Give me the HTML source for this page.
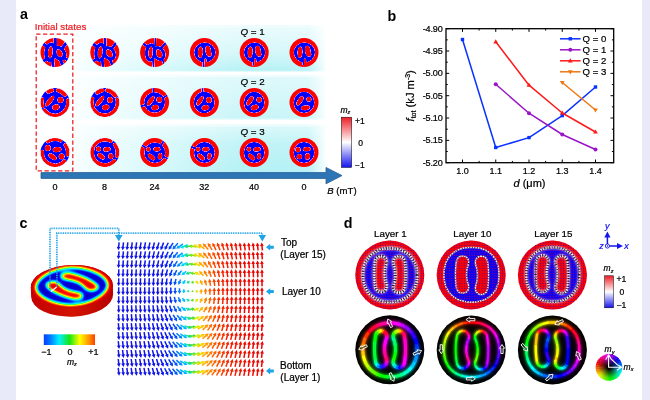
<!DOCTYPE html>
<html lang="en"><head><meta charset="utf-8"><title>Figure</title>
<style>
html,body{margin:0;padding:0;background:#fff;}
body{width:650px;height:400px;overflow:hidden;font-family:"Liberation Sans",Arial,sans-serif;}
svg{display:block}
svg text{font-family:"Liberation Sans",Arial,sans-serif;fill:#000;stroke:#000;stroke-width:0.22px}
.lbl{font-weight:bold;font-size:14.3px;stroke:none}
.i{font-style:italic}
</style></head><body>
<svg width="650" height="400" viewBox="0 0 650 400">

<defs>
<filter id="bwr" x="-5%" y="-5%" width="110%" height="110%" color-interpolation-filters="sRGB">
<feComponentTransfer><feFuncR type="table" tableValues="0 0.3 0.85 1 1"/><feFuncG type="table" tableValues="0 0.2 0.6 0.3 0"/><feFuncB type="table" tableValues="1 1 0.92 0.35 0"/></feComponentTransfer>
</filter>
<linearGradient id="band" x1="0" x2="1" y1="0" y2="0">
<stop offset="0" stop-color="#ffffff"/><stop offset="0.1" stop-color="#f1fdfd"/><stop offset="0.4" stop-color="#d3f8fa"/><stop offset="0.7" stop-color="#b4f1f5"/><stop offset="0.93" stop-color="#b9f2f6"/><stop offset="0.975" stop-color="#e3fafc"/><stop offset="1" stop-color="#ffffff"/>
</linearGradient>
<linearGradient id="bandv" x1="0" x2="0" y1="0" y2="1">
<stop offset="0" stop-color="#fff" stop-opacity="1"/><stop offset="0.04" stop-color="#fff" stop-opacity="0.72"/><stop offset="0.55" stop-color="#fff" stop-opacity="0.45"/><stop offset="0.8" stop-color="#fff" stop-opacity="0.2"/><stop offset="0.96" stop-color="#fff" stop-opacity="0"/><stop offset="1" stop-color="#fff" stop-opacity="0.8"/>
</linearGradient>
<linearGradient id="bandv2" x1="0" x2="0" y1="0" y2="1">
<stop offset="0" stop-color="#fff" stop-opacity="1"/><stop offset="0.05" stop-color="#fff" stop-opacity="0.55"/><stop offset="0.5" stop-color="#fff" stop-opacity="0.42"/><stop offset="0.95" stop-color="#fff" stop-opacity="0.25"/><stop offset="1" stop-color="#fff" stop-opacity="0.8"/>
</linearGradient>
<linearGradient id="bandv3" x1="0" x2="0" y1="0" y2="1">
<stop offset="0" stop-color="#fff" stop-opacity="1"/><stop offset="0.05" stop-color="#fff" stop-opacity="0.5"/><stop offset="0.4" stop-color="#fff" stop-opacity="0.15"/><stop offset="0.9" stop-color="#fff" stop-opacity="0"/><stop offset="1" stop-color="#fff" stop-opacity="0"/>
</linearGradient>
<linearGradient id="cbar" x1="0" x2="0" y1="0" y2="1">
<stop offset="0" stop-color="#ee1c25"/><stop offset="0.5" stop-color="#ffffff"/><stop offset="1" stop-color="#1414f0"/>
</linearGradient>
<filter id="jetf" x="-5%" y="-5%" width="110%" height="110%" color-interpolation-filters="sRGB">
<feGaussianBlur stdDeviation="1.9"/>
<feComponentTransfer><feFuncR type="table" tableValues="0 0 0 0 0.25 1 1 1 0.86"/><feFuncG type="table" tableValues="0 0.05 0.6 1 1 1 0.55 0.05 0"/><feFuncB type="table" tableValues="0.75 0.95 1 1 0.25 0 0 0 0"/></feComponentTransfer>
</filter>
<linearGradient id="cjet" x1="0" x2="1" y1="0" y2="0">
<stop offset="0" stop-color="#0a3cff"/><stop offset="0.12" stop-color="#0078ff"/><stop offset="0.3" stop-color="#00f0ff"/><stop offset="0.5" stop-color="#14e614"/><stop offset="0.7" stop-color="#ffff00"/><stop offset="0.88" stop-color="#ff9600"/><stop offset="1" stop-color="#ff3c00"/>
</linearGradient>
<linearGradient id="cside" x1="0" x2="1" y1="0" y2="0">
<stop offset="0" stop-color="#c40000"/><stop offset="0.5" stop-color="#d21400"/><stop offset="1" stop-color="#b80000"/>
</linearGradient>
<radialGradient id="cshade" cx="0.5" cy="0.5" r="0.5">
<stop offset="0" stop-color="#000" stop-opacity="0"/><stop offset="0.9" stop-color="#000" stop-opacity="0"/><stop offset="1" stop-color="#500" stop-opacity="0.18"/>
</radialGradient>
<clipPath id="cdisc"><ellipse cx="71.8" cy="286.2" rx="41" ry="21.2"/></clipPath>
<filter id="bwr1" x="-5%" y="-5%" width="110%" height="110%" color-interpolation-filters="sRGB"><feGaussianBlur stdDeviation="1.5"/>
<feComponentTransfer><feFuncR type="table" tableValues="0 0.05 1 1 1"/><feFuncG type="table" tableValues="0 0.05 1 0.05 0"/><feFuncB type="table" tableValues="1 1 1 0.05 0"/></feComponentTransfer></filter>
<filter id="bwr10" x="-5%" y="-5%" width="110%" height="110%" color-interpolation-filters="sRGB"><feGaussianBlur stdDeviation="0.8"/>
<feComponentTransfer><feFuncR type="table" tableValues="0 0.05 1 1 1"/><feFuncG type="table" tableValues="0 0.05 1 0.05 0"/><feFuncB type="table" tableValues="1 1 1 0.05 0"/></feComponentTransfer></filter>
<filter id="bwr15" x="-5%" y="-5%" width="110%" height="110%" color-interpolation-filters="sRGB"><feGaussianBlur stdDeviation="1.2"/>
<feComponentTransfer><feFuncR type="table" tableValues="0 0.05 1 1 1"/><feFuncG type="table" tableValues="0 0.05 1 0.05 0"/><feFuncB type="table" tableValues="1 1 1 0.05 0"/></feComponentTransfer></filter>
<filter id="glowm" x="-15%" y="-15%" width="130%" height="130%" color-interpolation-filters="sRGB">
<feGaussianBlur in="SourceGraphic" stdDeviation="1.3" result="b1"/><feGaussianBlur in="SourceGraphic" stdDeviation="2.6" result="b2"/>
<feComponentTransfer in="b2" result="b2a"><feFuncA type="linear" slope="0.75"/></feComponentTransfer>
<feComponentTransfer in="b1" result="b1a"><feFuncA type="linear" slope="1"/></feComponentTransfer>
<feMerge><feMergeNode in="b2a"/><feMergeNode in="b1a"/><feMergeNode in="SourceGraphic"/></feMerge></filter>
<filter id="glow" x="-10%" y="-10%" width="120%" height="120%"><feGaussianBlur stdDeviation="1.3"/></filter>
<filter id="soft" x="-10%" y="-10%" width="120%" height="120%"><feGaussianBlur stdDeviation="0.8"/></filter>
<pattern id="dots" x="-0.4" y="-0.4" width="2.54" height="2.54" patternUnits="userSpaceOnUse"><rect x="0.7" y="0.7" width="1.15" height="1.15" fill="#3200b4" fill-opacity="0.8"/></pattern>
<pattern id="rdots" x="-0.4" y="-0.4" width="2.54" height="2.54" patternUnits="userSpaceOnUse"><rect x="0.7" y="0.7" width="1.15" height="1.15" fill="#d20050" fill-opacity="0.65"/></pattern>
<pattern id="bdots" x="-0.4" y="-0.4" width="2.54" height="2.54" patternUnits="userSpaceOnUse"><rect x="0.7" y="0.7" width="1.15" height="1.15" fill="#000" fill-opacity="0.9"/></pattern>
<radialGradient id="wheel" cx="0.5" cy="0.5" r="0.5"><stop offset="0" stop-color="#000" stop-opacity="1"/><stop offset="0.15" stop-color="#000" stop-opacity="0.95"/><stop offset="0.75" stop-color="#000" stop-opacity="0.15"/><stop offset="1" stop-color="#000" stop-opacity="0"/></radialGradient>
<clipPath id="c34"><circle r="34.5"/></clipPath>
<clipPath id="c14"><circle r="14.5"/></clipPath>
</defs>
<rect width="650" height="400" fill="#fff"/>
<rect x="0" y="0" width="16" height="400" fill="#e8eafa"/>
<rect x="642" y="0" width="8" height="400" fill="#e8eafa"/>
<rect x="62" y="25.5" width="265" height="46.5" fill="url(#band)"/>
<rect x="62" y="25.5" width="265" height="46.5" fill="url(#bandv)"/>
<rect x="62" y="75.5" width="265" height="44.5" fill="url(#band)"/>
<rect x="62" y="75.5" width="265" height="44.5" fill="url(#bandv2)"/>
<rect x="62" y="124.5" width="265" height="48.5" fill="url(#band)"/>
<rect x="62" y="124.5" width="265" height="48.5" fill="url(#bandv3)"/>
<path d="M41 172.6 H326 V167.5 L342 175.6 L326 183.8 V178.4 H41 Z" fill="#2e75b6" stroke="#235d94" stroke-width="0.8"/>
<rect x="36.2" y="34.2" width="36.6" height="136.6" fill="none" stroke="#ee1c25" stroke-width="1.25" stroke-dasharray="4.3 2.5"/>
<g transform="translate(55 52.5)"><g clip-path="url(#c14)"><g filter="url(#bwr)"><rect x="-16" y="-16" width="32" height="32" fill="#fff"/><ellipse cx="-4.6" cy="-0.2" rx="4.3" ry="8" fill="none" stroke="#000" stroke-width="3.8" transform="rotate(6 -4.6 -0.2)"/><ellipse cx="4.5" cy="0.8" rx="4.6" ry="6.2" fill="none" stroke="#000" stroke-width="3.6" transform="rotate(-35 4.5 0.8)"/><path d="M0.3 -7 L0.2 -15 M-7.5 -5.5 L-13 -9.5 M7.5 -4.5 L11.5 -10 M-7.5 5.5 L-12.5 9.5 M-2.5 7 L-1.8 15 M8 4.5 L14 8.5 M5 6.5 L8.2 13.5" fill="none" stroke="#000" stroke-width="3.2" stroke-linecap="round" stroke-linejoin="round"/></g></g></g>
<g transform="translate(104.8 52.5)"><g clip-path="url(#c14)"><g filter="url(#bwr)"><rect x="-16" y="-16" width="32" height="32" fill="#fff"/><ellipse cx="-4.6" cy="-0.2" rx="4.2" ry="7.9" fill="none" stroke="#000" stroke-width="3.5" transform="rotate(6 -4.6 -0.2)"/><ellipse cx="4.5" cy="0.8" rx="4.5" ry="6.1" fill="none" stroke="#000" stroke-width="3.3" transform="rotate(-35 4.5 0.8)"/><path d="M0.3 -7 L0.2 -15 M-7.5 -5.5 L-13 -9.5 M7.5 -4.5 L11.5 -10 M-7.5 5.5 L-12.5 9.5 M-2.5 7 L-1.8 15 M5 6.5 L8 13.5" fill="none" stroke="#000" stroke-width="2.8" stroke-linecap="round" stroke-linejoin="round"/></g></g></g>
<g transform="translate(154.6 52.5)"><g clip-path="url(#c14)"><g filter="url(#bwr)"><rect x="-16" y="-16" width="32" height="32" fill="#fff"/><ellipse cx="-3.9" cy="0" rx="4" ry="7.6" fill="none" stroke="#000" stroke-width="3.4" transform="rotate(5 -3.9 0)"/><ellipse cx="4.4" cy="1" rx="4.6" ry="6.1" fill="none" stroke="#000" stroke-width="3.2" transform="rotate(-30 4.4 1)"/><path d="M0.5 -7 L0.8 -15" fill="none" stroke="#000" stroke-width="1.8" stroke-linecap="round" stroke-linejoin="round"/><path d="M-6.5 -5.5 L-12.5 -9.5 M7 -5 L11.5 -10" fill="none" stroke="#000" stroke-width="2.4" stroke-linecap="round" stroke-linejoin="round"/><path d="M-1.5 7 L-1 15" fill="none" stroke="#000" stroke-width="2" stroke-linecap="round" stroke-linejoin="round"/><path d="M7.5 5.5 L9.5 12" fill="none" stroke="#000" stroke-width="1.8" stroke-linecap="round" stroke-linejoin="round"/></g></g></g>
<g transform="translate(204.4 52.5)"><g clip-path="url(#c14)"><g filter="url(#bwr)"><rect x="-16" y="-16" width="32" height="32" fill="#fff"/><ellipse cx="0.4" cy="0" rx="10.6" ry="10" fill="#000"/><path d="M-0.8 15 L-0.7 9" fill="none" stroke="#000" stroke-width="2.1" stroke-linecap="round" stroke-linejoin="round"/><ellipse cx="-4" cy="-0.3" rx="2.5" ry="5.8" fill="#fff" transform="rotate(3 -4 -0.3)"/><ellipse cx="3.8" cy="-1.6" rx="2.8" ry="5.1" fill="#fff" transform="rotate(-8 3.8 -1.6)"/><ellipse cx="5" cy="1.8" rx="2.3" ry="2.5" fill="#fff"/><path d="M1.7 13 L0.9 7" fill="none" stroke="#fff" stroke-width="2.2" stroke-linecap="round" stroke-linejoin="round"/></g></g></g>
<g transform="translate(254.2 52.5)"><g clip-path="url(#c14)"><g filter="url(#bwr)"><rect x="-16" y="-16" width="32" height="32" fill="#fff"/><ellipse cx="0.4" cy="0" rx="10.6" ry="10" fill="#000"/><path d="M-0.8 12.5 L-0.7 9" fill="none" stroke="#000" stroke-width="1.7" stroke-linecap="round" stroke-linejoin="round"/><ellipse cx="-4" cy="-0.3" rx="2.5" ry="5.8" fill="#fff" transform="rotate(3 -4 -0.3)"/><ellipse cx="3.8" cy="-1.6" rx="2.8" ry="5.1" fill="#fff" transform="rotate(-8 3.8 -1.6)"/><ellipse cx="5" cy="1.8" rx="2.3" ry="2.5" fill="#fff"/><path d="M1.7 13 L0.9 7" fill="none" stroke="#fff" stroke-width="2.2" stroke-linecap="round" stroke-linejoin="round"/></g></g></g>
<g transform="translate(304 52.5)"><g clip-path="url(#c14)"><g filter="url(#bwr)"><rect x="-16" y="-16" width="32" height="32" fill="#fff"/><ellipse cx="0.4" cy="0" rx="10.6" ry="10" fill="#000"/><path d="M-0.8 12 L-0.7 9" fill="none" stroke="#000" stroke-width="1.6" stroke-linecap="round" stroke-linejoin="round"/><ellipse cx="-4" cy="-0.3" rx="2.5" ry="5.8" fill="#fff" transform="rotate(3 -4 -0.3)"/><ellipse cx="3.8" cy="-1.6" rx="2.8" ry="5.1" fill="#fff" transform="rotate(-8 3.8 -1.6)"/><ellipse cx="5" cy="1.8" rx="2.3" ry="2.5" fill="#fff"/><path d="M1.7 13 L0.9 7" fill="none" stroke="#fff" stroke-width="2.2" stroke-linecap="round" stroke-linejoin="round"/></g></g></g>
<g transform="translate(55 102.5)"><g clip-path="url(#c14)"><g filter="url(#bwr)"><rect x="-16" y="-16" width="32" height="32" fill="#fff"/><rect x="-16" y="-16" width="32" height="32" fill="#000"/><path d="M-6.68 -10.69 A12.6 12.6 0 0 1 -3.05 -12.23" fill="none" stroke="#fff" stroke-width="4" stroke-linecap="round" stroke-linejoin="round"/><path d="M3.05 -12.23 A12.6 12.6 0 0 1 9.93 -7.76" fill="none" stroke="#fff" stroke-width="4" stroke-linecap="round" stroke-linejoin="round"/><path d="M-12.36 4.02 A13 13 0 0 1 -12.5 -3.58" fill="none" stroke="#fff" stroke-width="3.2" stroke-linecap="round" stroke-linejoin="round"/><path d="M12.7 -2.24 A12.9 12.9 0 0 1 -10.44 7.58" fill="none" stroke="#fff" stroke-width="3.4" stroke-linecap="round" stroke-linejoin="round"/><ellipse cx="-5.3" cy="-1.4" rx="2.3" ry="6.7" fill="#fff" transform="rotate(39 -5.3 -1.4)"/><ellipse cx="5.5" cy="-2.5" rx="3" ry="3" fill="#fff"/><ellipse cx="0.9" cy="4.8" rx="3.7" ry="2.8" fill="#fff" transform="rotate(-15 0.9 4.8)"/></g></g></g>
<g transform="translate(104.8 102.5)"><g clip-path="url(#c14)"><g filter="url(#bwr)"><rect x="-16" y="-16" width="32" height="32" fill="#fff"/><rect x="-16" y="-16" width="32" height="32" fill="#000"/><path d="M-7.35 -10.11 A12.5 12.5 0 0 1 -2.6 -12.23" fill="none" stroke="#fff" stroke-width="4.2" stroke-linecap="round" stroke-linejoin="round"/><path d="M2.6 -12.23 A12.5 12.5 0 0 1 10.36 -6.99" fill="none" stroke="#fff" stroke-width="4.2" stroke-linecap="round" stroke-linejoin="round"/><path d="M-11.96 4.83 A12.9 12.9 0 0 1 -12.27 -3.99" fill="none" stroke="#fff" stroke-width="3.4" stroke-linecap="round" stroke-linejoin="round"/><path d="M12.42 -3.1 A12.8 12.8 0 0 1 -10.61 7.16" fill="none" stroke="#fff" stroke-width="3.6" stroke-linecap="round" stroke-linejoin="round"/><ellipse cx="-5" cy="-1.4" rx="2.3" ry="6.5" fill="#fff" transform="rotate(39 -5 -1.4)"/><ellipse cx="5.3" cy="-2.5" rx="2.9" ry="2.9" fill="#fff"/><ellipse cx="0.9" cy="4.8" rx="3.7" ry="2.7" fill="#fff" transform="rotate(-15 0.9 4.8)"/></g></g></g>
<g transform="translate(154.6 102.5)"><g clip-path="url(#c14)"><g filter="url(#bwr)"><rect x="-16" y="-16" width="32" height="32" fill="#fff"/><ellipse cx="0" cy="0" rx="10.4" ry="10.2" fill="#000"/><path d="M-1.5 -15 L-1.3 -9" fill="none" stroke="#000" stroke-width="1.6" stroke-linecap="round" stroke-linejoin="round"/><path d="M14 -8 L9 -5 M-15 4 L-9 2.5" fill="none" stroke="#000" stroke-width="1.9" stroke-linecap="round" stroke-linejoin="round"/><ellipse cx="-3.9" cy="-1.6" rx="2.3" ry="5.8" fill="#fff" transform="rotate(36 -3.9 -1.6)"/><ellipse cx="4.7" cy="-2.8" rx="2.9" ry="2.9" fill="#fff"/><ellipse cx="0.6" cy="5" rx="3.7" ry="2.7" fill="#fff" transform="rotate(-15 0.6 5)"/></g></g></g>
<g transform="translate(204.4 102.5)"><g clip-path="url(#c14)"><g filter="url(#bwr)"><rect x="-16" y="-16" width="32" height="32" fill="#fff"/><ellipse cx="-0.2" cy="-0.1" rx="10.4" ry="10.7" fill="#000"/><path d="M-2 -15 L-1.8 -9" fill="none" stroke="#000" stroke-width="1.9" stroke-linecap="round" stroke-linejoin="round"/><ellipse cx="-4.4" cy="-1.7" rx="2.3" ry="5.5" fill="#fff" transform="rotate(34 -4.4 -1.7)"/><ellipse cx="4.5" cy="-2.5" rx="2.9" ry="2.9" fill="#fff"/><ellipse cx="1" cy="5.2" rx="3.9" ry="2.6" fill="#fff" transform="rotate(-15 1 5.2)"/></g></g></g>
<g transform="translate(254.2 102.5)"><g clip-path="url(#c14)"><g filter="url(#bwr)"><rect x="-16" y="-16" width="32" height="32" fill="#fff"/><ellipse cx="0" cy="-0.1" rx="10.3" ry="10.6" fill="#000"/><ellipse cx="-4.2" cy="-1.7" rx="2.3" ry="5.3" fill="#fff" transform="rotate(34 -4.2 -1.7)"/><ellipse cx="5" cy="-2.8" rx="2.7" ry="2.7" fill="#fff"/><ellipse cx="0.5" cy="4.9" rx="4" ry="2.6" fill="#fff" transform="rotate(-15 0.5 4.9)"/></g></g></g>
<g transform="translate(304 102.5)"><g clip-path="url(#c14)"><g filter="url(#bwr)"><rect x="-16" y="-16" width="32" height="32" fill="#fff"/><ellipse cx="0" cy="-0.1" rx="10.3" ry="10.6" fill="#000"/><ellipse cx="-4" cy="-1.7" rx="2.3" ry="5.3" fill="#fff" transform="rotate(34 -4 -1.7)"/><ellipse cx="4.9" cy="-3.2" rx="2.5" ry="2.5" fill="#fff"/><ellipse cx="1.4" cy="5.3" rx="4.5" ry="2.4" fill="#fff" transform="rotate(-6 1.4 5.3)"/></g></g></g>
<g transform="translate(55 152.5)"><g clip-path="url(#c14)"><g filter="url(#bwr)"><rect x="-16" y="-16" width="32" height="32" fill="#fff"/><rect x="-16" y="-16" width="32" height="32" fill="#000"/><path d="M-7.27 -10.78 A13 13 0 0 1 5.7 -11.68" fill="none" stroke="#fff" stroke-width="3.2" stroke-linecap="round" stroke-linejoin="round"/><path d="M10.36 -7.52 A12.8 12.8 0 0 1 12.61 2.22" fill="none" stroke="#fff" stroke-width="3.6" stroke-linecap="round" stroke-linejoin="round"/><path d="M9.51 8.56 A12.8 12.8 0 0 1 -12.77 -0.89" fill="none" stroke="#fff" stroke-width="3.6" stroke-linecap="round" stroke-linejoin="round"/><ellipse cx="-7.2" cy="-4.6" rx="3" ry="3" fill="#fff"/><ellipse cx="2.1" cy="-2.9" rx="4.4" ry="2.5" fill="#fff" transform="rotate(-5 2.1 -2.9)"/><ellipse cx="-2.5" cy="4.3" rx="4.6" ry="2.4" fill="#fff" transform="rotate(34 -2.5 4.3)"/><ellipse cx="6.6" cy="3.9" rx="2.9" ry="2.9" fill="#fff"/></g></g></g>
<g transform="translate(104.8 152.5)"><g clip-path="url(#c14)"><g filter="url(#bwr)"><rect x="-16" y="-16" width="32" height="32" fill="#fff"/><rect x="-16" y="-16" width="32" height="32" fill="#000"/><path d="M-10.86 -6.78 A12.8 12.8 0 0 1 6.01 -11.3" fill="none" stroke="#fff" stroke-width="3.6" stroke-linecap="round" stroke-linejoin="round"/><path d="M10.01 -7.82 A12.7 12.7 0 0 1 12.21 3.5" fill="none" stroke="#fff" stroke-width="3.8" stroke-linecap="round" stroke-linejoin="round"/><path d="M9.44 8.5 A12.7 12.7 0 0 1 -12.08 -3.92" fill="none" stroke="#fff" stroke-width="3.8" stroke-linecap="round" stroke-linejoin="round"/><ellipse cx="-6.3" cy="-3.4" rx="2.5" ry="2.5" fill="#fff"/><ellipse cx="2.2" cy="-3.2" rx="3.8" ry="2.3" fill="#fff" transform="rotate(-5 2.2 -3.2)"/><ellipse cx="-3.6" cy="3.9" rx="4.3" ry="2.3" fill="#fff" transform="rotate(35 -3.6 3.9)"/><ellipse cx="6" cy="3.7" rx="2.5" ry="3" fill="#fff"/></g></g></g>
<g transform="translate(154.6 152.5)"><g clip-path="url(#c14)"><g filter="url(#bwr)"><rect x="-16" y="-16" width="32" height="32" fill="#fff"/><ellipse cx="0.2" cy="0.2" rx="10.4" ry="10.2" fill="#000"/><path d="M-14 -8 L-9 -5 M10 -13 L7 -8 M15 7 L9.5 4.5" fill="none" stroke="#000" stroke-width="1.9" stroke-linecap="round" stroke-linejoin="round"/><ellipse cx="-6.2" cy="-3.2" rx="2.2" ry="2.4" fill="#fff"/><ellipse cx="2.3" cy="-3.2" rx="3.6" ry="2.2" fill="#fff" transform="rotate(-5 2.3 -3.2)"/><ellipse cx="-3.1" cy="4.5" rx="4.2" ry="2.3" fill="#fff" transform="rotate(40 -3.1 4.5)"/><ellipse cx="5.4" cy="3.7" rx="2.2" ry="3.2" fill="#fff" transform="rotate(8 5.4 3.7)"/></g></g></g>
<g transform="translate(204.4 152.5)"><g clip-path="url(#c14)"><g filter="url(#bwr)"><rect x="-16" y="-16" width="32" height="32" fill="#fff"/><ellipse cx="0" cy="0" rx="10.4" ry="10.6" fill="#000"/><path d="M-15 -6.5 L-9 -4" fill="none" stroke="#000" stroke-width="1.9" stroke-linecap="round" stroke-linejoin="round"/><ellipse cx="-6.4" cy="-3.2" rx="2.2" ry="2.4" fill="#fff"/><ellipse cx="1.4" cy="-3.2" rx="3.7" ry="2.3" fill="#fff" transform="rotate(-5 1.4 -3.2)"/><ellipse cx="-3.4" cy="4.5" rx="4.3" ry="2.4" fill="#fff" transform="rotate(40 -3.4 4.5)"/><ellipse cx="4.9" cy="3.7" rx="2.2" ry="3.3" fill="#fff" transform="rotate(8 4.9 3.7)"/></g></g></g>
<g transform="translate(254.2 152.5)"><g clip-path="url(#c14)"><g filter="url(#bwr)"><rect x="-16" y="-16" width="32" height="32" fill="#fff"/><ellipse cx="0" cy="0" rx="10.3" ry="10.6" fill="#000"/><ellipse cx="-5.3" cy="-3.3" rx="2.2" ry="2.3" fill="#fff"/><ellipse cx="2.8" cy="-3.2" rx="3.8" ry="2.2" fill="#fff" transform="rotate(-5 2.8 -3.2)"/><ellipse cx="-2.7" cy="4.5" rx="4.2" ry="2.3" fill="#fff" transform="rotate(42 -2.7 4.5)"/><ellipse cx="4.8" cy="3.7" rx="2.1" ry="3.1" fill="#fff" transform="rotate(8 4.8 3.7)"/></g></g></g>
<g transform="translate(304 152.5)"><g clip-path="url(#c14)"><g filter="url(#bwr)"><rect x="-16" y="-16" width="32" height="32" fill="#fff"/><ellipse cx="0" cy="0" rx="10.3" ry="10.6" fill="#000"/><ellipse cx="-6" cy="-2.8" rx="2.6" ry="2.6" fill="#fff"/><ellipse cx="2.9" cy="-3.3" rx="4.1" ry="2.1" fill="#fff" transform="rotate(-5 2.9 -3.3)"/><ellipse cx="-4.6" cy="4.1" rx="2.7" ry="2.6" fill="#fff"/><ellipse cx="3.5" cy="4" rx="2.6" ry="3.3" fill="#fff" transform="rotate(8 3.5 4)"/></g></g></g>
<text class="lbl" x="20" y="18.8">a</text>
<text x="34.8" y="30" font-size="9.75" style="fill:#ee1c25;stroke:#ee1c25">Initial states</text>
<text x="240.5" y="34.5" font-size="9.8"><tspan class="i">Q</tspan> = 1</text>
<text x="240.5" y="84.5" font-size="9.8"><tspan class="i">Q</tspan> = 2</text>
<text x="240.5" y="134.5" font-size="9.8"><tspan class="i">Q</tspan> = 3</text>
<text x="55" y="190.3" font-size="9" text-anchor="middle">0</text>
<text x="104.5" y="190.3" font-size="9" text-anchor="middle">8</text>
<text x="154.5" y="190.3" font-size="9" text-anchor="middle">24</text>
<text x="204.2" y="190.3" font-size="9" text-anchor="middle">32</text>
<text x="254" y="190.3" font-size="9" text-anchor="middle">40</text>
<text x="304" y="190.3" font-size="9" text-anchor="middle">0</text>
<text x="327.3" y="193.7" font-size="9.6"><tspan class="i">B</tspan> (mT)</text>
<rect x="341.4" y="117.2" width="10.3" height="50.2" fill="url(#cbar)" stroke="#000" stroke-width="0.5"/>
<text x="340.5" y="112.5" font-size="8.5" class="i">m<tspan font-size="5.5" dy="1.5">z</tspan></text>
<text x="359.8" y="123.8" font-size="8.5" text-anchor="middle">+1</text>
<text x="360.6" y="146" font-size="8.5" text-anchor="middle">0</text>
<text x="359.8" y="168.2" font-size="8.5" text-anchor="middle">−1</text>
<polyline points="462.5,39.5 495.75,147.5 529,137.6 562.25,115.6 595.5,87" fill="none" stroke="#0a32ff" stroke-width="1.5" stroke-linejoin="round"/>
<rect x="460.8" y="37.8" width="3.4" height="3.4" fill="#0a32ff"/>
<rect x="494.05" y="145.8" width="3.4" height="3.4" fill="#0a32ff"/>
<rect x="527.3" y="135.9" width="3.4" height="3.4" fill="#0a32ff"/>
<rect x="560.55" y="113.9" width="3.4" height="3.4" fill="#0a32ff"/>
<rect x="593.8" y="85.3" width="3.4" height="3.4" fill="#0a32ff"/>
<polyline points="495.75,84.2 529,113.2 562.25,134.5 595.5,149.5" fill="none" stroke="#9a14c8" stroke-width="1.5" stroke-linejoin="round"/>
<circle cx="495.75" cy="84.2" r="2" fill="#9a14c8"/>
<circle cx="529" cy="113.2" r="2" fill="#9a14c8"/>
<circle cx="562.25" cy="134.5" r="2" fill="#9a14c8"/>
<circle cx="595.5" cy="149.5" r="2" fill="#9a14c8"/>
<polyline points="495.75,41.8 529,85.2 562.25,113 595.5,132" fill="none" stroke="#ff1a1a" stroke-width="1.5" stroke-linejoin="round"/>
<path d="M495.75 39.2 L498.15 43.4 H493.35 Z" fill="#ff1a1a"/>
<path d="M529 82.6 L531.4 86.8 H526.6 Z" fill="#ff1a1a"/>
<path d="M562.25 110.4 L564.65 114.6 H559.85 Z" fill="#ff1a1a"/>
<path d="M595.5 129.4 L597.9 133.6 H593.1 Z" fill="#ff1a1a"/>
<polyline points="562.25,82.5 595.5,110" fill="none" stroke="#f07814" stroke-width="1.5" stroke-linejoin="round"/>
<path d="M562.25 85.1 L564.65 80.9 H559.85 Z" fill="#f07814"/>
<path d="M595.5 112.6 L597.9 108.4 H593.1 Z" fill="#f07814"/>
<rect x="446.0" y="28.7" width="167.7" height="134" fill="none" stroke="#000" stroke-width="1.3"/>
<path d="M446.0 28.7 h3.2 M613.7 28.7 h-3.2 M446.0 39.87 h1.8 M613.7 39.87 h-1.8 M446.0 51.03 h3.2 M613.7 51.03 h-3.2 M446.0 62.2 h1.8 M613.7 62.2 h-1.8 M446.0 73.37 h3.2 M613.7 73.37 h-3.2 M446.0 84.53 h1.8 M613.7 84.53 h-1.8 M446.0 95.7 h3.2 M613.7 95.7 h-3.2 M446.0 106.87 h1.8 M613.7 106.87 h-1.8 M446.0 118.03 h3.2 M613.7 118.03 h-3.2 M446.0 129.2 h1.8 M613.7 129.2 h-1.8 M446.0 140.37 h3.2 M613.7 140.37 h-3.2 M446.0 151.53 h1.8 M613.7 151.53 h-1.8 M446.0 162.7 h3.2 M613.7 162.7 h-3.2 M462.5 162.7 v-3.2 M462.5 28.7 v3.2 M495.75 162.7 v-3.2 M495.75 28.7 v3.2 M529 162.7 v-3.2 M529 28.7 v3.2 M562.25 162.7 v-3.2 M562.25 28.7 v3.2 M595.5 162.7 v-3.2 M595.5 28.7 v3.2 M479.12 162.7 v-1.8 M479.12 28.7 v1.8 M512.38 162.7 v-1.8 M512.38 28.7 v1.8 M545.62 162.7 v-1.8 M545.62 28.7 v1.8 M578.88 162.7 v-1.8 M578.88 28.7 v1.8" stroke="#000" stroke-width="1" fill="none"/>
<text x="442.5" y="31.7" font-size="9.1" letter-spacing="-0.2" text-anchor="end">-4.90</text>
<text x="442.5" y="54.03" font-size="9.1" letter-spacing="-0.2" text-anchor="end">-4.95</text>
<text x="442.5" y="76.37" font-size="9.1" letter-spacing="-0.2" text-anchor="end">-5.00</text>
<text x="442.5" y="98.7" font-size="9.1" letter-spacing="-0.2" text-anchor="end">-5.05</text>
<text x="442.5" y="121.03" font-size="9.1" letter-spacing="-0.2" text-anchor="end">-5.10</text>
<text x="442.5" y="143.37" font-size="9.1" letter-spacing="-0.2" text-anchor="end">-5.15</text>
<text x="442.5" y="165.7" font-size="9.1" letter-spacing="-0.2" text-anchor="end">-5.20</text>
<text x="462.5" y="174.3" font-size="9" text-anchor="middle">1.0</text>
<text x="495.75" y="174.3" font-size="9" text-anchor="middle">1.1</text>
<text x="529" y="174.3" font-size="9" text-anchor="middle">1.2</text>
<text x="562.25" y="174.3" font-size="9" text-anchor="middle">1.3</text>
<text x="595.5" y="174.3" font-size="9" text-anchor="middle">1.4</text>
<text x="529.5" y="187.2" font-size="11" text-anchor="middle"><tspan class="i">d</tspan> (μm)</text>
<text transform="translate(413.6 95.8) rotate(-90)" font-size="11.2" text-anchor="middle"><tspan class="i">f</tspan><tspan font-size="7" dy="2">tot</tspan><tspan dy="-2"> (kJ m</tspan><tspan font-size="7" dy="-3.5">-3</tspan><tspan dy="3.5">)</tspan></text>
<path d="M560 38.8 H580.6" stroke="#0a32ff" stroke-width="1.5"/>
<rect x="568.6" y="37.1" width="3.4" height="3.4" fill="#0a32ff"/>
<text x="582.6" y="42.2" font-size="9.6">Q = 0</text>
<path d="M560 49.8 H580.6" stroke="#9a14c8" stroke-width="1.5"/>
<circle cx="570.3" cy="49.8" r="2" fill="#9a14c8"/>
<text x="582.6" y="53.2" font-size="9.6">Q = 1</text>
<path d="M560 60.8 H580.6" stroke="#ff1a1a" stroke-width="1.5"/>
<path d="M570.3 58.2 L572.7 62.4 H567.9 Z" fill="#ff1a1a"/>
<text x="582.6" y="64.2" font-size="9.6">Q = 2</text>
<path d="M560 71.8 H580.6" stroke="#f07814" stroke-width="1.5"/>
<path d="M570.3 74.4 L572.7 70.2 H567.9 Z" fill="#f07814"/>
<text x="582.6" y="75.2" font-size="9.6">Q = 3</text>
<text class="lbl" x="387.6" y="20.6">b</text>
<g transform="rotate(-2 71.8 286.2)">
<path d="M30.8 286.2 v9.3 A41.0 21.2 0 0 0 112.8 295.5 v-9.3 Z" fill="url(#cside)"/>
<ellipse cx="71.8" cy="286.2" rx="41.0" ry="21.2" fill="#d80000"/>
<g clip-path="url(#cdisc)"><g filter="url(#jetf)"><rect x="20" y="255" width="104" height="64" fill="#fff"/><g transform="translate(71.8 286.2) scale(41.0 21.2) rotate(-46)"><path d="M0.84 0 L0.84 0.1 L0.83 0.18 L0.81 0.25 L0.79 0.32 L0.77 0.39 L0.74 0.45 L0.7 0.51 L0.66 0.57 L0.62 0.62 L0.57 0.66 L0.51 0.7 L0.45 0.74 L0.39 0.77 L0.32 0.79 L0.25 0.81 L0.18 0.83 L0.1 0.84 L0 0.84 L-0.1 0.84 L-0.18 0.83 L-0.25 0.81 L-0.32 0.79 L-0.39 0.77 L-0.45 0.74 L-0.51 0.7 L-0.57 0.66 L-0.62 0.62 L-0.66 0.57 L-0.7 0.51 L-0.74 0.45 L-0.77 0.39 L-0.79 0.32 L-0.81 0.25 L-0.83 0.18 L-0.84 0.1 L-0.84 0 L-0.84 -0.1 L-0.83 -0.18 L-0.81 -0.25 L-0.79 -0.32 L-0.77 -0.39 L-0.74 -0.45 L-0.7 -0.51 L-0.66 -0.57 L-0.62 -0.62 L-0.57 -0.66 L-0.51 -0.7 L-0.45 -0.74 L-0.39 -0.77 L-0.32 -0.79 L-0.25 -0.81 L-0.18 -0.83 L-0.1 -0.84 L0 -0.84 L0.1 -0.84 L0.18 -0.83 L0.25 -0.81 L0.32 -0.79 L0.39 -0.77 L0.45 -0.74 L0.51 -0.7 L0.57 -0.66 L0.62 -0.62 L0.66 -0.57 L0.7 -0.51 L0.74 -0.45 L0.77 -0.39 L0.79 -0.32 L0.81 -0.25 L0.83 -0.18 L0.84 -0.1Z" fill="#000"/><path d="M-0.11 -0.34 L-0.13 -0.29 L-0.15 -0.24 L-0.17 -0.2 L-0.18 -0.15 L-0.19 -0.1 L-0.2 -0.05 L-0.2 0 L-0.2 0.05 L-0.19 0.1 L-0.18 0.15 L-0.17 0.2 L-0.15 0.24 L-0.13 0.29 L-0.11 0.34 L-0.1 0.4 L-0.11 0.46 L-0.15 0.51 L-0.2 0.55 L-0.26 0.56 L-0.32 0.55 L-0.37 0.51 L-0.41 0.46 L-0.43 0.39 L-0.44 0.33 L-0.46 0.26 L-0.47 0.2 L-0.47 0.13 L-0.48 0.07 L-0.48 0 L-0.48 -0.07 L-0.47 -0.13 L-0.47 -0.2 L-0.46 -0.26 L-0.44 -0.33 L-0.43 -0.39 L-0.41 -0.46 L-0.37 -0.51 L-0.32 -0.55 L-0.26 -0.56 L-0.2 -0.55 L-0.15 -0.51 L-0.11 -0.46 L-0.1 -0.4Z" fill="#fff"/><path d="M0.43 -0.47 L0.45 -0.4 L0.46 -0.33 L0.48 -0.27 L0.49 -0.2 L0.49 -0.13 L0.5 -0.07 L0.5 0 L0.5 0.07 L0.49 0.13 L0.49 0.2 L0.48 0.27 L0.46 0.33 L0.45 0.4 L0.43 0.47 L0.4 0.52 L0.34 0.56 L0.28 0.57 L0.22 0.56 L0.17 0.53 L0.13 0.47 L0.12 0.41 L0.13 0.35 L0.15 0.3 L0.17 0.25 L0.19 0.2 L0.2 0.15 L0.21 0.1 L0.22 0.05 L0.22 0 L0.22 -0.05 L0.21 -0.1 L0.2 -0.15 L0.19 -0.2 L0.17 -0.25 L0.15 -0.3 L0.13 -0.35 L0.12 -0.41 L0.13 -0.47 L0.17 -0.53 L0.22 -0.56 L0.28 -0.57 L0.34 -0.56 L0.4 -0.52Z" fill="#fff"/></g></g></g>
<ellipse cx="71.8" cy="286.2" rx="41.0" ry="21.2" fill="url(#cshade)"/>
</g>
<path d="M51.4 291.2 L56.3 287.2" stroke="#fff" stroke-width="1.4" stroke-linecap="round"/>
<g fill="none" stroke="#1fa2e6" stroke-width="1.7" stroke-dasharray="0.95 0.8"><path d="M50 289 V228.4 H118.8 V235.5"/><path d="M56.9 286.5 V233.2 H262.3 V235.5"/></g>
<path d="M115 235 h7.6 l-3.8 6.6 Z M258.5 235 h7.6 l-3.8 6.6 Z" fill="#1fa2e6"/>
<path d="M266 247.2 l4.2 -3.4 v1.9 h3.6 v3 h-3.6 v1.9 Z" fill="#1fa2e6"/>
<path d="M266 291.6 l4.2 -3.4 v1.9 h3.6 v3 h-3.6 v1.9 Z" fill="#1fa2e6"/>
<path d="M266 371 l4.2 -3.4 v1.9 h3.6 v3 h-3.6 v1.9 Z" fill="#1fa2e6"/>
<path fill="#1414e5" d="M118.37 242.37 117.91 246.79 116.76 246.67 118.29 250.35 120.54 247.07 119.4 246.95 119.86 242.53Z M118.31 251.35 117.91 255.76 116.77 255.66 118.34 259.31 120.55 256 119.4 255.9 119.81 251.48Z M122.45 269.31 122.28 273.72 121.13 273.67 122.89 277.24 124.92 273.82 123.77 273.77 123.94 269.37Z M126.63 287.27 126.63 291.67 125.48 291.67 127.38 295.17 129.28 291.67 128.13 291.67 128.13 287.27Z M122.02 314.22 122.33 318.62 121.18 318.71 123.32 322.06 124.97 318.44 123.82 318.52 123.51 314.11Z M117.55 332.17 118 336.59 116.86 336.7 119.1 339.99 120.64 336.32 119.49 336.43 119.04 332.02Z M117.52 341.14 118.01 345.56 116.86 345.68 119.13 348.96 120.64 345.27 119.5 345.4 119.01 340.98Z"/>
<path fill="#1314e5" d="M122.73 242.37 122.25 246.79 121.1 246.66 122.61 250.35 124.88 247.08 123.74 246.95 124.22 242.53Z M127.1 242.36 126.58 246.79 125.44 246.65 126.92 250.35 129.22 247.09 128.07 246.96 128.59 242.54Z M131.48 242.36 130.92 246.78 129.78 246.64 131.23 250.35 133.55 247.11 132.41 246.97 132.97 242.55Z M122.67 251.34 122.25 255.76 121.11 255.65 122.67 259.31 124.89 256.01 123.74 255.9 124.17 251.49Z M127.04 251.34 126.59 255.76 125.45 255.64 126.98 259.31 129.23 256.02 128.08 255.91 128.53 251.49Z M131.41 251.33 130.93 255.75 129.79 255.63 131.3 259.31 133.56 256.04 132.42 255.91 132.9 251.5Z M122.58 260.33 122.26 264.73 121.11 264.65 122.76 268.28 124.9 264.92 123.76 264.84 124.07 260.43Z M126.94 260.32 126.6 264.73 125.46 264.64 127.08 268.28 129.24 264.93 128.1 264.84 128.43 260.44Z M131.31 260.32 130.94 264.73 129.8 264.63 131.4 268.28 133.58 264.95 132.44 264.85 132.8 260.44Z M126.8 269.31 126.62 273.71 125.47 273.67 127.22 277.24 129.26 273.83 128.12 273.78 128.3 269.38Z M131.16 269.31 130.96 273.71 129.81 273.66 131.54 277.24 133.6 273.83 132.46 273.78 132.66 269.38Z M135.53 269.31 135.3 273.71 134.15 273.64 135.86 277.24 137.94 273.85 136.79 273.79 137.03 269.39Z M126.68 278.3 126.63 282.7 125.48 282.68 127.34 286.21 129.28 282.73 128.13 282.72 128.18 278.32Z M131.03 278.3 130.97 282.7 129.82 282.68 131.67 286.21 133.62 282.73 132.47 282.72 132.53 278.32Z M135.39 278.3 135.31 282.69 134.16 282.67 136 286.21 137.96 282.74 136.81 282.72 136.89 278.32Z M130.98 287.27 130.98 291.67 129.83 291.67 131.73 295.17 133.63 291.67 132.48 291.67 132.48 287.27Z M135.32 287.27 135.32 291.67 134.17 291.67 136.07 295.17 137.97 291.67 136.82 291.67 136.82 287.27Z M126.59 296.24 126.64 300.64 125.49 300.66 127.43 304.14 129.29 300.61 128.14 300.63 128.09 296.23Z M130.92 296.25 130.98 300.65 129.83 300.66 131.78 304.13 133.63 300.61 132.48 300.62 132.42 296.23Z M135.25 296.25 135.33 300.65 134.18 300.67 136.14 304.13 137.98 300.6 136.83 300.62 136.75 296.22Z M126.47 305.23 126.65 309.63 125.51 309.68 127.55 313.1 129.3 309.52 128.15 309.57 127.97 305.17Z M130.8 305.24 131 309.64 129.85 309.69 131.91 313.1 133.65 309.52 132.5 309.57 132.3 305.17Z M135.12 305.24 135.34 309.64 134.2 309.7 136.27 313.1 137.99 309.5 136.84 309.56 136.61 305.16Z M126.34 314.22 126.67 318.63 125.52 318.71 127.68 322.06 129.31 318.43 128.17 318.52 127.84 314.11Z M130.66 314.23 131.02 318.63 129.87 318.73 132.04 322.06 133.66 318.42 132.51 318.51 132.16 314.11Z M134.97 314.23 135.36 318.64 134.22 318.74 136.42 322.06 138 318.41 136.86 318.51 136.47 314.1Z M121.93 323.2 122.34 327.61 121.19 327.72 123.41 331.03 124.98 327.37 123.83 327.47 123.42 323.06Z M126.25 323.2 126.68 327.62 125.54 327.73 127.77 331.03 129.32 327.36 128.18 327.47 127.74 323.06Z M130.57 323.21 131.03 327.62 129.89 327.75 132.14 331.03 133.67 327.35 132.52 327.47 132.06 323.05Z M121.88 332.17 122.35 336.59 121.2 336.71 123.46 339.99 124.98 336.31 123.84 336.43 123.37 332.01Z M126.2 332.18 126.69 336.6 125.55 336.73 127.83 339.99 129.33 336.3 128.18 336.43 127.69 332.01Z M130.51 332.18 131.04 336.61 129.9 336.74 132.2 339.99 133.67 336.29 132.53 336.43 132 332.01Z M121.85 341.14 122.35 345.56 121.21 345.69 123.49 348.96 124.98 345.26 123.84 345.39 123.34 340.97Z M126.16 341.15 126.7 345.57 125.56 345.71 127.86 348.96 129.33 345.25 128.19 345.39 127.65 340.97Z M130.47 341.16 131.05 345.58 129.9 345.73 132.24 348.95 133.67 345.24 132.53 345.39 131.96 340.96Z M117.51 350.11 118.01 354.53 116.87 354.66 119.15 357.92 120.64 354.23 119.5 354.36 119 349.94Z M121.83 350.11 122.35 354.53 121.21 354.67 123.51 357.92 124.99 354.22 123.84 354.36 123.32 349.93Z M126.14 350.12 126.7 354.54 125.56 354.68 127.88 357.92 129.33 354.21 128.19 354.35 127.63 349.93Z M130.45 350.12 131.05 354.55 129.91 354.7 132.26 357.92 133.67 354.2 132.54 354.35 131.94 349.92Z M117.49 359.07 118.01 363.5 116.87 363.63 119.16 366.89 120.64 363.19 119.5 363.32 118.98 358.9Z M121.82 359.08 122.36 363.5 121.21 363.64 123.52 366.88 124.99 363.18 123.84 363.32 123.3 358.9Z M126.13 359.08 126.7 363.51 125.56 363.66 127.9 366.88 129.33 363.17 128.19 363.32 127.62 358.89Z M117.49 368.04 118.01 372.46 116.87 372.6 119.17 375.85 120.64 372.15 119.5 372.29 118.98 367.86Z M121.81 368.04 122.36 372.47 121.22 372.61 123.53 375.85 124.99 372.14 123.85 372.28 123.29 367.86Z M126.12 368.05 126.7 372.48 125.56 372.63 127.91 375.85 129.33 372.13 128.19 372.28 127.61 367.85Z"/>
<path fill="#1214e6" d="M135.87 242.35 135.26 246.78 134.12 246.62 135.52 250.34 137.89 247.14 136.75 246.98 137.36 242.56Z M140.2 251.32 139.6 255.74 138.47 255.58 139.88 259.31 142.23 256.09 141.09 255.94 141.69 251.52Z M140.08 260.31 139.62 264.71 138.47 264.59 140 268.27 142.25 264.99 141.11 264.87 141.57 260.46Z M139.91 269.3 139.64 273.7 138.49 273.63 140.17 277.24 142.28 273.86 141.13 273.79 141.41 269.39Z M144.12 278.29 143.99 282.68 142.84 282.65 144.64 286.2 146.64 282.76 145.49 282.72 145.62 278.34Z M144 287.28 144 291.67 142.85 291.67 144.75 295.17 146.65 291.67 145.5 291.67 145.5 287.28Z M143.89 296.26 144.02 300.65 142.87 300.68 144.86 304.13 146.67 300.58 145.52 300.61 145.39 296.22Z M143.72 305.26 144.04 309.65 142.89 309.74 145.04 313.09 146.68 309.47 145.53 309.55 145.22 305.15Z M139.27 314.24 139.71 318.65 138.57 318.77 140.81 322.06 142.35 318.39 141.2 318.5 140.77 314.09Z M139.16 323.23 139.73 327.65 138.59 327.79 140.92 331.02 142.36 327.31 141.22 327.46 140.65 323.04Z M139.1 332.21 139.74 336.63 138.6 336.8 140.98 339.99 142.36 336.25 141.22 336.41 140.58 331.99Z M139.06 341.18 139.75 345.61 138.61 345.78 141.03 348.95 142.36 345.2 141.23 345.38 140.54 340.95Z M134.75 350.14 135.4 354.56 134.26 354.73 136.65 357.92 138.02 354.18 136.88 354.34 136.23 349.92Z M139.03 350.15 139.75 354.58 138.62 354.76 141.05 357.91 142.37 354.15 141.23 354.34 140.51 349.91Z M134.73 359.1 135.4 363.53 134.26 363.7 136.67 366.88 138.02 363.13 136.88 363.31 136.21 358.88Z M134.71 368.07 135.4 372.5 134.27 372.68 136.68 375.84 138.02 372.09 136.89 372.27 136.2 367.84Z"/>
<path fill="#1214e7" d="M140.28 242.34 139.6 246.77 138.46 246.59 139.8 250.34 142.21 247.17 141.08 247 141.77 242.57Z M144.49 260.3 143.95 264.7 142.81 264.56 144.28 268.27 146.58 265.02 145.44 264.88 145.98 260.48Z M144.3 269.3 143.97 273.69 142.83 273.6 144.46 277.23 146.62 273.89 145.47 273.8 145.8 269.41Z M148.35 287.28 148.35 291.66 147.2 291.66 149.1 295.16 151 291.66 149.85 291.66 149.85 287.28Z M143.56 314.26 144.06 318.66 142.92 318.79 145.21 322.06 146.7 318.36 145.55 318.49 145.05 314.09Z M143.44 323.25 144.08 327.66 142.94 327.83 145.33 331.02 146.7 327.28 145.57 327.45 144.92 323.03Z M143.37 332.23 144.09 336.65 142.96 336.84 145.4 339.98 146.71 336.22 145.57 336.41 144.85 331.98Z M139.01 359.12 139.76 363.55 138.62 363.74 141.08 366.88 142.37 363.11 141.23 363.3 140.49 358.87Z M138.99 368.09 139.76 372.52 138.63 372.72 141.1 375.84 142.37 372.07 141.24 372.26 140.47 367.83Z"/>
<path fill="#1114e7" d="M144.72 242.33 143.93 246.76 142.8 246.55 144.05 250.33 146.54 247.22 145.41 247.02 146.19 242.6Z M144.63 251.31 143.94 255.73 142.8 255.55 144.14 259.3 146.56 256.13 145.42 255.96 146.11 251.54Z M148.5 278.29 148.33 282.67 147.18 282.62 148.95 286.19 150.98 282.77 149.83 282.72 150 278.35Z M148.2 296.28 148.36 300.65 147.21 300.69 149.24 304.12 151.01 300.56 149.86 300.6 149.7 296.22Z M148.01 305.28 148.39 309.66 147.24 309.76 149.44 313.08 151.03 309.43 149.88 309.53 149.5 305.15Z M143.32 341.2 144.1 345.63 142.97 345.83 145.45 348.94 146.71 345.17 145.58 345.37 144.8 340.94Z M143.29 350.17 144.11 354.6 142.98 354.81 145.48 357.91 146.71 354.12 145.58 354.33 144.77 349.9Z M143.27 359.14 144.11 363.57 142.98 363.79 145.5 366.87 146.72 363.08 145.59 363.29 144.74 358.86Z"/>
<path fill="#1014e9" d="M149.18 242.33 148.26 246.74 147.13 246.51 148.28 250.32 150.85 247.28 149.73 247.05 150.65 242.63Z M153.39 260.29 152.62 264.66 151.49 264.46 152.75 268.24 155.23 265.12 154.1 264.92 154.87 260.55Z M153.15 269.29 152.64 273.65 151.5 273.52 152.99 277.21 155.28 273.95 154.13 273.82 154.64 269.46Z M152.26 305.31 152.74 309.67 151.6 309.8 153.87 313.07 155.38 309.39 154.23 309.51 153.76 305.15Z M152.06 314.32 152.78 318.7 151.64 318.89 154.08 322.03 155.39 318.27 154.26 318.46 153.54 314.07Z M151.91 323.31 152.8 327.71 151.67 327.94 154.23 330.99 155.4 327.19 154.27 327.41 153.38 323.01Z M151.83 332.3 152.82 336.71 151.7 336.96 154.32 339.95 155.41 336.12 154.28 336.38 153.29 331.97Z M147.5 359.18 148.48 363.6 147.35 363.85 149.96 366.86 151.06 363.03 149.94 363.28 148.97 358.85Z M147.48 368.15 148.48 372.57 147.36 372.83 149.99 375.82 151.06 371.99 149.94 372.24 148.94 367.82Z"/>
<path fill="#0f14ea" d="M153.69 242.32 152.59 246.72 151.47 246.44 152.46 250.3 155.16 247.36 154.04 247.08 155.14 242.69Z M153.57 251.3 152.6 255.69 151.48 255.44 152.58 259.27 155.19 256.26 154.06 256.01 155.03 251.62Z M157.3 278.31 157.01 282.61 155.86 282.53 157.52 286.15 159.65 282.79 158.5 282.71 158.79 278.41Z M157.03 287.32 157.03 291.63 155.88 291.63 157.78 295.13 159.68 291.63 158.53 291.63 158.53 287.32Z M156.78 296.33 157.06 300.64 155.91 300.72 158.04 304.09 159.7 300.47 158.56 300.55 158.27 296.24Z M156.49 305.36 157.1 309.68 155.96 309.84 158.33 313.05 159.72 309.32 158.58 309.48 157.98 305.15Z M151.77 341.27 152.83 345.69 151.71 345.96 154.38 348.92 155.41 345.07 154.29 345.34 153.23 340.92Z M151.73 350.25 152.84 354.66 151.72 354.94 154.42 357.88 155.41 354.02 154.29 354.3 153.19 349.88Z M151.7 359.22 152.85 363.64 151.73 363.93 154.45 366.84 155.41 362.97 154.3 363.26 153.15 358.85Z M151.68 368.2 152.85 372.61 151.74 372.9 154.48 375.8 155.41 371.93 154.3 372.22 153.13 367.81Z"/>
<path fill="#0d14ec" d="M158.25 242.32 156.91 246.69 155.81 246.35 156.6 250.25 159.44 247.47 158.34 247.13 159.69 242.77Z M158.11 251.3 156.92 255.66 155.82 255.36 156.73 259.23 159.48 256.35 158.37 256.05 159.56 251.69Z M161.37 287.36 161.37 291.59 160.22 291.59 162.12 295.09 164.02 291.59 162.87 291.59 162.87 287.36Z M161.03 296.39 161.41 300.62 160.26 300.73 162.47 304.04 164.05 300.39 162.9 300.49 162.53 296.26Z M155.86 359.29 157.23 363.68 156.13 364.02 158.99 366.8 159.76 362.89 158.66 363.24 157.29 358.85Z M155.83 368.27 157.24 372.65 156.14 373 159.02 375.76 159.76 371.85 158.66 372.2 157.26 367.81Z"/>
<path fill="#0b14ef" d="M162.89 242.35 161.23 246.64 160.15 246.23 160.66 250.18 163.7 247.6 162.62 247.19 164.28 242.89Z M162.72 251.32 161.25 255.61 160.16 255.24 160.82 259.16 163.75 256.47 162.67 256.1 164.14 251.81Z M165.72 287.44 165.72 291.51 164.57 291.51 166.47 295.01 168.37 291.51 167.22 291.51 167.22 287.44Z M159.94 368.38 161.64 372.71 160.56 373.13 163.61 375.7 164.1 371.74 163.03 372.16 161.34 367.83Z"/>
<path fill="#0826f3" d="M167.61 242.42 165.54 246.58 164.51 246.07 164.65 250.05 167.91 247.76 166.88 247.25 168.95 243.09Z"/>
<path fill="#0543f7" d="M172.44 242.57 169.85 246.49 168.89 245.85 168.55 249.82 172.07 247.95 171.11 247.31 173.69 243.39Z"/>
<path fill="#0169fd" d="M177.37 242.85 174.18 246.35 173.33 245.58 172.37 249.45 176.14 248.14 175.29 247.37 178.48 243.86Z"/>
<path fill="#00a0fd" d="M182.38 243.34 178.53 246.18 177.85 245.25 176.16 248.86 180.1 248.31 179.42 247.39 183.27 244.54Z"/>
<path fill="#02e1f2" d="M187.37 244.09 182.94 245.96 182.49 244.9 180.01 248.02 183.97 248.41 183.52 247.35 187.96 245.47Z"/>
<path fill="#22de72" d="M192.2 245.11 187.42 245.74 187.27 244.6 184.05 246.95 187.78 248.37 187.62 247.23 192.4 246.59Z"/>
<path fill="#87e61a" d="M196.75 246.26 191.98 245.56 192.14 244.42 188.4 245.8 191.59 248.18 191.76 247.05 196.53 247.75Z"/>
<path fill="#f1dd00" d="M200.97 247.37 196.56 245.45 197.02 244.4 193.05 244.74 195.5 247.88 195.96 246.83 200.37 248.75Z"/>
<path fill="#ffac00" d="M204.97 248.29 201.14 245.41 201.84 244.5 197.9 243.91 199.55 247.53 200.24 246.61 204.06 249.49Z M204.81 257.27 201.28 254.46 201.99 253.56 198.07 252.87 199.63 256.54 200.34 255.64 203.87 258.44Z M204.49 266.27 201.53 263.61 202.3 262.76 198.42 261.83 199.76 265.58 200.53 264.73 203.49 267.38Z M203.92 275.3 201.91 272.96 202.78 272.21 199.06 270.8 199.9 274.69 200.77 273.94 202.79 276.28Z"/>
<path fill="#ff8000" d="M208.86 248.97 205.69 245.44 206.55 244.67 202.8 243.33 203.72 247.21 204.58 246.44 207.74 249.97Z M205.29 303.47 206.18 300.69 207.27 301.03 206.52 297.12 203.65 299.89 204.75 300.23 203.86 303.02Z M207.57 366.52 210.92 362.94 211.76 363.72 212.76 359.87 208.98 361.13 209.82 361.91 206.47 365.49Z"/>
<path fill="#fd6300" d="M212.75 249.43 210.19 245.49 211.16 244.86 207.66 242.96 207.97 246.93 208.94 246.31 211.5 250.24Z"/>
<path fill="#fb4c00" d="M216.7 249.72 214.65 245.55 215.69 245.05 212.44 242.74 212.28 246.72 213.31 246.22 215.36 250.39Z M213.84 313.02 215.04 309.06 216.14 309.4 215.35 305.5 212.51 308.29 213.61 308.63 212.4 312.59Z"/>
<path fill="#f83800" d="M220.72 249.92 219.08 245.62 220.15 245.21 217.13 242.62 216.6 246.56 217.68 246.15 219.32 250.45Z M222.1 358.03 223.83 353.72 224.9 354.14 224.43 350.19 221.37 352.73 222.43 353.16 220.71 357.48Z"/>
<path fill="#f52900" d="M224.81 250.04 223.48 245.67 224.58 245.34 221.74 242.54 220.95 246.44 222.05 246.11 223.38 250.48Z"/>
<path fill="#f31e00" d="M228.96 250.12 227.86 245.72 228.98 245.44 226.29 242.5 225.29 246.36 226.41 246.08 227.5 250.48Z"/>
<path fill="#f01600" d="M233.15 250.17 232.23 245.75 233.36 245.52 230.79 242.48 229.64 246.29 230.77 246.06 231.68 250.47Z M235.85 349.09 236.78 344.66 237.91 344.9 236.77 341.08 234.19 344.12 235.32 344.35 234.38 348.78Z"/>
<path fill="#ef1100" d="M237.38 250.2 236.6 245.78 237.73 245.58 235.25 242.47 233.99 246.24 235.12 246.04 235.9 250.46Z M232.35 295.15 232.35 290.79 233.5 290.79 231.6 287.29 229.7 290.79 230.85 290.79 230.85 295.15Z M236.17 322.15 236.75 317.75 237.89 317.9 236.47 314.18 234.12 317.4 235.26 317.55 234.68 321.95Z"/>
<path fill="#ee0c00" d="M241.64 250.23 240.95 245.8 242.09 245.63 239.68 242.46 238.34 246.21 239.47 246.03 240.16 250.46Z"/>
<path fill="#ed0900" d="M245.92 250.24 245.31 245.82 246.45 245.66 244.09 242.45 242.68 246.18 243.82 246.02 244.43 250.45Z M241.14 286.18 241.03 281.79 242.18 281.76 240.19 278.31 238.38 281.86 239.53 281.83 239.64 286.22Z M244.99 322.13 245.42 317.73 246.57 317.84 245.02 314.17 242.78 317.47 243.93 317.58 243.5 321.99Z M249.15 349.06 249.78 344.63 250.92 344.8 249.54 341.06 247.16 344.26 248.3 344.42 247.66 348.85Z M253.47 375.96 254.13 371.53 255.27 371.7 253.91 367.95 251.51 371.14 252.65 371.31 251.98 375.73Z"/>
<path fill="#ec0700" d="M250.21 250.25 249.66 245.83 250.8 245.69 248.48 242.45 247.03 246.16 248.17 246.02 248.72 250.44Z M245.6 277.2 245.35 272.8 246.5 272.73 244.41 269.35 242.71 272.95 243.86 272.88 244.1 277.28Z M245.46 286.19 245.37 281.79 246.52 281.77 244.55 278.31 242.72 281.85 243.87 281.82 243.96 286.22Z M245.3 304.15 245.39 299.75 246.54 299.78 244.71 296.24 242.74 299.7 243.89 299.72 243.8 304.12Z M249.37 322.13 249.76 317.72 250.91 317.82 249.32 314.17 247.12 317.49 248.27 317.59 247.88 322Z M249.26 331.11 249.77 326.69 250.91 326.83 249.43 323.13 247.14 326.39 248.28 326.52 247.77 330.94Z M253.54 349.05 254.12 344.63 255.26 344.78 253.83 341.06 251.49 344.28 252.63 344.43 252.05 348.86Z M257.86 375.95 258.47 371.52 259.61 371.68 258.2 367.95 255.84 371.16 256.98 371.32 256.37 375.74Z"/>
<path fill="#eb0500" d="M254.52 250.26 254.01 245.84 255.15 245.71 252.86 242.45 251.37 246.15 252.52 246.01 253.03 250.44Z M254.46 259.24 254.01 254.82 255.16 254.71 252.91 251.42 251.38 255.09 252.52 254.97 252.97 259.39Z M249.78 286.19 249.72 281.8 250.87 281.78 248.91 278.31 247.07 281.84 248.22 281.82 248.28 286.22Z M249.66 304.15 249.73 299.75 250.88 299.77 249.04 296.24 247.08 299.71 248.23 299.72 248.16 304.12Z M253.75 322.12 254.1 317.71 255.25 317.81 253.63 314.17 251.46 317.5 252.6 317.6 252.25 322Z M257.96 340.08 258.46 335.66 259.6 335.79 258.1 332.09 255.82 335.36 256.97 335.49 256.47 339.91Z M257.92 349.05 258.46 344.62 259.6 344.76 258.14 341.06 255.83 344.3 256.97 344.44 256.43 348.86Z M262.25 366.98 262.8 362.55 263.94 362.7 262.49 358.99 260.17 362.22 261.32 362.37 260.76 366.79Z"/>
<path fill="#eb0400" d="M258.84 250.27 258.35 245.85 259.49 245.72 257.22 242.45 255.72 246.14 256.86 246.01 257.34 250.43Z M258.78 259.24 258.36 254.83 259.5 254.72 257.28 251.41 255.72 255.08 256.87 254.97 257.29 259.39Z M254.37 268.22 254.03 263.81 255.17 263.72 253.01 260.38 251.39 264.02 252.53 263.93 252.87 268.34Z M254.24 277.21 254.04 272.81 255.19 272.76 253.14 269.34 251.4 272.92 252.55 272.87 252.74 277.27Z M254.12 286.2 254.06 281.8 255.21 281.78 253.26 278.31 251.41 281.83 252.56 281.82 252.62 286.22Z M249.72 295.17 249.72 290.77 250.87 290.77 248.97 287.27 247.07 290.77 248.22 290.77 248.22 295.17Z M254.01 304.14 254.07 299.75 255.22 299.76 253.37 296.24 251.42 299.71 252.57 299.73 252.51 304.13Z M253.89 313.13 254.08 308.73 255.23 308.78 253.49 305.2 251.44 308.61 252.59 308.66 252.39 313.07Z M258.11 322.12 258.44 317.71 259.59 317.8 257.95 314.17 255.8 317.52 256.94 317.6 256.62 322.01Z M258.02 331.1 258.45 326.69 259.59 326.8 258.05 323.13 255.81 326.43 256.96 326.54 256.52 330.95Z M262.29 349.04 262.8 344.62 263.94 344.75 262.46 341.06 260.17 344.32 261.31 344.45 260.8 348.87Z M262.27 358.01 262.8 353.59 263.94 353.73 262.48 350.02 260.17 353.27 261.31 353.41 260.78 357.83Z"/>
<path fill="#eb0300" d="M263.16 250.27 262.7 245.85 263.84 245.73 261.59 242.45 260.06 246.13 261.21 246.01 261.67 250.43Z M263.11 259.25 262.7 254.83 263.85 254.73 261.64 251.41 260.07 255.07 261.21 254.97 261.61 259.38Z M258.69 268.22 258.37 263.82 259.52 263.73 257.37 260.38 255.73 264.01 256.88 263.92 257.19 268.33Z M258.56 277.21 258.39 272.81 259.54 272.77 257.5 269.34 255.74 272.92 256.89 272.87 257.06 277.27Z M258.45 286.2 258.4 281.8 259.55 281.79 257.62 278.31 255.75 281.83 256.9 281.82 256.95 286.21Z M254.07 295.17 254.07 290.77 255.22 290.77 253.32 287.27 251.42 290.77 252.57 290.77 252.57 295.17Z M258.36 304.14 258.41 299.74 259.56 299.76 257.7 296.24 255.76 299.72 256.91 299.73 256.86 304.13Z M258.25 313.13 258.43 308.73 259.57 308.77 257.82 305.2 255.78 308.62 256.93 308.67 256.75 313.07Z M262.47 322.12 262.78 317.71 263.93 317.79 262.27 314.16 260.14 317.52 261.28 317.6 260.98 322.01Z M262.38 331.1 262.79 326.68 263.94 326.79 262.37 323.13 260.15 326.44 261.3 326.54 260.89 330.96Z M262.32 340.07 262.8 335.65 263.94 335.78 262.42 332.09 260.16 335.37 261.3 335.49 260.83 339.91Z"/>
<path fill="#1314e6" d="M135.8 251.33 135.27 255.75 134.13 255.61 135.59 259.31 137.9 256.06 136.76 255.93 137.29 251.51Z M135.69 260.31 135.28 264.72 134.14 264.62 135.71 268.28 137.92 264.96 136.77 264.86 137.18 260.45Z M139.75 278.29 139.65 282.69 138.5 282.66 140.32 286.2 142.3 282.75 141.15 282.72 141.25 278.33Z M139.66 287.27 139.66 291.67 138.51 291.67 140.41 295.17 142.31 291.67 141.16 291.67 141.16 287.27Z M139.58 296.26 139.67 300.65 138.52 300.67 140.5 304.13 142.32 300.59 141.17 300.62 141.08 296.22Z M139.43 305.25 139.69 309.65 138.54 309.72 140.65 313.1 142.34 309.49 141.19 309.56 140.92 305.16Z M134.87 323.22 135.38 327.63 134.24 327.77 136.52 331.03 138.01 327.33 136.87 327.46 136.36 323.05Z M134.81 332.19 135.39 336.62 134.25 336.77 136.59 339.99 138.02 336.27 136.88 336.42 136.3 332Z M134.77 341.17 135.39 345.59 134.26 345.75 136.62 348.95 138.02 345.22 136.88 345.38 136.26 340.96Z M130.44 359.09 131.05 363.52 129.91 363.68 132.28 366.88 133.68 363.15 132.54 363.31 131.92 358.89Z M130.42 368.06 131.05 372.49 129.91 372.65 132.29 375.85 133.68 372.11 132.54 372.28 131.91 367.85Z"/>
<path fill="#1014e8" d="M149.08 251.3 148.27 255.71 147.14 255.5 148.38 259.29 150.88 256.19 149.75 255.98 150.55 251.57Z M152.89 278.3 152.67 282.65 151.52 282.59 153.24 286.18 155.32 282.78 154.17 282.72 154.39 278.37Z M152.5 296.3 152.71 300.65 151.56 300.71 153.63 304.11 155.36 300.52 154.21 300.58 154 296.22Z M147.53 350.2 148.47 354.63 147.35 354.87 149.93 357.9 151.06 354.08 149.94 354.32 149 349.89Z"/>
<path fill="#0921f2" d="M167.42 251.38 165.57 255.54 164.52 255.07 164.83 259.04 167.99 256.62 166.94 256.15 168.79 251.99Z"/>
<path fill="#063ef6" d="M172.21 251.51 169.89 255.44 168.9 254.85 168.76 258.83 172.17 256.79 171.19 256.2 173.51 252.28Z"/>
<path fill="#0263fc" d="M177.12 251.78 174.24 255.29 173.35 254.57 172.6 258.48 176.29 256.97 175.4 256.25 178.28 252.73Z"/>
<path fill="#0099fd" d="M182.11 252.24 178.63 255.11 177.9 254.22 176.4 257.91 180.31 257.15 179.58 256.26 183.07 253.4Z"/>
<path fill="#00dffa" d="M187.11 252.98 183.08 254.89 182.59 253.85 180.24 257.07 184.22 257.29 183.73 256.25 187.75 254.33Z"/>
<path fill="#20de7b" d="M191.96 253.99 187.61 254.7 187.43 253.56 184.28 256 188.03 257.31 187.85 256.18 192.2 255.47Z"/>
<path fill="#80e51c" d="M196.54 255.17 192.18 254.56 192.34 253.42 188.61 254.81 191.81 257.18 191.97 256.04 196.33 256.66Z"/>
<path fill="#f1de00" d="M200.79 256.32 196.74 254.48 197.21 253.44 193.24 253.72 195.65 256.9 196.12 255.85 200.18 257.69Z"/>
<path fill="#ff7f00" d="M208.71 257.96 205.79 254.48 206.67 253.74 202.96 252.28 203.76 256.19 204.64 255.45 207.56 258.93Z"/>
<path fill="#fd6200" d="M212.62 258.43 210.26 254.52 211.24 253.93 207.81 251.91 207.99 255.89 208.98 255.3 211.33 259.2Z"/>
<path fill="#fb4a00" d="M216.58 258.72 214.7 254.58 215.75 254.1 212.57 251.7 212.29 255.67 213.33 255.19 215.21 259.34Z"/>
<path fill="#f73600" d="M220.61 258.91 219.11 254.63 220.2 254.25 217.25 251.57 216.61 255.5 217.7 255.12 219.19 259.4Z"/>
<path fill="#f52700" d="M224.71 259.03 223.51 254.67 224.61 254.37 221.85 251.5 220.95 255.38 222.06 255.07 223.26 259.43Z M223 313.14 223.73 308.86 224.86 309.06 223.58 305.29 221.12 308.42 222.25 308.61 221.52 312.89Z M226.81 349.09 228.13 344.71 229.24 345.04 228.43 341.14 225.6 343.94 226.7 344.27 225.37 348.66Z"/>
<path fill="#f21d00" d="M228.87 259.1 227.88 254.71 229.01 254.46 226.39 251.46 225.3 255.29 226.42 255.04 227.4 259.43Z M231.36 349.09 232.46 344.68 233.57 344.96 232.58 341.1 229.89 344.04 231 344.32 229.9 348.73Z"/>
<path fill="#f01500" d="M233.07 259.15 232.25 254.75 233.38 254.54 230.88 251.44 229.65 255.23 230.78 255.02 231.59 259.42Z M231.94 313.15 232.4 308.78 233.54 308.9 232.01 305.22 229.76 308.51 230.9 308.63 230.45 313Z M240.19 375.98 241.13 371.55 242.25 371.79 241.12 367.97 238.54 371 239.66 371.24 238.72 375.67Z"/>
<path fill="#ef1000" d="M237.31 259.18 236.61 254.77 237.75 254.59 235.33 251.43 233.99 255.18 235.13 255 235.82 259.42Z M240.31 349.08 241.12 344.65 242.25 344.86 241 341.07 238.51 344.18 239.64 344.38 238.84 348.81Z M244.64 375.97 245.46 371.54 246.59 371.75 245.36 367.96 242.85 371.06 243.98 371.27 243.16 375.7Z"/>
<path fill="#ed0c00" d="M241.57 259.2 240.97 254.79 242.11 254.63 239.75 251.42 238.34 255.15 239.48 254.99 240.08 259.41Z M236.7 295.16 236.7 290.78 237.85 290.78 235.95 287.28 234.05 290.78 235.2 290.78 235.2 295.16Z M240.59 322.14 241.09 317.73 242.23 317.86 240.73 314.17 238.45 317.44 239.59 317.57 239.1 321.97Z M244.74 349.07 245.45 344.64 246.58 344.82 245.26 341.07 242.83 344.22 243.97 344.4 243.26 348.83Z M249.06 375.96 249.79 371.53 250.93 371.72 249.62 367.96 247.18 371.1 248.31 371.29 247.58 375.72Z"/>
<path fill="#ec0900" d="M245.85 259.22 245.32 254.8 246.46 254.66 244.15 251.42 242.69 255.12 243.83 254.98 244.36 259.4Z M241.04 295.17 241.04 290.78 242.19 290.78 240.29 287.28 238.39 290.78 239.54 290.78 239.54 295.17Z"/>
<path fill="#ec0600" d="M250.15 259.23 249.67 254.81 250.81 254.69 248.54 251.42 247.03 255.1 248.18 254.98 248.66 259.39Z M250.05 268.21 249.68 263.81 250.83 263.71 248.64 260.38 247.04 264.03 248.19 263.93 248.56 268.34Z M245.38 295.17 245.38 290.77 246.53 290.77 244.63 287.27 242.73 290.77 243.88 290.77 243.88 295.17Z M249.52 313.14 249.74 308.74 250.89 308.79 249.17 305.2 247.1 308.6 248.25 308.66 248.03 313.06Z M253.58 340.08 254.12 335.66 255.26 335.8 253.79 332.09 251.49 335.34 252.63 335.48 252.09 339.9Z M257.89 358.02 258.46 353.59 259.6 353.74 258.17 350.02 255.83 353.25 256.97 353.4 256.41 357.82Z M257.87 366.98 258.46 362.56 259.6 362.71 258.18 358.99 255.84 362.21 256.98 362.36 256.39 366.78Z"/>
<path fill="#1414e4" d="M118.22 260.33 117.92 264.74 116.77 264.66 118.43 268.28 120.56 264.91 119.42 264.84 119.72 260.43Z M118.09 269.32 117.93 273.72 116.78 273.68 118.56 277.24 120.58 273.81 119.43 273.77 119.59 269.37Z M117.98 278.3 117.95 282.7 116.8 282.69 118.67 286.21 120.6 282.72 119.45 282.71 119.48 278.31Z M122.33 278.3 122.29 282.7 121.14 282.69 123 286.21 124.94 282.73 123.79 282.71 123.83 278.31Z M117.95 287.27 117.95 291.67 116.8 291.67 118.7 295.17 120.6 291.67 119.45 291.67 119.45 287.27Z M122.29 287.27 122.29 291.67 121.14 291.67 123.04 295.17 124.94 291.67 123.79 291.67 123.79 287.27Z M117.92 296.24 117.95 300.64 116.8 300.65 118.73 304.14 120.6 300.62 119.45 300.63 119.42 296.23Z M122.25 296.24 122.3 300.64 121.15 300.65 123.08 304.14 124.95 300.62 123.8 300.63 123.75 296.23Z M117.81 305.23 117.97 309.63 116.82 309.67 118.84 313.1 120.61 309.53 119.47 309.58 119.31 305.17Z M122.14 305.23 122.31 309.63 121.16 309.67 123.19 313.1 124.96 309.53 123.81 309.57 123.64 305.17Z M117.69 314.21 117.98 318.62 116.83 318.7 118.96 322.06 120.63 318.45 119.48 318.52 119.18 314.11Z M117.6 323.2 117.99 327.61 116.85 327.71 119.05 331.03 120.63 327.37 119.49 327.48 119.09 323.06Z"/>
<path fill="#1114e8" d="M148.92 260.29 148.29 264.69 147.15 264.52 148.53 268.26 150.91 265.07 149.77 264.9 150.41 260.51Z M148.71 269.29 148.31 273.67 147.16 273.57 148.74 277.23 150.95 273.91 149.8 273.81 150.21 269.43Z M152.69 287.29 152.69 291.65 151.54 291.65 153.44 295.15 155.34 291.65 154.19 291.65 154.19 287.29Z M147.82 314.28 148.42 318.68 147.28 318.83 149.63 322.05 151.04 318.32 149.9 318.48 149.31 314.08Z M147.69 323.27 148.44 327.68 147.3 327.88 149.76 331.01 151.05 327.24 149.92 327.43 149.17 323.02Z M147.61 332.25 148.45 336.67 147.32 336.89 149.84 339.97 151.06 336.18 149.93 336.39 149.09 331.97Z M147.56 341.23 148.46 345.65 147.34 345.88 149.9 348.93 151.06 345.13 149.93 345.35 149.03 340.93Z M143.25 368.11 144.12 372.54 142.99 372.76 145.53 375.83 146.72 372.03 145.59 372.25 144.72 367.82Z"/>
<path fill="#0e14eb" d="M157.9 260.29 156.95 264.63 155.82 264.38 156.93 268.21 159.54 265.2 158.41 264.95 159.37 260.61Z M157.62 269.29 156.98 273.61 155.84 273.44 157.21 277.18 159.6 274 158.46 273.83 159.1 269.51Z M156.1 323.37 157.17 327.75 156.06 328.02 158.74 330.97 159.75 327.11 158.63 327.39 157.55 323.01Z M156 332.36 157.2 336.75 156.09 337.05 158.84 339.92 159.75 336.05 158.64 336.35 157.45 331.96Z M155.94 341.34 157.21 345.73 156.11 346.05 158.91 348.88 159.76 344.99 158.65 345.31 157.38 340.92Z"/>
<path fill="#0c14ee" d="M162.48 260.31 161.28 264.57 160.17 264.26 161.05 268.15 163.83 265.29 162.72 264.98 163.92 260.71Z M160.12 332.46 161.59 336.8 160.5 337.16 163.42 339.87 164.1 335.95 163.01 336.31 161.54 331.97Z M160.05 341.44 161.61 345.78 160.52 346.17 163.49 348.83 164.1 344.89 163.02 345.28 161.47 340.93Z M160.01 350.42 161.62 354.76 160.54 355.16 163.54 357.78 164.1 353.84 163.02 354.24 161.41 349.9Z"/>
<path fill="#091cf1" d="M167.13 260.36 165.61 264.49 164.53 264.1 165.1 268.04 168.09 265.41 167.02 265.01 168.53 260.88Z M164.06 350.58 166.04 354.83 165 355.31 168.2 357.68 168.44 353.71 167.4 354.19 165.42 349.94Z"/>
<path fill="#0638f5" d="M171.87 260.48 169.95 264.37 168.92 263.86 169.08 267.84 172.33 265.54 171.3 265.04 173.22 261.15Z M167.98 368.78 170.51 372.84 169.54 373.45 173 375.41 172.76 371.44 171.79 372.05 169.25 367.99Z"/>
<path fill="#035dfb" d="M176.72 260.73 174.33 264.2 173.38 263.54 172.97 267.5 176.51 265.7 175.57 265.05 177.96 261.58Z"/>
<path fill="#0091fe" d="M181.66 261.17 178.79 263.97 177.98 263.15 176.8 266.95 180.64 265.87 179.83 265.05 182.71 262.24Z"/>
<path fill="#00d8fa" d="M186.62 261.88 183.35 263.74 182.78 262.75 180.68 266.13 184.66 266.05 184.09 265.05 187.37 263.18Z"/>
<path fill="#1dde85" d="M191.49 262.88 187.99 263.6 187.76 262.48 184.71 265.04 188.52 266.2 188.29 265.07 191.8 264.35Z"/>
<path fill="#78e41e" d="M196.12 264.08 192.6 263.58 192.76 262.44 189.03 263.83 192.22 266.21 192.39 265.07 195.91 265.57Z"/>
<path fill="#f0df00" d="M200.43 265.28 197.1 263.61 197.61 262.58 193.63 262.71 195.91 265.98 196.43 264.95 199.76 266.62Z"/>
<path fill="#ff7e00" d="M208.43 266.98 205.95 263.61 206.88 262.93 203.27 261.24 203.82 265.18 204.74 264.5 207.22 267.87Z"/>
<path fill="#fd6000" d="M212.37 267.44 210.37 263.62 211.39 263.09 208.08 260.86 208.02 264.85 209.04 264.31 211.04 268.14Z"/>
<path fill="#fb4800" d="M216.36 267.74 214.77 263.64 215.84 263.23 212.81 260.65 212.3 264.6 213.37 264.18 214.96 268.28Z"/>
<path fill="#f73500" d="M220.42 267.92 219.16 263.67 220.27 263.35 217.46 260.53 216.62 264.42 217.73 264.1 218.98 268.34Z M222.19 349.07 223.82 344.74 224.89 345.15 224.35 341.2 221.34 343.81 222.41 344.22 220.79 348.55Z"/>
<path fill="#f42600" d="M224.54 268.03 223.54 263.7 224.66 263.44 222.03 260.46 220.96 264.3 222.08 264.04 223.08 268.37Z"/>
<path fill="#f21c00" d="M228.71 268.1 227.91 263.73 229.04 263.52 226.54 260.42 225.31 264.21 226.44 264 227.24 268.37Z M227.49 313.15 228.06 308.81 229.2 308.96 227.77 305.25 225.43 308.47 226.57 308.62 226 312.96Z"/>
<path fill="#f01400" d="M232.93 268.14 232.28 263.75 233.41 263.58 231.02 260.4 229.65 264.14 230.79 263.97 231.45 268.37Z M235.92 340.11 236.78 335.69 237.91 335.91 236.71 332.12 234.18 335.19 235.3 335.41 234.45 339.83Z"/>
<path fill="#ee0f00" d="M237.18 268.17 236.63 263.77 237.77 263.63 235.45 260.39 234 264.1 235.14 263.96 235.69 268.36Z M236.37 313.15 236.73 308.76 237.88 308.86 236.27 305.21 234.09 308.54 235.24 308.64 234.87 313.02Z M240.37 340.1 241.11 335.68 242.24 335.87 240.94 332.11 238.49 335.25 239.63 335.43 238.89 339.86Z M244.67 367 245.46 362.58 246.59 362.78 245.33 359 242.85 362.11 243.98 362.31 243.19 366.74Z"/>
<path fill="#ed0b00" d="M241.46 268.19 240.98 263.79 242.13 263.66 239.87 260.39 238.35 264.07 239.49 263.95 239.96 268.35Z M240.77 313.14 241.07 308.75 242.21 308.83 240.56 305.21 238.42 308.57 239.57 308.65 239.27 313.04Z M244.79 340.09 245.44 335.67 246.58 335.84 245.21 332.1 242.82 335.29 243.96 335.45 243.31 339.88Z M249.09 367 249.79 362.57 250.93 362.75 249.6 358.99 247.17 362.15 248.31 362.33 247.61 366.76Z"/>
<path fill="#ec0800" d="M245.75 268.2 245.33 263.8 246.48 263.69 244.26 260.38 242.7 264.04 243.84 263.94 244.25 268.35Z M245.15 313.14 245.41 308.74 246.55 308.81 244.86 305.2 242.76 308.59 243.91 308.65 243.65 313.05Z M249.19 340.09 249.78 335.66 250.92 335.82 249.49 332.1 247.15 335.32 248.29 335.47 247.71 339.89Z M253.51 358.02 254.12 353.59 255.26 353.75 253.86 350.02 251.5 353.23 252.64 353.39 252.03 357.82Z M253.49 366.99 254.13 362.56 255.27 362.73 253.88 358.99 251.5 362.18 252.64 362.35 252 366.77Z"/>
<path fill="#eb0200" d="M263.02 268.23 262.72 263.82 263.86 263.74 261.73 260.38 260.07 264 261.22 263.92 261.52 268.33Z M262.89 277.22 262.73 272.81 263.88 272.77 261.85 269.34 260.08 272.91 261.23 272.87 261.4 277.27Z M262.79 286.2 262.75 281.8 263.9 281.79 261.96 278.31 260.1 281.82 261.25 281.81 261.29 286.21Z M258.41 295.17 258.41 290.77 259.56 290.77 257.66 287.27 255.76 290.77 256.91 290.77 256.91 295.17Z M262.71 304.14 262.75 299.74 263.9 299.75 262.04 296.24 260.1 299.72 261.25 299.73 261.21 304.13Z M262.6 313.13 262.77 308.73 263.92 308.77 262.15 305.2 260.12 308.63 261.27 308.67 261.1 313.07Z"/>
<path fill="#0c14ed" d="M162.13 269.32 161.31 273.55 160.18 273.33 161.38 277.13 163.91 274.05 162.78 273.83 163.6 269.6Z M160.23 323.46 161.56 327.79 160.46 328.13 163.3 330.91 164.09 327.01 162.99 327.35 161.66 323.02Z"/>
<path fill="#0a18f1" d="M166.71 269.37 165.65 273.45 164.54 273.16 165.5 277.03 168.22 274.12 167.1 273.83 168.16 269.74Z M164.18 332.61 166 336.85 164.94 337.31 168.07 339.78 168.43 335.81 167.38 336.26 165.56 332.01Z"/>
<path fill="#0733f5" d="M171.36 269.49 170.01 273.3 168.93 272.92 169.55 276.85 172.51 274.18 171.43 273.8 172.77 269.99Z M168.09 341.83 170.47 345.92 169.48 346.5 172.88 348.56 172.76 344.58 171.77 345.16 169.38 341.08Z"/>
<path fill="#0357fa" d="M176.1 269.72 174.43 273.07 173.4 272.55 173.53 276.53 176.8 274.25 175.77 273.74 177.44 270.39Z M171.93 360.16 175 363.94 174.11 364.66 177.79 366.18 177.06 362.27 176.16 362.99 173.1 359.22Z"/>
<path fill="#0089fe" d="M180.92 270.14 178.96 272.75 178.04 272.06 177.47 276 181.09 274.34 180.17 273.65 182.12 271.03Z"/>
<path fill="#00d0fb" d="M185.79 270.81 183.71 272.44 183 271.53 181.42 275.19 185.35 274.52 184.64 273.62 186.72 271.99Z"/>
<path fill="#1bde8f" d="M190.65 271.77 188.5 272.41 188.17 271.31 185.49 274.09 189.26 274.95 188.93 273.85 191.08 273.21Z"/>
<path fill="#70e320" d="M195.36 272.99 193.18 272.64 193.37 271.5 189.8 272.86 192.76 275.26 192.95 274.12 195.12 274.47Z"/>
<path fill="#efe000" d="M199.78 274.25 197.71 272.94 198.32 271.97 194.35 271.7 196.29 275.18 196.9 274.21 198.98 275.52Z"/>
<path fill="#fe7d00" d="M207.94 276.03 206.17 272.88 207.18 272.31 203.81 270.19 203.86 274.17 204.87 273.61 206.63 276.77Z"/>
<path fill="#fd5f00" d="M211.95 276.5 210.5 272.8 211.58 272.38 208.53 269.81 208.04 273.77 209.11 273.35 210.55 277.04Z"/>
<path fill="#fa4700" d="M216 276.78 214.86 272.76 215.97 272.45 213.19 269.6 212.31 273.49 213.42 273.17 214.56 277.19Z M217.5 349.02 219.51 344.8 220.54 345.29 220.33 341.32 217.11 343.66 218.15 344.15 216.14 348.38Z"/>
<path fill="#f73300" d="M220.11 276.95 219.23 272.75 220.35 272.51 217.77 269.48 216.64 273.3 217.76 273.06 218.65 277.26Z M218.9 304.08 219.36 299.94 220.5 300.06 218.99 296.38 216.72 299.65 217.87 299.77 217.41 303.91Z"/>
<path fill="#f42400" d="M224.28 277.05 223.59 272.75 224.73 272.57 222.3 269.42 220.97 273.17 222.11 272.99 222.8 277.29Z M223.36 304.12 223.7 299.86 224.84 299.95 223.23 296.31 221.06 299.65 222.2 299.74 221.86 304Z M226.9 340.12 228.12 335.74 229.23 336.05 228.34 332.17 225.57 335.03 226.68 335.34 225.46 339.72Z M231.18 375.99 232.48 371.59 233.58 371.92 232.75 368.02 229.93 370.84 231.04 371.17 229.74 375.57Z"/>
<path fill="#f21a00" d="M228.49 277.11 227.95 272.76 229.09 272.62 226.77 269.38 225.32 273.09 226.46 272.95 227 277.3Z"/>
<path fill="#ef1300" d="M232.74 277.15 232.31 272.77 233.45 272.66 231.22 269.36 229.67 273.03 230.81 272.92 231.24 277.3Z M232.18 304.15 232.37 299.79 233.52 299.84 231.78 296.26 229.72 299.67 230.87 299.72 230.68 304.08Z M240.23 367.01 241.12 362.59 242.25 362.81 241.09 359.01 238.53 362.06 239.65 362.29 238.76 366.72Z"/>
<path fill="#ee0e00" d="M237.01 277.17 236.66 272.78 237.8 272.69 235.63 269.35 234.02 272.99 235.16 272.9 235.51 277.29Z M236.56 304.15 236.71 299.77 237.86 299.81 236.08 296.25 234.06 299.68 235.21 299.72 235.06 304.1Z"/>
<path fill="#ed0a00" d="M241.3 277.19 241.01 272.79 242.15 272.72 240.03 269.35 238.36 272.97 239.51 272.89 239.8 277.29Z M240.94 304.15 241.05 299.76 242.2 299.79 240.39 296.24 238.4 299.69 239.55 299.72 239.44 304.11Z M244.87 331.12 245.43 326.7 246.58 326.85 245.13 323.13 242.81 326.37 243.95 326.51 243.38 330.93Z M249.12 358.03 249.79 353.6 250.92 353.77 249.57 350.03 247.17 353.2 248.3 353.37 247.63 357.8Z"/>
<path fill="#ec0500" d="M249.91 277.2 249.7 272.8 250.85 272.75 248.78 269.34 247.05 272.93 248.2 272.88 248.42 277.28Z M253.65 331.11 254.11 326.69 255.25 326.81 253.73 323.13 251.47 326.41 252.62 326.53 252.15 330.95Z M262.24 375.94 262.81 371.52 263.95 371.67 262.51 367.95 260.18 371.18 261.32 371.33 260.75 375.75Z"/>
<path fill="#0d14ed" d="M161.73 278.34 161.34 282.55 160.2 282.45 161.77 286.11 163.98 282.8 162.84 282.69 163.23 278.48Z M160.69 305.43 161.46 309.69 160.33 309.9 162.83 313 164.07 309.22 162.94 309.42 162.16 305.17Z M160.41 314.46 161.51 318.76 160.4 319.04 163.11 321.96 164.08 318.09 162.97 318.38 161.86 314.08Z"/>
<path fill="#0a14f0" d="M166.2 278.4 165.69 282.45 164.54 282.31 165.99 286.02 168.31 282.79 167.17 282.64 167.69 278.59Z M164.83 305.56 165.83 309.69 164.71 309.96 167.38 312.91 168.4 309.07 167.28 309.34 166.29 305.21Z"/>
<path fill="#072df4" d="M170.71 278.53 170.04 282.28 168.91 282.07 170.17 285.85 172.65 282.74 171.52 282.54 172.19 278.79Z"/>
<path fill="#0451f9" d="M175.27 278.77 174.45 281.98 173.33 281.69 174.31 285.56 177.02 282.64 175.9 282.35 176.72 279.14Z M172.23 324.21 174.84 327.94 173.9 328.6 177.46 330.38 177.01 326.42 176.07 327.08 173.45 323.35Z"/>
<path fill="#0081ff" d="M179.88 279.19 178.98 281.51 177.91 281.1 178.41 285.05 181.45 282.47 180.38 282.06 181.28 279.74Z"/>
<path fill="#00c8fb" d="M184.53 279.85 183.47 281.44 182.51 280.81 182.52 284.25 185.68 282.91 184.73 282.27 185.78 280.68Z"/>
<path fill="#18df9a" d="M189.28 280.72 188.09 281.44 187.5 280.45 186.7 283.15 189.46 283.71 188.86 282.72 190.05 282.01Z"/>
<path fill="#67e223" d="M194.22 281.9 193 281.6 193.27 280.53 191.01 281.88 192.38 284.13 192.64 283.06 193.86 283.36Z"/>
<path fill="#eee100" d="M198.82 283.33 197.7 282.07 198.56 281.31 195.46 280.69 195.73 283.84 196.58 283.07 197.7 284.33Z"/>
<path fill="#ffab00" d="M203.07 284.43 202.12 282.44 203.16 281.94 200.02 279.76 199.73 283.57 200.77 283.08 201.71 285.08Z M201.96 293.72 201.96 291.72 203.11 291.72 201.21 288.72 199.31 291.72 200.46 291.72 200.46 293.72Z"/>
<path fill="#fe7c00" d="M207.21 285.16 206.34 282.27 207.44 281.94 204.61 279.14 203.8 283.04 204.9 282.7 205.77 285.59Z"/>
<path fill="#fd5d00" d="M211.35 285.6 210.61 282.04 211.74 281.81 209.17 278.76 208.02 282.58 209.14 282.34 209.88 285.9Z M212.7 348.9 215.2 344.87 216.18 345.48 216.41 341.5 212.95 343.48 213.92 344.08 211.42 348.11Z"/>
<path fill="#fa4500" d="M215.52 285.85 214.94 281.91 216.08 281.74 213.69 278.55 212.32 282.29 213.46 282.12 214.03 286.07Z"/>
<path fill="#f63100" d="M219.72 286 219.29 281.84 220.43 281.72 218.17 278.44 216.65 282.12 217.79 282 218.23 286.16Z"/>
<path fill="#f42300" d="M223.97 286.08 223.64 281.81 224.78 281.72 222.62 278.38 220.99 282.01 222.14 281.92 222.47 286.2Z"/>
<path fill="#f11900" d="M228.23 286.13 227.99 281.79 229.13 281.73 227.04 278.34 225.34 281.95 226.49 281.88 226.73 286.21Z M231.55 331.14 232.44 326.74 233.56 326.97 232.39 323.16 229.84 326.22 230.97 326.45 230.08 330.85Z M235.75 367.02 236.8 362.6 237.91 362.87 236.87 359.02 234.22 361.99 235.34 362.26 234.29 366.68Z"/>
<path fill="#ef1200" d="M232.52 286.16 232.33 281.79 233.48 281.74 231.44 278.33 229.69 281.9 230.84 281.85 231.02 286.22Z M236.02 331.13 236.77 326.72 237.9 326.92 236.61 323.15 234.15 326.28 235.29 326.47 234.54 330.88Z M240.27 358.05 241.12 353.62 242.25 353.84 241.05 350.04 238.52 353.12 239.65 353.33 238.79 357.76Z"/>
<path fill="#ee0d00" d="M236.82 286.17 236.68 281.79 237.83 281.75 235.82 278.32 234.03 281.88 235.18 281.84 235.32 286.22Z M240.46 331.13 241.1 326.71 242.24 326.88 240.86 323.14 238.48 326.33 239.61 326.49 238.97 330.91Z M244.7 358.04 245.45 353.61 246.59 353.8 245.3 350.03 242.84 353.16 243.97 353.36 243.22 357.79Z"/>
<path fill="#0828f3" d="M170.06 287.59 170.06 291.36 168.91 291.36 170.81 294.86 172.71 291.36 171.56 291.36 171.56 287.59Z"/>
<path fill="#054bf8" d="M174.4 287.86 174.4 291.08 173.25 291.08 175.15 294.58 177.05 291.08 175.9 291.08 175.9 287.86Z"/>
<path fill="#0079ff" d="M178.74 288.35 178.74 290.65 177.59 290.65 179.49 294.1 181.39 290.65 180.24 290.65 180.24 288.35Z"/>
<path fill="#00c0fc" d="M183.09 289.13 183.09 290.8 181.94 290.8 183.84 293.31 185.74 290.8 184.59 290.8 184.59 289.13Z"/>
<path fill="#15dfa5" d="M187.43 290.02 187.43 290.98 186.6 290.98 188.18 292.42 189.76 290.98 188.93 290.98 188.93 290.02Z"/>
<path fill="#5ee126" d="M191.62 291.22 a0.9 0.9 0 1 0 1.8 0 a0.9 0.9 0 1 0 -1.8 0Z"/>
<path fill="#ede200" d="M197.61 292.76 197.61 291.53 198.7 291.53 196.86 289.68 195.03 291.53 196.11 291.53 196.11 292.76Z"/>
<path fill="#fe7b00" d="M206.3 294.36 206.3 291.59 207.45 291.59 205.55 288.09 203.65 291.59 204.8 291.59 204.8 294.36Z M207.67 357.6 210.91 353.96 211.77 354.72 212.67 350.84 208.93 352.2 209.79 352.96 206.55 356.6Z"/>
<path fill="#fd5c00" d="M210.64 294.73 210.64 291.21 211.79 291.21 209.89 287.71 207.99 291.21 209.14 291.21 209.14 294.73Z"/>
<path fill="#fa4300" d="M214.98 294.94 214.98 291 216.13 291 214.23 287.5 212.33 291 213.48 291 213.48 294.94Z M217.62 340.06 219.49 335.83 220.54 336.29 220.21 332.32 217.06 334.76 218.12 335.23 216.25 339.46Z"/>
<path fill="#f62f00" d="M219.33 295.05 219.33 290.89 220.48 290.89 218.58 287.39 216.68 290.89 217.83 290.89 217.83 295.05Z"/>
<path fill="#f32100" d="M223.67 295.11 223.67 290.83 224.82 290.83 222.92 287.33 221.02 290.83 222.17 290.83 222.17 295.11Z M227.03 331.14 228.11 326.77 229.23 327.04 228.22 323.19 225.54 326.14 226.65 326.41 225.58 330.79Z M231.23 367.03 232.47 362.62 233.58 362.93 232.69 359.05 229.92 361.9 231.03 362.22 229.79 366.62Z"/>
<path fill="#f11800" d="M228.01 295.14 228.01 290.8 229.16 290.8 227.26 287.3 225.36 290.8 226.51 290.8 226.51 295.14Z"/>
<path fill="#ea0200" d="M262.75 295.17 262.75 290.77 263.9 290.77 262 287.27 260.1 290.77 261.25 290.77 261.25 295.17Z"/>
<path fill="#0a14ef" d="M165.26 296.5 165.76 300.58 164.62 300.72 166.93 303.96 168.39 300.26 167.25 300.4 166.75 296.32Z"/>
<path fill="#082af3" d="M169.45 296.69 170.1 300.48 168.97 300.68 171.43 303.81 172.71 300.04 171.58 300.23 170.93 296.44Z"/>
<path fill="#044cf8" d="M173.6 297.02 174.41 300.31 173.29 300.58 175.97 303.53 176.98 299.68 175.87 299.95 175.06 296.66Z"/>
<path fill="#007aff" d="M177.73 297.58 178.64 300.02 177.56 300.42 180.55 303.05 181.12 299.11 180.04 299.51 179.14 297.06Z"/>
<path fill="#00bffc" d="M181.91 298.48 182.94 300.16 181.96 300.76 185.13 302.29 185.2 298.77 184.22 299.37 183.18 297.69Z M181 307.6 183.07 309.47 182.3 310.32 186.17 311.26 184.85 307.5 184.08 308.36 182.01 306.48Z"/>
<path fill="#14dfaa" d="M186.28 299.77 187.45 300.59 186.79 301.53 189.65 301.22 188.98 298.42 188.32 299.37 187.14 298.54Z"/>
<path fill="#52e029" d="M191.11 301.16 192.33 300.97 192.49 302.04 194.04 299.96 191.95 298.42 192.11 299.49 190.89 299.67Z"/>
<path fill="#e9e600" d="M195.98 302.15 197.11 301 197.93 301.81 198.28 298.74 195.22 299.14 196.05 299.95 194.91 301.1Z"/>
<path fill="#ffb200" d="M200.66 302.93 201.63 301 202.66 301.52 202.42 297.78 199.27 299.81 200.29 300.33 199.32 302.26Z"/>
<path fill="#fd6100" d="M209.88 303.8 210.63 300.3 211.76 300.55 210.64 296.72 208.04 299.75 209.17 299.99 208.41 303.49Z M212.58 357.84 215.21 353.85 216.17 354.48 216.51 350.51 213 352.39 213.96 353.02 211.33 357.02Z"/>
<path fill="#fa4800" d="M214.41 303.99 215.01 300.07 216.15 300.24 214.79 296.5 212.39 299.67 213.53 299.85 212.93 303.76Z"/>
<path fill="#f11a00" d="M227.78 304.14 228.03 299.81 229.18 299.88 227.49 296.27 225.39 299.66 226.54 299.72 226.28 304.05Z"/>
<path fill="#082cf4" d="M168.91 305.78 170.19 309.67 169.1 310.02 171.99 312.76 172.71 308.84 171.61 309.2 170.34 305.31Z"/>
<path fill="#044ef9" d="M172.94 306.14 174.54 309.61 173.49 310.09 176.68 312.48 176.95 308.5 175.9 308.98 174.3 305.51Z"/>
<path fill="#007bff" d="M176.94 306.72 178.84 309.52 177.89 310.17 181.42 312 181.04 308.04 180.08 308.68 178.19 305.88Z"/>
<path fill="#13dfaf" d="M185.26 308.77 187.37 309.63 186.93 310.7 190.82 310.22 188.37 307.18 187.93 308.24 185.82 307.38Z"/>
<path fill="#47de2c" d="M189.83 310.05 192.01 309.93 192.08 311.08 195.26 309 191.87 307.28 191.93 308.43 189.74 308.55Z"/>
<path fill="#e6eb00" d="M194.63 311.16 196.69 310.08 197.23 311.1 199.45 307.8 195.47 307.73 196 308.75 193.94 309.83Z"/>
<path fill="#ffb800" d="M199.5 311.99 201.55 309.87 202.38 310.67 203.45 306.83 199.65 308.03 200.47 308.83 198.43 310.94Z"/>
<path fill="#ff8500" d="M204.36 312.53 206.19 309.54 207.17 310.14 207.38 306.16 203.93 308.15 204.91 308.75 203.08 311.75Z"/>
<path fill="#fd6500" d="M209.14 312.85 210.66 309.26 211.72 309.7 211.33 305.74 208.22 308.23 209.28 308.67 207.76 312.27Z M212.48 366.78 215.22 362.82 216.17 363.48 216.6 359.52 213.05 361.31 213.99 361.97 211.25 365.92Z"/>
<path fill="#f83700" d="M218.45 313.11 219.39 308.94 220.51 309.19 219.43 305.36 216.81 308.36 217.93 308.61 216.99 312.78Z"/>
<path fill="#0f14eb" d="M156.26 314.37 157.14 318.73 156.01 318.95 158.57 322.01 159.74 318.2 158.61 318.43 157.73 314.07Z"/>
<path fill="#0a15f0" d="M164.5 314.6 165.9 318.79 164.81 319.15 167.72 321.87 168.41 317.95 167.32 318.31 165.92 314.12Z"/>
<path fill="#072ef4" d="M168.53 314.83 170.3 318.81 169.25 319.28 172.41 321.71 172.72 317.74 171.67 318.2 169.9 314.22Z"/>
<path fill="#044ff9" d="M172.49 315.19 174.71 318.83 173.73 319.43 177.17 321.43 176.97 317.45 175.99 318.05 173.77 314.41Z"/>
<path fill="#007cff" d="M176.42 315.77 179.13 318.83 178.27 319.59 182.01 320.96 181.11 317.08 180.25 317.84 177.54 314.77Z M176.12 324.77 179.33 327.97 178.52 328.79 182.34 329.91 181.2 326.1 180.39 326.91 177.18 323.71Z"/>
<path fill="#00befc" d="M180.4 316.61 183.55 318.83 182.89 319.77 186.84 320.23 185.08 316.66 184.41 317.6 181.26 315.38Z"/>
<path fill="#12dfb4" d="M184.56 317.71 188.01 318.85 187.65 319.94 191.57 319.23 188.84 316.33 188.48 317.42 185.02 316.29Z"/>
<path fill="#3ddd2f" d="M189.02 318.94 192.56 318.86 192.58 320.01 196.04 318.04 192.5 316.21 192.53 317.36 188.98 317.44Z"/>
<path fill="#e2ef00" d="M193.77 320.07 197.2 318.79 197.6 319.87 200.22 316.86 196.27 316.31 196.67 317.38 193.25 318.66Z"/>
<path fill="#ffbf00" d="M198.71 320.94 201.81 318.6 202.51 319.51 204.16 315.89 200.22 316.48 200.91 317.4 197.8 319.74Z"/>
<path fill="#ff8b00" d="M203.67 321.51 206.32 318.36 207.2 319.1 208 315.2 204.29 316.66 205.17 317.4 202.52 320.55Z"/>
<path fill="#fd6a00" d="M208.57 321.85 210.73 318.16 211.73 318.74 211.86 314.76 208.45 316.82 209.44 317.4 207.28 321.09Z"/>
<path fill="#fc5100" d="M213.37 322.03 215.09 318.01 216.15 318.46 215.78 314.5 212.66 316.97 213.72 317.42 212 321.44Z"/>
<path fill="#f83b00" d="M218.07 322.11 219.43 317.91 220.53 318.26 219.79 314.35 216.91 317.09 218 317.45 216.65 321.65Z"/>
<path fill="#f52a00" d="M222.68 322.15 223.76 317.84 224.88 318.12 223.88 314.26 221.19 317.2 222.3 317.48 221.23 321.78Z M226.73 358.06 228.14 353.68 229.24 354.03 228.5 350.12 225.62 352.86 226.72 353.22 225.3 357.6Z"/>
<path fill="#f31f00" d="M227.23 322.16 228.09 317.8 229.22 318.02 228.03 314.22 225.49 317.28 226.62 317.51 225.75 321.87Z M231.29 358.06 232.46 353.65 233.58 353.95 232.64 350.08 229.9 352.97 231.01 353.27 229.84 357.67Z"/>
<path fill="#f01700" d="M231.72 322.15 232.42 317.77 233.55 317.95 232.23 314.19 229.8 317.35 230.94 317.53 230.23 321.92Z"/>
<path fill="#0a16f0" d="M164.3 323.61 165.96 327.84 164.89 328.26 167.94 330.82 168.43 326.87 167.36 327.29 165.69 323.06Z"/>
<path fill="#0730f4" d="M168.29 323.84 170.39 327.89 169.36 328.42 172.66 330.66 172.74 326.68 171.72 327.2 169.63 323.15Z"/>
<path fill="#00bdfc" d="M180.06 325.59 183.85 327.97 183.24 328.95 187.21 329.2 185.26 325.73 184.65 326.71 180.86 324.32Z M179.89 334.55 184.01 337.02 183.42 338.01 187.39 338.18 185.37 334.75 184.78 335.73 180.66 333.27Z"/>
<path fill="#10dfb8" d="M184.17 326.65 188.4 327.93 188.07 329.03 191.97 328.23 189.17 325.39 188.84 326.5 184.6 325.21Z"/>
<path fill="#33dc32" d="M188.57 327.83 192.97 327.83 192.97 328.98 196.47 327.07 192.97 325.18 192.97 326.33 188.57 326.33Z"/>
<path fill="#d8ef02" d="M193.29 328.96 197.53 327.66 197.86 328.76 200.65 325.92 196.75 325.13 197.09 326.23 192.85 327.52Z"/>
<path fill="#ffc500" d="M198.23 329.85 202.02 327.45 202.64 328.42 204.58 324.94 200.61 325.21 201.22 326.18 197.43 328.58Z"/>
<path fill="#ff9100" d="M203.24 330.45 206.44 327.24 207.26 328.06 208.39 324.24 204.57 325.37 205.38 326.18 202.18 329.39Z"/>
<path fill="#fe6e00" d="M208.2 330.81 210.81 327.08 211.75 327.73 212.2 323.78 208.64 325.56 209.58 326.22 206.97 329.95Z"/>
<path fill="#fc5500" d="M213.06 331 215.14 326.95 216.16 327.48 216.08 323.5 212.79 325.74 213.81 326.27 211.72 330.32Z"/>
<path fill="#f93f00" d="M217.81 331.1 219.46 326.87 220.54 327.29 220.04 323.33 217 325.9 218.07 326.32 216.41 330.55Z M221.95 375.95 223.84 371.66 224.9 372.13 224.57 368.16 221.42 370.59 222.47 371.06 220.58 375.34Z"/>
<path fill="#f62e00" d="M222.46 331.13 223.79 326.81 224.88 327.15 224.1 323.24 221.25 326.03 222.35 326.37 221.02 330.69Z"/>
<path fill="#0732f4" d="M168.16 332.84 170.44 336.92 169.43 337.48 172.8 339.61 172.75 335.63 171.75 336.19 169.47 332.11Z"/>
<path fill="#0452f9" d="M172.08 333.21 174.92 336.98 174 337.67 177.62 339.33 177.04 335.39 176.12 336.08 173.28 332.31Z"/>
<path fill="#007dff" d="M175.97 333.76 179.44 337.02 178.65 337.86 182.51 338.87 181.25 335.09 180.47 335.93 176.99 332.67Z"/>
<path fill="#0fdfbd" d="M183.98 335.58 188.6 336.95 188.27 338.05 192.16 337.23 189.35 334.41 189.02 335.51 184.41 334.14Z"/>
<path fill="#30dc39" d="M188.35 336.73 193.17 336.8 193.15 337.95 196.68 336.1 193.21 334.15 193.19 335.3 188.37 335.23Z"/>
<path fill="#cbee06" d="M193.04 337.84 197.69 336.6 197.99 337.71 200.88 334.97 197.01 334.04 197.31 335.15 192.65 336.39Z"/>
<path fill="#ffcb00" d="M197.96 338.74 202.14 336.37 202.71 337.38 204.82 334 200.84 334.07 201.4 335.07 197.22 337.44Z"/>
<path fill="#ff9700" d="M202.98 339.37 206.52 336.18 207.29 337.03 208.62 333.28 204.75 334.21 205.52 335.06 201.97 338.25Z"/>
<path fill="#fe7300" d="M207.96 339.75 210.86 336.02 211.77 336.73 212.41 332.8 208.77 334.39 209.67 335.1 206.77 338.83Z"/>
<path fill="#fc5900" d="M212.85 339.96 215.18 335.91 216.17 336.48 216.27 332.5 212.88 334.59 213.88 335.16 211.55 339.21Z"/>
<path fill="#f73100" d="M222.3 340.11 223.8 335.78 224.89 336.15 224.24 332.22 221.3 334.91 222.39 335.28 220.89 339.62Z"/>
<path fill="#f21b00" d="M231.44 340.12 232.45 335.71 233.57 335.97 232.5 332.13 229.87 335.12 230.99 335.38 229.97 339.78Z M235.7 375.99 236.8 371.57 237.92 371.85 236.91 367.99 234.23 370.93 235.34 371.21 234.25 375.63Z"/>
<path fill="#091af1" d="M164.1 341.59 166.02 345.85 164.97 346.32 168.14 348.73 168.44 344.76 167.39 345.23 165.47 340.98Z"/>
<path fill="#0454fa" d="M172.01 342.2 174.96 345.98 174.05 346.69 177.71 348.28 177.05 344.35 176.14 345.06 173.19 341.27Z"/>
<path fill="#007eff" d="M175.89 342.74 179.5 346.03 178.72 346.88 182.59 347.83 181.28 344.07 180.51 344.92 176.9 341.63Z"/>
<path fill="#00bcfc" d="M179.81 343.51 184.08 346.02 183.5 347.01 187.48 347.15 185.42 343.74 184.84 344.73 180.57 342.22Z"/>
<path fill="#0ee0c1" d="M183.89 344.51 188.68 345.94 188.35 347.04 192.25 346.23 189.44 343.4 189.11 344.5 184.32 343.07Z"/>
<path fill="#2edc40" d="M188.24 345.63 193.26 345.78 193.23 346.93 196.78 345.13 193.34 343.13 193.3 344.28 188.28 344.13Z"/>
<path fill="#bfec0a" d="M192.9 346.73 197.77 345.56 198.04 346.68 201 344.02 197.16 342.98 197.42 344.1 192.55 345.27Z"/>
<path fill="#fdcf00" d="M197.8 347.63 202.2 345.33 202.73 346.35 204.96 343.05 200.97 342.98 201.51 344 197.11 346.3Z"/>
<path fill="#ff9d00" d="M202.81 348.27 206.56 345.14 207.3 346.02 208.77 342.32 204.87 343.1 205.6 343.98 201.85 347.12Z"/>
<path fill="#fe7700" d="M207.8 348.68 210.89 344.98 211.77 345.72 212.56 341.82 208.86 343.28 209.74 344.02 206.65 347.71Z"/>
<path fill="#0e14ec" d="M155.9 350.32 157.22 354.71 156.12 355.04 158.95 357.84 159.76 353.94 158.66 354.27 157.33 349.88Z"/>
<path fill="#0735f5" d="M168.04 350.82 170.49 354.9 169.5 355.49 172.94 357.51 172.76 353.53 171.78 354.12 169.33 350.05Z"/>
<path fill="#0355fa" d="M171.96 351.18 174.98 354.96 174.09 355.68 177.76 357.23 177.05 353.31 176.16 354.03 173.13 350.25Z"/>
<path fill="#007fff" d="M175.85 351.72 179.53 355.01 178.76 355.86 182.64 356.78 181.29 353.03 180.53 353.89 176.85 350.6Z"/>
<path fill="#00bbfc" d="M179.78 352.47 184.11 355 183.53 355.99 187.51 356.12 185.45 352.71 184.87 353.71 180.54 351.18Z M179.77 361.43 184.13 363.97 183.55 364.97 187.53 365.09 185.46 361.68 184.88 362.68 180.52 360.13Z"/>
<path fill="#0de0c5" d="M183.85 353.44 188.72 354.92 188.38 356.02 192.28 355.22 189.49 352.39 189.15 353.48 184.29 352Z"/>
<path fill="#2ddd47" d="M188.19 354.53 193.29 354.76 193.25 355.9 196.82 354.16 193.41 352.11 193.36 353.26 188.25 353.04Z"/>
<path fill="#b3eb0d" d="M192.82 355.61 197.8 354.54 198.05 355.66 201.07 353.06 197.24 351.95 197.49 353.07 192.5 354.15Z"/>
<path fill="#f9d300" d="M197.7 356.52 202.23 354.31 202.73 355.34 205.05 352.1 201.07 351.93 201.57 352.96 197.04 355.17Z"/>
<path fill="#ffa300" d="M202.69 357.18 206.59 354.11 207.3 355.01 208.87 351.36 204.95 352.03 205.66 352.93 201.76 356Z"/>
<path fill="#fb4b00" d="M217.39 357.97 219.52 353.77 220.54 354.29 220.43 350.31 217.15 352.57 218.18 353.09 216.05 357.3Z"/>
<path fill="#f11700" d="M235.8 358.05 236.79 353.63 237.91 353.88 236.82 350.05 234.2 353.05 235.33 353.3 234.33 357.73Z"/>
<path fill="#0b14ee" d="M159.97 359.4 161.63 363.74 160.55 364.15 163.58 366.74 164.1 362.79 163.03 363.2 161.37 358.86Z"/>
<path fill="#091ef1" d="M164.02 359.56 166.05 363.8 165.01 364.3 168.24 366.64 168.44 362.66 167.4 363.15 165.37 358.91Z"/>
<path fill="#0737f5" d="M168.01 359.8 170.5 363.87 169.52 364.47 172.97 366.46 172.76 362.49 171.78 363.09 169.28 359.02Z"/>
<path fill="#0080ff" d="M175.83 360.69 179.54 363.98 178.78 364.84 182.66 365.74 181.3 362 180.54 362.86 176.83 359.57Z M175.82 369.67 179.55 372.95 178.79 373.81 182.67 374.7 181.3 370.96 180.54 371.82 176.81 368.54Z"/>
<path fill="#0ce0c8" d="M183.84 362.37 188.73 363.89 188.39 364.99 192.29 364.22 189.52 361.36 189.18 362.46 184.29 360.94Z"/>
<path fill="#2bdd4e" d="M188.16 363.44 193.3 363.73 193.24 364.88 196.84 363.18 193.45 361.09 193.39 362.23 188.24 361.94Z"/>
<path fill="#a8e910" d="M192.77 364.5 197.81 363.51 198.03 364.64 201.1 362.11 197.3 360.91 197.53 362.04 192.48 363.03Z"/>
<path fill="#f6d700" d="M197.62 365.4 202.24 363.29 202.72 364.33 205.11 361.15 201.13 360.88 201.61 361.92 196.99 364.04Z"/>
<path fill="#ffa900" d="M202.59 366.08 206.6 363.09 207.28 364.01 208.96 360.4 205.01 360.96 205.7 361.89 201.69 364.87Z"/>
<path fill="#fc4f00" d="M217.3 366.92 219.53 362.74 220.54 363.29 220.51 359.3 217.19 361.5 218.2 362.04 215.98 366.22Z"/>
<path fill="#f83c00" d="M222.02 366.99 223.84 362.69 224.9 363.14 224.5 359.17 221.39 361.66 222.45 362.11 220.64 366.41Z"/>
<path fill="#f62d00" d="M226.66 367.02 228.15 362.65 229.24 363.02 228.57 359.09 225.64 361.8 226.73 362.17 225.24 366.54Z"/>
<path fill="#0920f2" d="M163.99 368.54 166.06 372.77 165.03 373.28 168.27 375.59 168.44 371.61 167.41 372.12 165.34 367.88Z"/>
<path fill="#0358fa" d="M171.91 369.14 175.01 372.91 174.12 373.64 177.81 375.13 177.05 371.22 176.17 371.95 173.07 368.19Z"/>
<path fill="#00bafc" d="M179.76 370.39 184.13 372.94 183.55 373.93 187.53 374.06 185.47 370.65 184.89 371.65 180.52 369.09Z"/>
<path fill="#0ce0cc" d="M183.84 371.3 188.73 372.86 188.38 373.96 192.29 373.21 189.53 370.34 189.19 371.43 184.29 369.87Z"/>
<path fill="#29dd55" d="M188.14 372.35 193.3 372.71 193.22 373.85 196.85 372.2 193.49 370.06 193.41 371.21 188.25 370.85Z"/>
<path fill="#9de814" d="M192.73 373.39 197.81 372.49 198.01 373.63 201.13 371.15 197.35 369.88 197.55 371.02 192.47 371.91Z"/>
<path fill="#f3db00" d="M197.55 374.29 202.24 372.27 202.7 373.33 205.16 370.2 201.19 369.84 201.65 370.89 196.96 372.92Z"/>
<path fill="#ffae00" d="M202.5 374.97 206.6 372.07 207.27 373.01 209.03 369.44 205.07 369.91 205.74 370.85 201.64 373.75Z"/>
<path fill="#ff8400" d="M207.48 375.43 210.93 371.92 211.75 372.72 212.84 368.89 209.03 370.06 209.85 370.87 206.41 374.38Z"/>
<path fill="#fd6900" d="M212.39 375.71 215.23 371.8 216.16 372.48 216.68 368.53 213.09 370.24 214.02 370.92 211.18 374.83Z"/>
<path fill="#fc5300" d="M217.22 375.87 219.54 371.72 220.54 372.28 220.59 368.3 217.22 370.43 218.23 370.99 215.91 375.13Z"/>
<path fill="#f63000" d="M226.6 375.98 228.16 371.62 229.24 372.01 228.63 368.07 225.66 370.73 226.74 371.12 225.19 375.47Z"/>
<rect x="43.8" y="334.3" width="51.2" height="10.7" fill="url(#cjet)"/>
<text x="46.5" y="355" font-size="9" text-anchor="middle">−1</text>
<text x="70" y="355" font-size="9" text-anchor="middle">0</text>
<text x="93.5" y="355" font-size="9" text-anchor="middle">+1</text>
<text x="67" y="364.5" font-size="8.5" class="i">m<tspan font-size="5.5" dy="1.5">z</tspan></text>
<text class="lbl" x="19.6" y="227.6">c</text>
<text x="281" y="245.8" font-size="10">Top</text><text x="280.3" y="257.6" font-size="10">(Layer 15)</text>
<text x="282" y="294.8" font-size="10">Layer 10</text>
<text x="280" y="368.8" font-size="10">Bottom</text><text x="280.3" y="380.6" font-size="10">(Layer 1)</text>
<g transform="translate(389.8 275.0)"><g clip-path="url(#c34)"><g filter="url(#bwr10)"><rect x="-40" y="-40" width="80" height="80" fill="#fff"/><path d="M27.3 0.1 L27.22 2.62 L26.99 4.89 L26.6 7.05 L26.06 9.12 L25.38 11.11 L24.54 13 L23.56 14.81 L22.45 16.51 L21.2 18.1 L19.83 19.59 L18.34 20.95 L16.73 22.19 L15.02 23.29 L13.2 24.26 L11.29 25.09 L9.29 25.77 L7.2 26.31 L5.03 26.69 L2.74 26.92 L0.2 27 L-2.34 26.92 L-4.63 26.69 L-6.8 26.31 L-8.89 25.77 L-10.89 25.09 L-12.8 24.26 L-14.62 23.29 L-16.33 22.19 L-17.94 20.95 L-19.43 19.59 L-20.8 18.1 L-22.05 16.51 L-23.16 14.81 L-24.14 13 L-24.98 11.11 L-25.66 9.12 L-26.2 7.05 L-26.59 4.89 L-26.82 2.62 L-26.9 0.1 L-26.82 -2.42 L-26.59 -4.69 L-26.2 -6.85 L-25.66 -8.92 L-24.98 -10.91 L-24.14 -12.8 L-23.16 -14.61 L-22.05 -16.31 L-20.8 -17.9 L-19.43 -19.39 L-17.94 -20.75 L-16.33 -21.99 L-14.62 -23.09 L-12.8 -24.06 L-10.89 -24.89 L-8.89 -25.57 L-6.8 -26.11 L-4.63 -26.49 L-2.34 -26.72 L0.2 -26.8 L2.74 -26.72 L5.03 -26.49 L7.2 -26.11 L9.29 -25.57 L11.29 -24.89 L13.2 -24.06 L15.02 -23.09 L16.73 -21.99 L18.34 -20.75 L19.83 -19.39 L21.2 -17.9 L22.45 -16.31 L23.56 -14.61 L24.54 -12.8 L25.38 -10.91 L26.06 -8.92 L26.6 -6.85 L26.99 -4.69 L27.22 -2.42Z" fill="#000"/><path d="M-3.15 -11.78 L-3.64 -10.26 L-4.06 -8.74 L-4.4 -7.2 L-4.66 -5.65 L-4.85 -4.11 L-4.96 -2.55 L-5 -1 L-4.96 0.55 L-4.85 2.11 L-4.66 3.65 L-4.4 5.2 L-4.06 6.74 L-3.64 8.26 L-3.15 9.78 L-3.07 12.07 L-3.86 14.21 L-5.42 15.89 L-7.5 16.84 L-9.78 16.93 L-11.93 16.13 L-13.6 14.58 L-14.56 12.5 L-14.83 10.55 L-15.07 8.61 L-15.26 6.68 L-15.41 4.75 L-15.52 2.83 L-15.58 0.91 L-15.6 -1 L-15.58 -2.91 L-15.52 -4.83 L-15.41 -6.75 L-15.26 -8.68 L-15.07 -10.61 L-14.83 -12.55 L-14.56 -14.5 L-13.6 -16.58 L-11.93 -18.13 L-9.78 -18.93 L-7.5 -18.84 L-5.42 -17.89 L-3.86 -16.21 L-3.07 -14.07Z" fill="#fff"/><path d="M14.97 -14.36 L15.24 -12.36 L15.47 -10.36 L15.66 -8.38 L15.81 -6.41 L15.92 -4.43 L15.98 -2.47 L16 -0.5 L15.98 1.47 L15.92 3.43 L15.81 5.41 L15.66 7.38 L15.47 9.36 L15.24 11.36 L14.97 13.36 L14.03 15.44 L12.36 17.01 L10.22 17.82 L7.94 17.75 L5.85 16.81 L4.29 15.15 L3.48 13.01 L3.54 10.72 L4.04 9.14 L4.45 7.55 L4.79 5.95 L5.06 4.34 L5.25 2.73 L5.36 1.12 L5.4 -0.5 L5.36 -2.12 L5.25 -3.73 L5.06 -5.34 L4.79 -6.95 L4.45 -8.55 L4.04 -10.14 L3.54 -11.72 L3.48 -14.01 L4.29 -16.15 L5.85 -17.81 L7.94 -18.75 L10.22 -18.82 L12.36 -18.01 L14.03 -16.44Z" fill="#fff"/></g><path d="M27.3 0.1 L27.22 2.62 L26.99 4.89 L26.6 7.05 L26.06 9.12 L25.38 11.11 L24.54 13 L23.56 14.81 L22.45 16.51 L21.2 18.1 L19.83 19.59 L18.34 20.95 L16.73 22.19 L15.02 23.29 L13.2 24.26 L11.29 25.09 L9.29 25.77 L7.2 26.31 L5.03 26.69 L2.74 26.92 L0.2 27 L-2.34 26.92 L-4.63 26.69 L-6.8 26.31 L-8.89 25.77 L-10.89 25.09 L-12.8 24.26 L-14.62 23.29 L-16.33 22.19 L-17.94 20.95 L-19.43 19.59 L-20.8 18.1 L-22.05 16.51 L-23.16 14.81 L-24.14 13 L-24.98 11.11 L-25.66 9.12 L-26.2 7.05 L-26.59 4.89 L-26.82 2.62 L-26.9 0.1 L-26.82 -2.42 L-26.59 -4.69 L-26.2 -6.85 L-25.66 -8.92 L-24.98 -10.91 L-24.14 -12.8 L-23.16 -14.61 L-22.05 -16.31 L-20.8 -17.9 L-19.43 -19.39 L-17.94 -20.75 L-16.33 -21.99 L-14.62 -23.09 L-12.8 -24.06 L-10.89 -24.89 L-8.89 -25.57 L-6.8 -26.11 L-4.63 -26.49 L-2.34 -26.72 L0.2 -26.8 L2.74 -26.72 L5.03 -26.49 L7.2 -26.11 L9.29 -25.57 L11.29 -24.89 L13.2 -24.06 L15.02 -23.09 L16.73 -21.99 L18.34 -20.75 L19.83 -19.39 L21.2 -17.9 L22.45 -16.31 L23.56 -14.61 L24.54 -12.8 L25.38 -10.91 L26.06 -8.92 L26.6 -6.85 L26.99 -4.69 L27.22 -2.42Z M-3.15 -11.78 L-3.64 -10.26 L-4.06 -8.74 L-4.4 -7.2 L-4.66 -5.65 L-4.85 -4.11 L-4.96 -2.55 L-5 -1 L-4.96 0.55 L-4.85 2.11 L-4.66 3.65 L-4.4 5.2 L-4.06 6.74 L-3.64 8.26 L-3.15 9.78 L-3.07 12.07 L-3.86 14.21 L-5.42 15.89 L-7.5 16.84 L-9.78 16.93 L-11.93 16.13 L-13.6 14.58 L-14.56 12.5 L-14.83 10.55 L-15.07 8.61 L-15.26 6.68 L-15.41 4.75 L-15.52 2.83 L-15.58 0.91 L-15.6 -1 L-15.58 -2.91 L-15.52 -4.83 L-15.41 -6.75 L-15.26 -8.68 L-15.07 -10.61 L-14.83 -12.55 L-14.56 -14.5 L-13.6 -16.58 L-11.93 -18.13 L-9.78 -18.93 L-7.5 -18.84 L-5.42 -17.89 L-3.86 -16.21 L-3.07 -14.07Z M14.97 -14.36 L15.24 -12.36 L15.47 -10.36 L15.66 -8.38 L15.81 -6.41 L15.92 -4.43 L15.98 -2.47 L16 -0.5 L15.98 1.47 L15.92 3.43 L15.81 5.41 L15.66 7.38 L15.47 9.36 L15.24 11.36 L14.97 13.36 L14.03 15.44 L12.36 17.01 L10.22 17.82 L7.94 17.75 L5.85 16.81 L4.29 15.15 L3.48 13.01 L3.54 10.72 L4.04 9.14 L4.45 7.55 L4.79 5.95 L5.06 4.34 L5.25 2.73 L5.36 1.12 L5.4 -0.5 L5.36 -2.12 L5.25 -3.73 L5.06 -5.34 L4.79 -6.95 L4.45 -8.55 L4.04 -10.14 L3.54 -11.72 L3.48 -14.01 L4.29 -16.15 L5.85 -17.81 L7.94 -18.75 L10.22 -18.82 L12.36 -18.01 L14.03 -16.44Z" fill="none" stroke="#fff" stroke-width="3.7" stroke-opacity="0.75" filter="url(#soft)"/><path d="M27.3 0.1 L27.22 2.62 L26.99 4.89 L26.6 7.05 L26.06 9.12 L25.38 11.11 L24.54 13 L23.56 14.81 L22.45 16.51 L21.2 18.1 L19.83 19.59 L18.34 20.95 L16.73 22.19 L15.02 23.29 L13.2 24.26 L11.29 25.09 L9.29 25.77 L7.2 26.31 L5.03 26.69 L2.74 26.92 L0.2 27 L-2.34 26.92 L-4.63 26.69 L-6.8 26.31 L-8.89 25.77 L-10.89 25.09 L-12.8 24.26 L-14.62 23.29 L-16.33 22.19 L-17.94 20.95 L-19.43 19.59 L-20.8 18.1 L-22.05 16.51 L-23.16 14.81 L-24.14 13 L-24.98 11.11 L-25.66 9.12 L-26.2 7.05 L-26.59 4.89 L-26.82 2.62 L-26.9 0.1 L-26.82 -2.42 L-26.59 -4.69 L-26.2 -6.85 L-25.66 -8.92 L-24.98 -10.91 L-24.14 -12.8 L-23.16 -14.61 L-22.05 -16.31 L-20.8 -17.9 L-19.43 -19.39 L-17.94 -20.75 L-16.33 -21.99 L-14.62 -23.09 L-12.8 -24.06 L-10.89 -24.89 L-8.89 -25.57 L-6.8 -26.11 L-4.63 -26.49 L-2.34 -26.72 L0.2 -26.8 L2.74 -26.72 L5.03 -26.49 L7.2 -26.11 L9.29 -25.57 L11.29 -24.89 L13.2 -24.06 L15.02 -23.09 L16.73 -21.99 L18.34 -20.75 L19.83 -19.39 L21.2 -17.9 L22.45 -16.31 L23.56 -14.61 L24.54 -12.8 L25.38 -10.91 L26.06 -8.92 L26.6 -6.85 L26.99 -4.69 L27.22 -2.42Z M-3.15 -11.78 L-3.64 -10.26 L-4.06 -8.74 L-4.4 -7.2 L-4.66 -5.65 L-4.85 -4.11 L-4.96 -2.55 L-5 -1 L-4.96 0.55 L-4.85 2.11 L-4.66 3.65 L-4.4 5.2 L-4.06 6.74 L-3.64 8.26 L-3.15 9.78 L-3.07 12.07 L-3.86 14.21 L-5.42 15.89 L-7.5 16.84 L-9.78 16.93 L-11.93 16.13 L-13.6 14.58 L-14.56 12.5 L-14.83 10.55 L-15.07 8.61 L-15.26 6.68 L-15.41 4.75 L-15.52 2.83 L-15.58 0.91 L-15.6 -1 L-15.58 -2.91 L-15.52 -4.83 L-15.41 -6.75 L-15.26 -8.68 L-15.07 -10.61 L-14.83 -12.55 L-14.56 -14.5 L-13.6 -16.58 L-11.93 -18.13 L-9.78 -18.93 L-7.5 -18.84 L-5.42 -17.89 L-3.86 -16.21 L-3.07 -14.07Z M14.97 -14.36 L15.24 -12.36 L15.47 -10.36 L15.66 -8.38 L15.81 -6.41 L15.92 -4.43 L15.98 -2.47 L16 -0.5 L15.98 1.47 L15.92 3.43 L15.81 5.41 L15.66 7.38 L15.47 9.36 L15.24 11.36 L14.97 13.36 L14.03 15.44 L12.36 17.01 L10.22 17.82 L7.94 17.75 L5.85 16.81 L4.29 15.15 L3.48 13.01 L3.54 10.72 L4.04 9.14 L4.45 7.55 L4.79 5.95 L5.06 4.34 L5.25 2.73 L5.36 1.12 L5.4 -0.5 L5.36 -2.12 L5.25 -3.73 L5.06 -5.34 L4.79 -6.95 L4.45 -8.55 L4.04 -10.14 L3.54 -11.72 L3.48 -14.01 L4.29 -16.15 L5.85 -17.81 L7.94 -18.75 L10.22 -18.82 L12.36 -18.01 L14.03 -16.44Z" fill="none" stroke="#fff" stroke-width="2.7" stroke-opacity="0.9"/><rect x="-36" y="-36" width="72" height="72" fill="url(#dots)"/><path d="M27.3 0.1 L27.22 2.62 L26.99 4.89 L26.6 7.05 L26.06 9.12 L25.38 11.11 L24.54 13 L23.56 14.81 L22.45 16.51 L21.2 18.1 L19.83 19.59 L18.34 20.95 L16.73 22.19 L15.02 23.29 L13.2 24.26 L11.29 25.09 L9.29 25.77 L7.2 26.31 L5.03 26.69 L2.74 26.92 L0.2 27 L-2.34 26.92 L-4.63 26.69 L-6.8 26.31 L-8.89 25.77 L-10.89 25.09 L-12.8 24.26 L-14.62 23.29 L-16.33 22.19 L-17.94 20.95 L-19.43 19.59 L-20.8 18.1 L-22.05 16.51 L-23.16 14.81 L-24.14 13 L-24.98 11.11 L-25.66 9.12 L-26.2 7.05 L-26.59 4.89 L-26.82 2.62 L-26.9 0.1 L-26.82 -2.42 L-26.59 -4.69 L-26.2 -6.85 L-25.66 -8.92 L-24.98 -10.91 L-24.14 -12.8 L-23.16 -14.61 L-22.05 -16.31 L-20.8 -17.9 L-19.43 -19.39 L-17.94 -20.75 L-16.33 -21.99 L-14.62 -23.09 L-12.8 -24.06 L-10.89 -24.89 L-8.89 -25.57 L-6.8 -26.11 L-4.63 -26.49 L-2.34 -26.72 L0.2 -26.8 L2.74 -26.72 L5.03 -26.49 L7.2 -26.11 L9.29 -25.57 L11.29 -24.89 L13.2 -24.06 L15.02 -23.09 L16.73 -21.99 L18.34 -20.75 L19.83 -19.39 L21.2 -17.9 L22.45 -16.31 L23.56 -14.61 L24.54 -12.8 L25.38 -10.91 L26.06 -8.92 L26.6 -6.85 L26.99 -4.69 L27.22 -2.42Z M-3.15 -11.78 L-3.64 -10.26 L-4.06 -8.74 L-4.4 -7.2 L-4.66 -5.65 L-4.85 -4.11 L-4.96 -2.55 L-5 -1 L-4.96 0.55 L-4.85 2.11 L-4.66 3.65 L-4.4 5.2 L-4.06 6.74 L-3.64 8.26 L-3.15 9.78 L-3.07 12.07 L-3.86 14.21 L-5.42 15.89 L-7.5 16.84 L-9.78 16.93 L-11.93 16.13 L-13.6 14.58 L-14.56 12.5 L-14.83 10.55 L-15.07 8.61 L-15.26 6.68 L-15.41 4.75 L-15.52 2.83 L-15.58 0.91 L-15.6 -1 L-15.58 -2.91 L-15.52 -4.83 L-15.41 -6.75 L-15.26 -8.68 L-15.07 -10.61 L-14.83 -12.55 L-14.56 -14.5 L-13.6 -16.58 L-11.93 -18.13 L-9.78 -18.93 L-7.5 -18.84 L-5.42 -17.89 L-3.86 -16.21 L-3.07 -14.07Z M14.97 -14.36 L15.24 -12.36 L15.47 -10.36 L15.66 -8.38 L15.81 -6.41 L15.92 -4.43 L15.98 -2.47 L16 -0.5 L15.98 1.47 L15.92 3.43 L15.81 5.41 L15.66 7.38 L15.47 9.36 L15.24 11.36 L14.97 13.36 L14.03 15.44 L12.36 17.01 L10.22 17.82 L7.94 17.75 L5.85 16.81 L4.29 15.15 L3.48 13.01 L3.54 10.72 L4.04 9.14 L4.45 7.55 L4.79 5.95 L5.06 4.34 L5.25 2.73 L5.36 1.12 L5.4 -0.5 L5.36 -2.12 L5.25 -3.73 L5.06 -5.34 L4.79 -6.95 L4.45 -8.55 L4.04 -10.14 L3.54 -11.72 L3.48 -14.01 L4.29 -16.15 L5.85 -17.81 L7.94 -18.75 L10.22 -18.82 L12.36 -18.01 L14.03 -16.44Z" fill="url(#rdots)" fill-rule="evenodd"/><path d="M27.3 0.1 L27.22 2.62 L26.99 4.89 L26.6 7.05 L26.06 9.12 L25.38 11.11 L24.54 13 L23.56 14.81 L22.45 16.51 L21.2 18.1 L19.83 19.59 L18.34 20.95 L16.73 22.19 L15.02 23.29 L13.2 24.26 L11.29 25.09 L9.29 25.77 L7.2 26.31 L5.03 26.69 L2.74 26.92 L0.2 27 L-2.34 26.92 L-4.63 26.69 L-6.8 26.31 L-8.89 25.77 L-10.89 25.09 L-12.8 24.26 L-14.62 23.29 L-16.33 22.19 L-17.94 20.95 L-19.43 19.59 L-20.8 18.1 L-22.05 16.51 L-23.16 14.81 L-24.14 13 L-24.98 11.11 L-25.66 9.12 L-26.2 7.05 L-26.59 4.89 L-26.82 2.62 L-26.9 0.1 L-26.82 -2.42 L-26.59 -4.69 L-26.2 -6.85 L-25.66 -8.92 L-24.98 -10.91 L-24.14 -12.8 L-23.16 -14.61 L-22.05 -16.31 L-20.8 -17.9 L-19.43 -19.39 L-17.94 -20.75 L-16.33 -21.99 L-14.62 -23.09 L-12.8 -24.06 L-10.89 -24.89 L-8.89 -25.57 L-6.8 -26.11 L-4.63 -26.49 L-2.34 -26.72 L0.2 -26.8 L2.74 -26.72 L5.03 -26.49 L7.2 -26.11 L9.29 -25.57 L11.29 -24.89 L13.2 -24.06 L15.02 -23.09 L16.73 -21.99 L18.34 -20.75 L19.83 -19.39 L21.2 -17.9 L22.45 -16.31 L23.56 -14.61 L24.54 -12.8 L25.38 -10.91 L26.06 -8.92 L26.6 -6.85 L26.99 -4.69 L27.22 -2.42Z M-3.15 -11.78 L-3.64 -10.26 L-4.06 -8.74 L-4.4 -7.2 L-4.66 -5.65 L-4.85 -4.11 L-4.96 -2.55 L-5 -1 L-4.96 0.55 L-4.85 2.11 L-4.66 3.65 L-4.4 5.2 L-4.06 6.74 L-3.64 8.26 L-3.15 9.78 L-3.07 12.07 L-3.86 14.21 L-5.42 15.89 L-7.5 16.84 L-9.78 16.93 L-11.93 16.13 L-13.6 14.58 L-14.56 12.5 L-14.83 10.55 L-15.07 8.61 L-15.26 6.68 L-15.41 4.75 L-15.52 2.83 L-15.58 0.91 L-15.6 -1 L-15.58 -2.91 L-15.52 -4.83 L-15.41 -6.75 L-15.26 -8.68 L-15.07 -10.61 L-14.83 -12.55 L-14.56 -14.5 L-13.6 -16.58 L-11.93 -18.13 L-9.78 -18.93 L-7.5 -18.84 L-5.42 -17.89 L-3.86 -16.21 L-3.07 -14.07Z M14.97 -14.36 L15.24 -12.36 L15.47 -10.36 L15.66 -8.38 L15.81 -6.41 L15.92 -4.43 L15.98 -2.47 L16 -0.5 L15.98 1.47 L15.92 3.43 L15.81 5.41 L15.66 7.38 L15.47 9.36 L15.24 11.36 L14.97 13.36 L14.03 15.44 L12.36 17.01 L10.22 17.82 L7.94 17.75 L5.85 16.81 L4.29 15.15 L3.48 13.01 L3.54 10.72 L4.04 9.14 L4.45 7.55 L4.79 5.95 L5.06 4.34 L5.25 2.73 L5.36 1.12 L5.4 -0.5 L5.36 -2.12 L5.25 -3.73 L5.06 -5.34 L4.79 -6.95 L4.45 -8.55 L4.04 -10.14 L3.54 -11.72 L3.48 -14.01 L4.29 -16.15 L5.85 -17.81 L7.94 -18.75 L10.22 -18.82 L12.36 -18.01 L14.03 -16.44Z" fill="none" stroke="#000" stroke-opacity="0.85" stroke-dasharray="0.9 1.65" stroke-width="3.0"/></g></g>
<circle cx="389.8" cy="349.8" r="34.5" fill="#000"/>
<g filter="url(#glowm)" fill="none" stroke-linecap="round" stroke-width="3.0"><path stroke="#ff0000" d="M367.75 333.49L369 331.9M369 331.9L370.37 330.41M401.65 331.66L403.32 333.13"/><path stroke="#ff3200" d="M364.82 338.89L365.66 337M365.66 337L366.64 335.19M366.64 335.19L367.75 333.49M382.72 331.01L384.71 332.01"/><path stroke="#ff6600" d="M363.21 345.11L363.6 342.95M363.6 342.95L364.14 340.88M364.14 340.88L364.82 338.89M399.55 330.95L401.65 331.66"/><path stroke="#ff9900" d="M362.98 352.42L362.9 349.9M362.9 349.9L362.98 347.38M362.98 347.38L363.21 345.11M380.5 330.84L382.72 331.01"/><path stroke="#ffcc00" d="M363.6 356.85L363.21 354.69M363.21 354.69L362.98 352.42M397.33 331.09L399.55 330.95"/><path stroke="#ffff00" d="M365.66 362.8L364.82 360.91M364.82 360.91L364.14 358.92M364.14 358.92L363.6 356.85M378.39 331.54L380.5 330.84"/><path stroke="#cbff00" d="M369 367.9L367.75 366.31M367.75 366.31L366.64 364.61M366.64 364.61L365.66 362.8M395.33 332.08L397.33 331.09"/><path stroke="#99ff00" d="M371.86 370.75L370.37 369.39M370.37 369.39L369 367.9M376.71 332.99L378.39 331.54M393.86 333.75L395.33 332.08"/><path stroke="#65ff00" d="M377 374.06L375.18 373.09M375.18 373.09L373.47 371.99M373.47 371.99L371.86 370.75"/><path stroke="#33ff00" d="M380.91 375.57L378.91 374.89M378.91 374.89L377 374.06M375.71 334.98L376.71 332.99M393.29 360.53L393.88 358.95M393.88 358.95L394.37 357.37M393.15 335.85L393.86 333.75"/><path stroke="#00ff00" d="M387.46 376.72L385.17 376.49M385.17 376.49L383 376.11M383 376.11L380.91 375.57M374.72 342.93L374.89 340.96M374.89 340.96L375.11 338.98M375.11 338.98L375.38 336.99M375.38 336.99L375.71 334.98M394.37 357.37L394.78 355.77M394.78 355.77L395.09 354.16M395.09 354.16L395.32 352.54M395.32 352.54L395.45 350.92"/><path stroke="#00ff32" d="M394.83 376.49L392.54 376.72M392.54 376.72L390 376.8M390 376.8L387.46 376.72M375.38 360.61L375.11 358.62M375.11 358.62L374.89 356.64M374.89 356.64L374.72 354.67M374.72 354.67L374.6 352.71M374.6 352.71L374.52 350.75M374.52 350.75L374.5 348.8M374.5 348.8L374.52 346.85M374.52 346.85L374.6 344.89M374.6 344.89L374.72 342.93M393.15 362.75L393.29 360.53M395.45 350.92L395.5 349.3M395.5 349.3L395.45 347.68M395.45 347.68L395.32 346.06M395.32 346.06L395.09 344.44M393.29 338.07L393.15 335.85"/><path stroke="#00ff66" d="M401.09 374.89L399.09 375.57M399.09 375.57L397 376.11M397 376.11L394.83 376.49M375.71 362.62L375.38 360.61M393.86 364.85L393.15 362.75M395.09 344.44L394.78 342.83M394.78 342.83L394.37 341.23M394.37 341.23L393.88 339.65"/><path stroke="#00ff99" d="M404.82 373.09L403 374.06M403 374.06L401.09 374.89M376.71 364.61L375.71 362.62M393.88 339.65L393.29 338.07"/><path stroke="#00ffcb" d="M409.63 369.39L408.14 370.75M408.14 370.75L406.53 371.99M406.53 371.99L404.82 373.09M395.33 366.52L393.86 364.85"/><path stroke="#00ffff" d="M412.25 366.31L411 367.9M411 367.9L409.63 369.39M378.39 366.06L376.71 364.61"/><path stroke="#00cbff" d="M415.18 360.91L414.34 362.8M414.34 362.8L413.36 364.61M413.36 364.61L412.25 366.31M397.33 367.51L395.33 366.52"/><path stroke="#0099ff" d="M416.79 354.69L416.4 356.85M416.4 356.85L415.86 358.92M415.86 358.92L415.18 360.91M380.5 366.76L378.39 366.06"/><path stroke="#0066ff" d="M417.1 349.9L417.02 352.42M417.02 352.42L416.79 354.69M417.02 347.38L417.1 349.9M399.55 367.65L397.33 367.51"/><path stroke="#0033ff" d="M416.4 342.95L416.79 345.11M416.79 345.11L417.02 347.38M382.72 366.59L380.5 366.76"/><path stroke="#0000ff" d="M414.34 337L415.18 338.89M415.18 338.89L415.86 340.88M415.86 340.88L416.4 342.95M401.65 366.94L399.55 367.65"/><path stroke="#3200ff" d="M411 331.9L412.25 333.49M412.25 333.49L413.36 335.19M413.36 335.19L414.34 337M384.71 365.59L382.72 366.59"/><path stroke="#6500ff" d="M408.14 329.05L409.63 330.41M409.63 330.41L411 331.9M386.16 363.91L384.71 365.59M403.32 365.47L401.65 366.94"/><path stroke="#9900ff" d="M403 325.74L404.82 326.71M404.82 326.71L406.53 327.81M406.53 327.81L408.14 329.05"/><path stroke="#cc00ff" d="M399.09 324.23L401.09 324.91M401.09 324.91L403 325.74M386.69 338.02L386.11 339.53M386.11 339.53L385.62 341.05M386.86 361.8L386.16 363.91M404.31 363.47L403.32 365.47"/><path stroke="#ff00ff" d="M392.54 323.08L394.83 323.31M394.83 323.31L397 323.69M397 323.69L399.09 324.23M385.62 341.05L385.22 342.59M385.22 342.59L384.91 344.13M384.91 344.13L384.68 345.68M384.68 345.68L384.55 347.24M386.86 335.8L386.69 338.02M405.28 355.33L405.11 357.35M405.11 357.35L404.89 359.38M404.89 359.38L404.63 361.42M404.63 361.42L404.31 363.47"/><path stroke="#ff00cb" d="M385.17 323.31L387.46 323.08M387.46 323.08L390 323M390 323L392.54 323.08M384.55 347.24L384.5 348.8M384.5 348.8L384.55 350.36M384.55 350.36L384.68 351.92M386.69 359.58L386.86 361.8M404.63 337.18L404.89 339.22M404.89 339.22L405.11 341.25M405.11 341.25L405.28 343.27M405.28 343.27L405.4 345.29M405.4 345.29L405.48 347.29M405.48 347.29L405.5 349.3M405.5 349.3L405.48 351.31M405.48 351.31L405.4 353.31M405.4 353.31L405.28 355.33"/><path stroke="#ff0098" d="M378.91 324.91L380.91 324.23M380.91 324.23L383 323.69M383 323.69L385.17 323.31M384.68 351.92L384.91 353.47M384.91 353.47L385.22 355.01M385.22 355.01L385.62 356.55M385.62 356.55L386.11 358.07M386.16 333.69L386.86 335.8M404.31 335.13L404.63 337.18"/><path stroke="#ff0066" d="M375.18 326.71L377 325.74M377 325.74L378.91 324.91M386.11 358.07L386.69 359.58M403.32 333.13L404.31 335.13"/><path stroke="#ff0033" d="M370.37 330.41L371.86 329.05M371.86 329.05L373.47 327.81M373.47 327.81L375.18 326.71M384.71 332.01L386.16 333.69"/></g>
<path d="M392.64 326.69 390.45 321.98 391.67 321.41 387.8 319.02 387.14 323.52 388.36 322.95 390.56 327.66Z" fill="#333" fill-opacity="0.5" stroke="#fff" stroke-width="0.9" stroke-linejoin="round"/>
<path d="M366.39 344.66 361.68 346.85 361.11 345.63 358.72 349.5 363.22 350.16 362.65 348.94 367.36 346.74Z" fill="#333" fill-opacity="0.5" stroke="#fff" stroke-width="0.9" stroke-linejoin="round"/>
<path d="M413.91 355.34 418.62 353.15 419.19 354.37 421.58 350.5 417.08 349.84 417.65 351.06 412.94 353.26Z" fill="#333" fill-opacity="0.5" stroke="#fff" stroke-width="0.9" stroke-linejoin="round"/>
<path d="M389.06 373.61 391.25 378.32 390.03 378.89 393.9 381.28 394.56 376.78 393.34 377.35 391.14 372.64Z" fill="#333" fill-opacity="0.5" stroke="#fff" stroke-width="0.9" stroke-linejoin="round"/>
<text x="390.4" y="236.8" font-size="9.8" text-anchor="middle">Layer 1</text>
<g transform="translate(471.2 275.0)"><g clip-path="url(#c34)"><g filter="url(#bwr10)"><rect x="-40" y="-40" width="80" height="80" fill="#fff"/><path d="M27.8 -0.3 L27.72 2.54 L27.5 4.95 L27.12 7.19 L26.6 9.31 L25.93 11.32 L25.12 13.23 L24.17 15.03 L23.08 16.72 L21.86 18.3 L20.51 19.76 L19.04 21.1 L17.45 22.31 L15.74 23.39 L13.93 24.34 L12.01 25.14 L9.98 25.81 L7.85 26.33 L5.59 26.7 L3.16 26.93 L0.3 27 L-2.56 26.93 L-4.99 26.7 L-7.25 26.33 L-9.38 25.81 L-11.41 25.14 L-13.33 24.34 L-15.14 23.39 L-16.85 22.31 L-18.44 21.1 L-19.91 19.76 L-21.26 18.3 L-22.48 16.72 L-23.57 15.03 L-24.52 13.23 L-25.33 11.32 L-26 9.31 L-26.52 7.19 L-26.9 4.95 L-27.12 2.54 L-27.2 -0.3 L-27.12 -3.14 L-26.9 -5.55 L-26.52 -7.79 L-26 -9.91 L-25.33 -11.92 L-24.52 -13.83 L-23.57 -15.63 L-22.48 -17.32 L-21.26 -18.9 L-19.91 -20.36 L-18.44 -21.7 L-16.85 -22.91 L-15.14 -23.99 L-13.33 -24.94 L-11.41 -25.74 L-9.38 -26.41 L-7.25 -26.93 L-4.99 -27.3 L-2.56 -27.53 L0.3 -27.6 L3.16 -27.53 L5.59 -27.3 L7.85 -26.93 L9.98 -26.41 L12.01 -25.74 L13.93 -24.94 L15.74 -23.99 L17.45 -22.91 L19.04 -21.7 L20.51 -20.36 L21.86 -18.9 L23.08 -17.32 L24.17 -15.63 L25.12 -13.83 L25.93 -11.92 L26.6 -9.91 L27.12 -7.79 L27.5 -5.55 L27.72 -3.14Z" fill="#000"/><path d="M-2.54 -11.41 L-3.09 -9.86 L-3.55 -8.3 L-3.93 -6.73 L-4.22 -5.16 L-4.43 -3.57 L-4.56 -1.99 L-4.6 -0.4 L-4.56 1.19 L-4.43 2.77 L-4.22 4.36 L-3.93 5.93 L-3.55 7.5 L-3.09 9.06 L-2.54 10.61 L-2.41 13.04 L-3.21 15.33 L-4.84 17.15 L-7.03 18.2 L-9.46 18.34 L-11.76 17.53 L-13.57 15.91 L-14.63 13.71 L-14.94 11.67 L-15.21 9.64 L-15.42 7.62 L-15.59 5.61 L-15.71 3.6 L-15.78 1.6 L-15.8 -0.4 L-15.78 -2.4 L-15.71 -4.4 L-15.59 -6.41 L-15.42 -8.42 L-15.21 -10.44 L-14.94 -12.47 L-14.63 -14.51 L-13.57 -16.71 L-11.76 -18.33 L-9.46 -19.14 L-7.03 -19 L-4.84 -17.95 L-3.21 -16.13 L-2.41 -13.84Z" fill="#fff"/><path d="M16.24 -14.26 L16.55 -12.15 L16.81 -10.06 L17.02 -7.98 L17.19 -5.9 L17.31 -3.83 L17.38 -1.76 L17.4 0.3 L17.38 2.36 L17.31 4.43 L17.19 6.5 L17.02 8.58 L16.81 10.66 L16.55 12.75 L16.24 14.86 L15.21 17.06 L13.41 18.7 L11.12 19.53 L8.69 19.42 L6.48 18.38 L4.84 16.58 L4.02 14.29 L4.13 11.86 L4.68 10.24 L5.14 8.6 L5.52 6.95 L5.82 5.29 L6.03 3.63 L6.16 1.97 L6.2 0.3 L6.16 -1.37 L6.03 -3.03 L5.82 -4.69 L5.52 -6.35 L5.14 -8 L4.68 -9.64 L4.13 -11.26 L4.02 -13.69 L4.84 -15.98 L6.48 -17.78 L8.69 -18.82 L11.12 -18.93 L13.41 -18.1 L15.21 -16.46Z" fill="#fff"/></g><path d="M27.8 -0.3 L27.72 2.54 L27.5 4.95 L27.12 7.19 L26.6 9.31 L25.93 11.32 L25.12 13.23 L24.17 15.03 L23.08 16.72 L21.86 18.3 L20.51 19.76 L19.04 21.1 L17.45 22.31 L15.74 23.39 L13.93 24.34 L12.01 25.14 L9.98 25.81 L7.85 26.33 L5.59 26.7 L3.16 26.93 L0.3 27 L-2.56 26.93 L-4.99 26.7 L-7.25 26.33 L-9.38 25.81 L-11.41 25.14 L-13.33 24.34 L-15.14 23.39 L-16.85 22.31 L-18.44 21.1 L-19.91 19.76 L-21.26 18.3 L-22.48 16.72 L-23.57 15.03 L-24.52 13.23 L-25.33 11.32 L-26 9.31 L-26.52 7.19 L-26.9 4.95 L-27.12 2.54 L-27.2 -0.3 L-27.12 -3.14 L-26.9 -5.55 L-26.52 -7.79 L-26 -9.91 L-25.33 -11.92 L-24.52 -13.83 L-23.57 -15.63 L-22.48 -17.32 L-21.26 -18.9 L-19.91 -20.36 L-18.44 -21.7 L-16.85 -22.91 L-15.14 -23.99 L-13.33 -24.94 L-11.41 -25.74 L-9.38 -26.41 L-7.25 -26.93 L-4.99 -27.3 L-2.56 -27.53 L0.3 -27.6 L3.16 -27.53 L5.59 -27.3 L7.85 -26.93 L9.98 -26.41 L12.01 -25.74 L13.93 -24.94 L15.74 -23.99 L17.45 -22.91 L19.04 -21.7 L20.51 -20.36 L21.86 -18.9 L23.08 -17.32 L24.17 -15.63 L25.12 -13.83 L25.93 -11.92 L26.6 -9.91 L27.12 -7.79 L27.5 -5.55 L27.72 -3.14Z M-2.54 -11.41 L-3.09 -9.86 L-3.55 -8.3 L-3.93 -6.73 L-4.22 -5.16 L-4.43 -3.57 L-4.56 -1.99 L-4.6 -0.4 L-4.56 1.19 L-4.43 2.77 L-4.22 4.36 L-3.93 5.93 L-3.55 7.5 L-3.09 9.06 L-2.54 10.61 L-2.41 13.04 L-3.21 15.33 L-4.84 17.15 L-7.03 18.2 L-9.46 18.34 L-11.76 17.53 L-13.57 15.91 L-14.63 13.71 L-14.94 11.67 L-15.21 9.64 L-15.42 7.62 L-15.59 5.61 L-15.71 3.6 L-15.78 1.6 L-15.8 -0.4 L-15.78 -2.4 L-15.71 -4.4 L-15.59 -6.41 L-15.42 -8.42 L-15.21 -10.44 L-14.94 -12.47 L-14.63 -14.51 L-13.57 -16.71 L-11.76 -18.33 L-9.46 -19.14 L-7.03 -19 L-4.84 -17.95 L-3.21 -16.13 L-2.41 -13.84Z M16.24 -14.26 L16.55 -12.15 L16.81 -10.06 L17.02 -7.98 L17.19 -5.9 L17.31 -3.83 L17.38 -1.76 L17.4 0.3 L17.38 2.36 L17.31 4.43 L17.19 6.5 L17.02 8.58 L16.81 10.66 L16.55 12.75 L16.24 14.86 L15.21 17.06 L13.41 18.7 L11.12 19.53 L8.69 19.42 L6.48 18.38 L4.84 16.58 L4.02 14.29 L4.13 11.86 L4.68 10.24 L5.14 8.6 L5.52 6.95 L5.82 5.29 L6.03 3.63 L6.16 1.97 L6.2 0.3 L6.16 -1.37 L6.03 -3.03 L5.82 -4.69 L5.52 -6.35 L5.14 -8 L4.68 -9.64 L4.13 -11.26 L4.02 -13.69 L4.84 -15.98 L6.48 -17.78 L8.69 -18.82 L11.12 -18.93 L13.41 -18.1 L15.21 -16.46Z" fill="none" stroke="#fff" stroke-width="1.5" stroke-opacity="0.9"/><rect x="-36" y="-36" width="72" height="72" fill="url(#dots)"/><path d="M27.8 -0.3 L27.72 2.54 L27.5 4.95 L27.12 7.19 L26.6 9.31 L25.93 11.32 L25.12 13.23 L24.17 15.03 L23.08 16.72 L21.86 18.3 L20.51 19.76 L19.04 21.1 L17.45 22.31 L15.74 23.39 L13.93 24.34 L12.01 25.14 L9.98 25.81 L7.85 26.33 L5.59 26.7 L3.16 26.93 L0.3 27 L-2.56 26.93 L-4.99 26.7 L-7.25 26.33 L-9.38 25.81 L-11.41 25.14 L-13.33 24.34 L-15.14 23.39 L-16.85 22.31 L-18.44 21.1 L-19.91 19.76 L-21.26 18.3 L-22.48 16.72 L-23.57 15.03 L-24.52 13.23 L-25.33 11.32 L-26 9.31 L-26.52 7.19 L-26.9 4.95 L-27.12 2.54 L-27.2 -0.3 L-27.12 -3.14 L-26.9 -5.55 L-26.52 -7.79 L-26 -9.91 L-25.33 -11.92 L-24.52 -13.83 L-23.57 -15.63 L-22.48 -17.32 L-21.26 -18.9 L-19.91 -20.36 L-18.44 -21.7 L-16.85 -22.91 L-15.14 -23.99 L-13.33 -24.94 L-11.41 -25.74 L-9.38 -26.41 L-7.25 -26.93 L-4.99 -27.3 L-2.56 -27.53 L0.3 -27.6 L3.16 -27.53 L5.59 -27.3 L7.85 -26.93 L9.98 -26.41 L12.01 -25.74 L13.93 -24.94 L15.74 -23.99 L17.45 -22.91 L19.04 -21.7 L20.51 -20.36 L21.86 -18.9 L23.08 -17.32 L24.17 -15.63 L25.12 -13.83 L25.93 -11.92 L26.6 -9.91 L27.12 -7.79 L27.5 -5.55 L27.72 -3.14Z M-2.54 -11.41 L-3.09 -9.86 L-3.55 -8.3 L-3.93 -6.73 L-4.22 -5.16 L-4.43 -3.57 L-4.56 -1.99 L-4.6 -0.4 L-4.56 1.19 L-4.43 2.77 L-4.22 4.36 L-3.93 5.93 L-3.55 7.5 L-3.09 9.06 L-2.54 10.61 L-2.41 13.04 L-3.21 15.33 L-4.84 17.15 L-7.03 18.2 L-9.46 18.34 L-11.76 17.53 L-13.57 15.91 L-14.63 13.71 L-14.94 11.67 L-15.21 9.64 L-15.42 7.62 L-15.59 5.61 L-15.71 3.6 L-15.78 1.6 L-15.8 -0.4 L-15.78 -2.4 L-15.71 -4.4 L-15.59 -6.41 L-15.42 -8.42 L-15.21 -10.44 L-14.94 -12.47 L-14.63 -14.51 L-13.57 -16.71 L-11.76 -18.33 L-9.46 -19.14 L-7.03 -19 L-4.84 -17.95 L-3.21 -16.13 L-2.41 -13.84Z M16.24 -14.26 L16.55 -12.15 L16.81 -10.06 L17.02 -7.98 L17.19 -5.9 L17.31 -3.83 L17.38 -1.76 L17.4 0.3 L17.38 2.36 L17.31 4.43 L17.19 6.5 L17.02 8.58 L16.81 10.66 L16.55 12.75 L16.24 14.86 L15.21 17.06 L13.41 18.7 L11.12 19.53 L8.69 19.42 L6.48 18.38 L4.84 16.58 L4.02 14.29 L4.13 11.86 L4.68 10.24 L5.14 8.6 L5.52 6.95 L5.82 5.29 L6.03 3.63 L6.16 1.97 L6.2 0.3 L6.16 -1.37 L6.03 -3.03 L5.82 -4.69 L5.52 -6.35 L5.14 -8 L4.68 -9.64 L4.13 -11.26 L4.02 -13.69 L4.84 -15.98 L6.48 -17.78 L8.69 -18.82 L11.12 -18.93 L13.41 -18.1 L15.21 -16.46Z" fill="url(#rdots)" fill-rule="evenodd"/><path d="M27.8 -0.3 L27.72 2.54 L27.5 4.95 L27.12 7.19 L26.6 9.31 L25.93 11.32 L25.12 13.23 L24.17 15.03 L23.08 16.72 L21.86 18.3 L20.51 19.76 L19.04 21.1 L17.45 22.31 L15.74 23.39 L13.93 24.34 L12.01 25.14 L9.98 25.81 L7.85 26.33 L5.59 26.7 L3.16 26.93 L0.3 27 L-2.56 26.93 L-4.99 26.7 L-7.25 26.33 L-9.38 25.81 L-11.41 25.14 L-13.33 24.34 L-15.14 23.39 L-16.85 22.31 L-18.44 21.1 L-19.91 19.76 L-21.26 18.3 L-22.48 16.72 L-23.57 15.03 L-24.52 13.23 L-25.33 11.32 L-26 9.31 L-26.52 7.19 L-26.9 4.95 L-27.12 2.54 L-27.2 -0.3 L-27.12 -3.14 L-26.9 -5.55 L-26.52 -7.79 L-26 -9.91 L-25.33 -11.92 L-24.52 -13.83 L-23.57 -15.63 L-22.48 -17.32 L-21.26 -18.9 L-19.91 -20.36 L-18.44 -21.7 L-16.85 -22.91 L-15.14 -23.99 L-13.33 -24.94 L-11.41 -25.74 L-9.38 -26.41 L-7.25 -26.93 L-4.99 -27.3 L-2.56 -27.53 L0.3 -27.6 L3.16 -27.53 L5.59 -27.3 L7.85 -26.93 L9.98 -26.41 L12.01 -25.74 L13.93 -24.94 L15.74 -23.99 L17.45 -22.91 L19.04 -21.7 L20.51 -20.36 L21.86 -18.9 L23.08 -17.32 L24.17 -15.63 L25.12 -13.83 L25.93 -11.92 L26.6 -9.91 L27.12 -7.79 L27.5 -5.55 L27.72 -3.14Z M-2.54 -11.41 L-3.09 -9.86 L-3.55 -8.3 L-3.93 -6.73 L-4.22 -5.16 L-4.43 -3.57 L-4.56 -1.99 L-4.6 -0.4 L-4.56 1.19 L-4.43 2.77 L-4.22 4.36 L-3.93 5.93 L-3.55 7.5 L-3.09 9.06 L-2.54 10.61 L-2.41 13.04 L-3.21 15.33 L-4.84 17.15 L-7.03 18.2 L-9.46 18.34 L-11.76 17.53 L-13.57 15.91 L-14.63 13.71 L-14.94 11.67 L-15.21 9.64 L-15.42 7.62 L-15.59 5.61 L-15.71 3.6 L-15.78 1.6 L-15.8 -0.4 L-15.78 -2.4 L-15.71 -4.4 L-15.59 -6.41 L-15.42 -8.42 L-15.21 -10.44 L-14.94 -12.47 L-14.63 -14.51 L-13.57 -16.71 L-11.76 -18.33 L-9.46 -19.14 L-7.03 -19 L-4.84 -17.95 L-3.21 -16.13 L-2.41 -13.84Z M16.24 -14.26 L16.55 -12.15 L16.81 -10.06 L17.02 -7.98 L17.19 -5.9 L17.31 -3.83 L17.38 -1.76 L17.4 0.3 L17.38 2.36 L17.31 4.43 L17.19 6.5 L17.02 8.58 L16.81 10.66 L16.55 12.75 L16.24 14.86 L15.21 17.06 L13.41 18.7 L11.12 19.53 L8.69 19.42 L6.48 18.38 L4.84 16.58 L4.02 14.29 L4.13 11.86 L4.68 10.24 L5.14 8.6 L5.52 6.95 L5.82 5.29 L6.03 3.63 L6.16 1.97 L6.2 0.3 L6.16 -1.37 L6.03 -3.03 L5.82 -4.69 L5.52 -6.35 L5.14 -8 L4.68 -9.64 L4.13 -11.26 L4.02 -13.69 L4.84 -15.98 L6.48 -17.78 L8.69 -18.82 L11.12 -18.93 L13.41 -18.1 L15.21 -16.46Z" fill="none" stroke="#000" stroke-opacity="0.85" stroke-dasharray="0.7 1.85" stroke-width="1.5"/></g></g>
<circle cx="471.2" cy="350.0" r="34.5" fill="#000"/>
<g filter="url(#glowm)" fill="none" stroke-linecap="round" stroke-width="2.0"><path stroke="#ff0000" d="M466.21 322.7L468.64 322.47M468.64 322.47L471.5 322.4M471.5 322.4L474.36 322.47M474.36 322.47L476.79 322.7M464.65 331.06L466.75 332.17M481.78 331.04L484.05 331.76"/><path stroke="#ff3200" d="M461.82 323.59L463.95 323.07M463.95 323.07L466.21 322.7"/><path stroke="#ff6600" d="M456.06 326.01L457.87 325.06M457.87 325.06L459.79 324.26M459.79 324.26L461.82 323.59M462.28 330.83L464.65 331.06M479.41 331.24L481.78 331.04"/><path stroke="#ff9900" d="M452.76 328.3L454.35 327.09M454.35 327.09L456.06 326.01"/><path stroke="#ffcc00" d="M448.72 332.68L449.94 331.1M449.94 331.1L451.29 329.64M451.29 329.64L452.76 328.3M460 331.53L462.28 330.83M477.3 332.33L479.41 331.24"/><path stroke="#ffff00" d="M446.68 336.17L447.63 334.37M447.63 334.37L448.72 332.68"/><path stroke="#cbff00" d="M444.68 342.21L445.2 340.09M445.2 340.09L445.87 338.08M445.87 338.08L446.68 336.17M458.17 333.05L460 331.53M475.76 334.15L477.3 332.33"/><path stroke="#99ff00" d="M444 349.7L444.08 346.86M444.08 346.86L444.3 344.45M444.3 344.45L444.68 342.21M475.24 361.81L475.89 360.2"/><path stroke="#65ff00" d="M444.68 357.19L444.3 354.95M444.3 354.95L444.08 352.54M444.08 352.54L444 349.7M457.06 335.15L458.17 333.05M475.89 360.2L476.44 358.58M476.44 358.58L476.89 356.94M476.89 356.94L477.25 355.29M477.25 355.29L477.5 353.63M475.04 336.42L475.76 334.15"/><path stroke="#33ff00" d="M446.68 363.23L445.87 361.32M445.87 361.32L445.2 359.31M445.2 359.31L444.68 357.19M456.14 341.41L456.39 339.34M456.39 339.34L456.69 337.25M456.69 337.25L457.06 335.15M475.04 364.18L475.24 361.81M477.5 353.63L477.65 351.97M477.65 351.97L477.7 350.3M477.7 350.3L477.65 348.63"/><path stroke="#00ff00" d="M448.72 366.72L447.63 365.03M447.63 365.03L446.68 363.23M456.14 357.79L455.95 355.74M455.95 355.74L455.81 353.69M455.81 353.69L455.73 351.64M455.73 351.64L455.7 349.6M455.7 349.6L455.73 347.56M455.73 347.56L455.81 345.51M455.81 345.51L455.95 343.46M455.95 343.46L456.14 341.41M477.65 348.63L477.5 346.97M477.5 346.97L477.25 345.31M477.25 345.31L476.89 343.66M476.89 343.66L476.44 342.02M475.24 338.79L475.04 336.42"/><path stroke="#00ff32" d="M452.76 371.1L451.29 369.76M451.29 369.76L449.94 368.3M449.94 368.3L448.72 366.72M457.06 364.05L456.69 361.95M456.69 361.95L456.39 359.86M456.39 359.86L456.14 357.79M475.76 366.45L475.04 364.18M476.44 342.02L475.89 340.4M475.89 340.4L475.24 338.79"/><path stroke="#00ff66" d="M456.06 373.39L454.35 372.31M454.35 372.31L452.76 371.1M458.17 366.15L457.06 364.05"/><path stroke="#00ff99" d="M461.82 375.81L459.79 375.14M459.79 375.14L457.87 374.34M457.87 374.34L456.06 373.39M477.3 368.27L475.76 366.45"/><path stroke="#00ffcb" d="M466.21 376.7L463.95 376.33M463.95 376.33L461.82 375.81M460 367.67L458.17 366.15M479.41 369.36L477.3 368.27"/><path stroke="#00ffff" d="M476.79 376.7L474.36 376.93M474.36 376.93L471.5 377M471.5 377L468.64 376.93M468.64 376.93L466.21 376.7"/><path stroke="#00cbff" d="M481.18 375.81L479.05 376.33M479.05 376.33L476.79 376.7M462.28 368.37L460 367.67M481.78 369.56L479.41 369.36"/><path stroke="#0099ff" d="M486.94 373.39L485.13 374.34M485.13 374.34L483.21 375.14M483.21 375.14L481.18 375.81"/><path stroke="#0066ff" d="M490.24 371.1L488.65 372.31M488.65 372.31L486.94 373.39M464.65 368.14L462.28 368.37M484.05 368.84L481.78 369.56"/><path stroke="#0033ff" d="M494.28 366.72L493.06 368.3M493.06 368.3L491.71 369.76M491.71 369.76L490.24 371.1"/><path stroke="#0000ff" d="M496.32 363.23L495.37 365.03M495.37 365.03L494.28 366.72M466.75 367.03L464.65 368.14M485.87 367.3L484.05 368.84"/><path stroke="#3200ff" d="M498.32 357.19L497.8 359.31M497.8 359.31L497.13 361.32M497.13 361.32L496.32 363.23"/><path stroke="#6500ff" d="M499 349.7L498.92 352.54M498.92 352.54L498.7 354.95M498.7 354.95L498.32 357.19M468.27 365.2L466.75 367.03M486.96 365.19L485.87 367.3"/><path stroke="#9900ff" d="M498.32 342.21L498.7 344.45M498.7 344.45L498.92 346.86M498.92 346.86L499 349.7M468.74 338.65L468.1 340.18M468.1 340.18L467.55 341.72M487.32 363.02L486.96 365.19"/><path stroke="#cc00ff" d="M496.32 336.17L497.13 338.08M497.13 338.08L497.8 340.09M497.8 340.09L498.32 342.21M467.55 341.72L467.1 343.28M467.1 343.28L466.75 344.85M466.75 344.85L466.5 346.43M468.97 362.92L468.27 365.2M488.06 343.98L488.19 346.09M488.19 346.09L488.27 348.2M488.27 348.2L488.3 350.3M488.3 350.3L488.27 352.4M488.27 352.4L488.19 354.51M488.19 354.51L488.06 356.62M488.06 356.62L487.87 358.75M487.87 358.75L487.62 360.88M487.62 360.88L487.32 363.02"/><path stroke="#ff00ff" d="M494.28 332.68L495.37 334.37M495.37 334.37L496.32 336.17M466.5 346.43L466.35 348.01M466.35 348.01L466.3 349.6M466.3 349.6L466.35 351.19M466.35 351.19L466.5 352.77M468.74 360.55L468.97 362.92M468.97 336.28L468.74 338.65M486.96 335.41L487.32 337.58M487.32 337.58L487.62 339.72M487.62 339.72L487.87 341.85M487.87 341.85L488.06 343.98"/><path stroke="#ff00cb" d="M490.24 328.3L491.71 329.64M491.71 329.64L493.06 331.1M493.06 331.1L494.28 332.68M466.5 352.77L466.75 354.35M466.75 354.35L467.1 355.92M467.1 355.92L467.55 357.48M468.27 334L468.97 336.28M485.87 333.3L486.96 335.41"/><path stroke="#ff0098" d="M486.94 326.01L488.65 327.09M488.65 327.09L490.24 328.3M467.55 357.48L468.1 359.02M468.1 359.02L468.74 360.55"/><path stroke="#ff0066" d="M481.18 323.59L483.21 324.26M483.21 324.26L485.13 325.06M485.13 325.06L486.94 326.01M466.75 332.17L468.27 334M484.05 331.76L485.87 333.3"/><path stroke="#ff0033" d="M476.79 322.7L479.05 323.07M479.05 323.07L481.18 323.59"/></g>
<path d="M474.9 318.45 469.7 318.45 469.7 317.1 465.9 319.6 469.7 322.1 469.7 320.75 474.9 320.75Z" fill="#333" fill-opacity="0.5" stroke="#fff" stroke-width="0.9" stroke-linejoin="round"/>
<path d="M440.15 344.7 440.15 349.9 438.8 349.9 441.3 353.7 443.8 349.9 442.45 349.9 442.45 344.7Z" fill="#333" fill-opacity="0.5" stroke="#fff" stroke-width="0.9" stroke-linejoin="round"/>
<path d="M503.15 353.5 503.15 348.3 504.5 348.3 502 344.5 499.5 348.3 500.85 348.3 500.85 353.5Z" fill="#333" fill-opacity="0.5" stroke="#fff" stroke-width="0.9" stroke-linejoin="round"/>
<path d="M466.4 379.95 471.6 379.95 471.6 381.3 475.4 378.8 471.6 376.3 471.6 377.65 466.4 377.65Z" fill="#333" fill-opacity="0.5" stroke="#fff" stroke-width="0.9" stroke-linejoin="round"/>
<text x="472.4" y="236.8" font-size="9.8" text-anchor="middle">Layer 10</text>
<g transform="translate(552.4 275.1)"><g clip-path="url(#c34)"><g filter="url(#bwr10)"><rect x="-40" y="-40" width="80" height="80" fill="#fff"/><path d="M26.9 -0.5 L26.83 2.18 L26.6 4.52 L26.23 6.72 L25.72 8.82 L25.06 10.82 L24.26 12.72 L23.32 14.52 L22.26 16.22 L21.06 17.8 L19.74 19.28 L18.3 20.63 L16.75 21.85 L15.09 22.94 L13.33 23.9 L11.47 24.72 L9.51 25.39 L7.46 25.92 L5.31 26.3 L3.02 26.52 L0.4 26.6 L-2.22 26.52 L-4.51 26.3 L-6.66 25.92 L-8.71 25.39 L-10.67 24.72 L-12.53 23.9 L-14.29 22.94 L-15.95 21.85 L-17.5 20.63 L-18.94 19.28 L-20.26 17.8 L-21.46 16.22 L-22.52 14.52 L-23.46 12.72 L-24.26 10.82 L-24.92 8.82 L-25.43 6.72 L-25.8 4.52 L-26.03 2.18 L-26.1 -0.5 L-26.03 -3.18 L-25.8 -5.52 L-25.43 -7.72 L-24.92 -9.82 L-24.26 -11.82 L-23.46 -13.72 L-22.52 -15.52 L-21.46 -17.22 L-20.26 -18.8 L-18.94 -20.28 L-17.5 -21.63 L-15.95 -22.85 L-14.29 -23.94 L-12.53 -24.9 L-10.67 -25.72 L-8.71 -26.39 L-6.66 -26.92 L-4.51 -27.3 L-2.22 -27.52 L0.4 -27.6 L3.02 -27.52 L5.31 -27.3 L7.46 -26.92 L9.51 -26.39 L11.47 -25.72 L13.33 -24.9 L15.09 -23.94 L16.75 -22.85 L18.3 -21.63 L19.74 -20.28 L21.06 -18.8 L22.26 -17.22 L23.32 -15.52 L24.26 -13.72 L25.06 -11.82 L25.72 -9.82 L26.23 -7.72 L26.6 -5.52 L26.83 -3.18Z" fill="#000"/><path d="M-3.86 -12.42 L-4.35 -10.9 L-4.76 -9.36 L-5.1 -7.82 L-5.36 -6.27 L-5.55 -4.72 L-5.66 -3.16 L-5.7 -1.6 L-5.66 -0.04 L-5.55 1.52 L-5.36 3.07 L-5.1 4.62 L-4.76 6.16 L-4.35 7.7 L-3.86 9.22 L-3.77 11.63 L-4.61 13.88 L-6.25 15.64 L-8.44 16.64 L-10.84 16.72 L-13.09 15.88 L-14.85 14.24 L-15.85 12.06 L-16.13 10.08 L-16.37 8.12 L-16.56 6.17 L-16.71 4.22 L-16.81 2.28 L-16.88 0.34 L-16.9 -1.6 L-16.88 -3.54 L-16.81 -5.48 L-16.71 -7.42 L-16.56 -9.37 L-16.37 -11.32 L-16.13 -13.28 L-15.85 -15.26 L-14.85 -17.44 L-13.09 -19.08 L-10.84 -19.92 L-8.44 -19.84 L-6.25 -18.84 L-4.61 -17.08 L-3.77 -14.83Z" fill="#fff"/><path d="M15.06 -14.7 L15.34 -12.66 L15.57 -10.62 L15.76 -8.6 L15.91 -6.58 L16.02 -4.57 L16.08 -2.56 L16.1 -0.55 L16.08 1.46 L16.02 3.47 L15.91 5.48 L15.76 7.5 L15.57 9.52 L15.34 11.56 L15.06 13.6 L14.09 15.79 L12.34 17.45 L10.1 18.31 L7.7 18.25 L5.5 17.27 L3.85 15.53 L2.98 13.29 L3.05 10.88 L3.54 9.27 L3.95 7.65 L4.29 6.02 L4.56 4.38 L4.75 2.74 L4.86 1.1 L4.9 -0.55 L4.86 -2.2 L4.75 -3.84 L4.56 -5.48 L4.29 -7.12 L3.95 -8.75 L3.54 -10.37 L3.05 -11.98 L2.98 -14.39 L3.85 -16.63 L5.5 -18.37 L7.7 -19.35 L10.1 -19.41 L12.34 -18.55 L14.09 -16.89Z" fill="#fff"/></g><path d="M26.9 -0.5 L26.83 2.18 L26.6 4.52 L26.23 6.72 L25.72 8.82 L25.06 10.82 L24.26 12.72 L23.32 14.52 L22.26 16.22 L21.06 17.8 L19.74 19.28 L18.3 20.63 L16.75 21.85 L15.09 22.94 L13.33 23.9 L11.47 24.72 L9.51 25.39 L7.46 25.92 L5.31 26.3 L3.02 26.52 L0.4 26.6 L-2.22 26.52 L-4.51 26.3 L-6.66 25.92 L-8.71 25.39 L-10.67 24.72 L-12.53 23.9 L-14.29 22.94 L-15.95 21.85 L-17.5 20.63 L-18.94 19.28 L-20.26 17.8 L-21.46 16.22 L-22.52 14.52 L-23.46 12.72 L-24.26 10.82 L-24.92 8.82 L-25.43 6.72 L-25.8 4.52 L-26.03 2.18 L-26.1 -0.5 L-26.03 -3.18 L-25.8 -5.52 L-25.43 -7.72 L-24.92 -9.82 L-24.26 -11.82 L-23.46 -13.72 L-22.52 -15.52 L-21.46 -17.22 L-20.26 -18.8 L-18.94 -20.28 L-17.5 -21.63 L-15.95 -22.85 L-14.29 -23.94 L-12.53 -24.9 L-10.67 -25.72 L-8.71 -26.39 L-6.66 -26.92 L-4.51 -27.3 L-2.22 -27.52 L0.4 -27.6 L3.02 -27.52 L5.31 -27.3 L7.46 -26.92 L9.51 -26.39 L11.47 -25.72 L13.33 -24.9 L15.09 -23.94 L16.75 -22.85 L18.3 -21.63 L19.74 -20.28 L21.06 -18.8 L22.26 -17.22 L23.32 -15.52 L24.26 -13.72 L25.06 -11.82 L25.72 -9.82 L26.23 -7.72 L26.6 -5.52 L26.83 -3.18Z M-3.86 -12.42 L-4.35 -10.9 L-4.76 -9.36 L-5.1 -7.82 L-5.36 -6.27 L-5.55 -4.72 L-5.66 -3.16 L-5.7 -1.6 L-5.66 -0.04 L-5.55 1.52 L-5.36 3.07 L-5.1 4.62 L-4.76 6.16 L-4.35 7.7 L-3.86 9.22 L-3.77 11.63 L-4.61 13.88 L-6.25 15.64 L-8.44 16.64 L-10.84 16.72 L-13.09 15.88 L-14.85 14.24 L-15.85 12.06 L-16.13 10.08 L-16.37 8.12 L-16.56 6.17 L-16.71 4.22 L-16.81 2.28 L-16.88 0.34 L-16.9 -1.6 L-16.88 -3.54 L-16.81 -5.48 L-16.71 -7.42 L-16.56 -9.37 L-16.37 -11.32 L-16.13 -13.28 L-15.85 -15.26 L-14.85 -17.44 L-13.09 -19.08 L-10.84 -19.92 L-8.44 -19.84 L-6.25 -18.84 L-4.61 -17.08 L-3.77 -14.83Z M15.06 -14.7 L15.34 -12.66 L15.57 -10.62 L15.76 -8.6 L15.91 -6.58 L16.02 -4.57 L16.08 -2.56 L16.1 -0.55 L16.08 1.46 L16.02 3.47 L15.91 5.48 L15.76 7.5 L15.57 9.52 L15.34 11.56 L15.06 13.6 L14.09 15.79 L12.34 17.45 L10.1 18.31 L7.7 18.25 L5.5 17.27 L3.85 15.53 L2.98 13.29 L3.05 10.88 L3.54 9.27 L3.95 7.65 L4.29 6.02 L4.56 4.38 L4.75 2.74 L4.86 1.1 L4.9 -0.55 L4.86 -2.2 L4.75 -3.84 L4.56 -5.48 L4.29 -7.12 L3.95 -8.75 L3.54 -10.37 L3.05 -11.98 L2.98 -14.39 L3.85 -16.63 L5.5 -18.37 L7.7 -19.35 L10.1 -19.41 L12.34 -18.55 L14.09 -16.89Z" fill="none" stroke="#fff" stroke-width="3.0" stroke-opacity="0.75" filter="url(#soft)"/><path d="M26.9 -0.5 L26.83 2.18 L26.6 4.52 L26.23 6.72 L25.72 8.82 L25.06 10.82 L24.26 12.72 L23.32 14.52 L22.26 16.22 L21.06 17.8 L19.74 19.28 L18.3 20.63 L16.75 21.85 L15.09 22.94 L13.33 23.9 L11.47 24.72 L9.51 25.39 L7.46 25.92 L5.31 26.3 L3.02 26.52 L0.4 26.6 L-2.22 26.52 L-4.51 26.3 L-6.66 25.92 L-8.71 25.39 L-10.67 24.72 L-12.53 23.9 L-14.29 22.94 L-15.95 21.85 L-17.5 20.63 L-18.94 19.28 L-20.26 17.8 L-21.46 16.22 L-22.52 14.52 L-23.46 12.72 L-24.26 10.82 L-24.92 8.82 L-25.43 6.72 L-25.8 4.52 L-26.03 2.18 L-26.1 -0.5 L-26.03 -3.18 L-25.8 -5.52 L-25.43 -7.72 L-24.92 -9.82 L-24.26 -11.82 L-23.46 -13.72 L-22.52 -15.52 L-21.46 -17.22 L-20.26 -18.8 L-18.94 -20.28 L-17.5 -21.63 L-15.95 -22.85 L-14.29 -23.94 L-12.53 -24.9 L-10.67 -25.72 L-8.71 -26.39 L-6.66 -26.92 L-4.51 -27.3 L-2.22 -27.52 L0.4 -27.6 L3.02 -27.52 L5.31 -27.3 L7.46 -26.92 L9.51 -26.39 L11.47 -25.72 L13.33 -24.9 L15.09 -23.94 L16.75 -22.85 L18.3 -21.63 L19.74 -20.28 L21.06 -18.8 L22.26 -17.22 L23.32 -15.52 L24.26 -13.72 L25.06 -11.82 L25.72 -9.82 L26.23 -7.72 L26.6 -5.52 L26.83 -3.18Z M-3.86 -12.42 L-4.35 -10.9 L-4.76 -9.36 L-5.1 -7.82 L-5.36 -6.27 L-5.55 -4.72 L-5.66 -3.16 L-5.7 -1.6 L-5.66 -0.04 L-5.55 1.52 L-5.36 3.07 L-5.1 4.62 L-4.76 6.16 L-4.35 7.7 L-3.86 9.22 L-3.77 11.63 L-4.61 13.88 L-6.25 15.64 L-8.44 16.64 L-10.84 16.72 L-13.09 15.88 L-14.85 14.24 L-15.85 12.06 L-16.13 10.08 L-16.37 8.12 L-16.56 6.17 L-16.71 4.22 L-16.81 2.28 L-16.88 0.34 L-16.9 -1.6 L-16.88 -3.54 L-16.81 -5.48 L-16.71 -7.42 L-16.56 -9.37 L-16.37 -11.32 L-16.13 -13.28 L-15.85 -15.26 L-14.85 -17.44 L-13.09 -19.08 L-10.84 -19.92 L-8.44 -19.84 L-6.25 -18.84 L-4.61 -17.08 L-3.77 -14.83Z M15.06 -14.7 L15.34 -12.66 L15.57 -10.62 L15.76 -8.6 L15.91 -6.58 L16.02 -4.57 L16.08 -2.56 L16.1 -0.55 L16.08 1.46 L16.02 3.47 L15.91 5.48 L15.76 7.5 L15.57 9.52 L15.34 11.56 L15.06 13.6 L14.09 15.79 L12.34 17.45 L10.1 18.31 L7.7 18.25 L5.5 17.27 L3.85 15.53 L2.98 13.29 L3.05 10.88 L3.54 9.27 L3.95 7.65 L4.29 6.02 L4.56 4.38 L4.75 2.74 L4.86 1.1 L4.9 -0.55 L4.86 -2.2 L4.75 -3.84 L4.56 -5.48 L4.29 -7.12 L3.95 -8.75 L3.54 -10.37 L3.05 -11.98 L2.98 -14.39 L3.85 -16.63 L5.5 -18.37 L7.7 -19.35 L10.1 -19.41 L12.34 -18.55 L14.09 -16.89Z" fill="none" stroke="#fff" stroke-width="2.2" stroke-opacity="0.9"/><rect x="-36" y="-36" width="72" height="72" fill="url(#dots)"/><path d="M26.9 -0.5 L26.83 2.18 L26.6 4.52 L26.23 6.72 L25.72 8.82 L25.06 10.82 L24.26 12.72 L23.32 14.52 L22.26 16.22 L21.06 17.8 L19.74 19.28 L18.3 20.63 L16.75 21.85 L15.09 22.94 L13.33 23.9 L11.47 24.72 L9.51 25.39 L7.46 25.92 L5.31 26.3 L3.02 26.52 L0.4 26.6 L-2.22 26.52 L-4.51 26.3 L-6.66 25.92 L-8.71 25.39 L-10.67 24.72 L-12.53 23.9 L-14.29 22.94 L-15.95 21.85 L-17.5 20.63 L-18.94 19.28 L-20.26 17.8 L-21.46 16.22 L-22.52 14.52 L-23.46 12.72 L-24.26 10.82 L-24.92 8.82 L-25.43 6.72 L-25.8 4.52 L-26.03 2.18 L-26.1 -0.5 L-26.03 -3.18 L-25.8 -5.52 L-25.43 -7.72 L-24.92 -9.82 L-24.26 -11.82 L-23.46 -13.72 L-22.52 -15.52 L-21.46 -17.22 L-20.26 -18.8 L-18.94 -20.28 L-17.5 -21.63 L-15.95 -22.85 L-14.29 -23.94 L-12.53 -24.9 L-10.67 -25.72 L-8.71 -26.39 L-6.66 -26.92 L-4.51 -27.3 L-2.22 -27.52 L0.4 -27.6 L3.02 -27.52 L5.31 -27.3 L7.46 -26.92 L9.51 -26.39 L11.47 -25.72 L13.33 -24.9 L15.09 -23.94 L16.75 -22.85 L18.3 -21.63 L19.74 -20.28 L21.06 -18.8 L22.26 -17.22 L23.32 -15.52 L24.26 -13.72 L25.06 -11.82 L25.72 -9.82 L26.23 -7.72 L26.6 -5.52 L26.83 -3.18Z M-3.86 -12.42 L-4.35 -10.9 L-4.76 -9.36 L-5.1 -7.82 L-5.36 -6.27 L-5.55 -4.72 L-5.66 -3.16 L-5.7 -1.6 L-5.66 -0.04 L-5.55 1.52 L-5.36 3.07 L-5.1 4.62 L-4.76 6.16 L-4.35 7.7 L-3.86 9.22 L-3.77 11.63 L-4.61 13.88 L-6.25 15.64 L-8.44 16.64 L-10.84 16.72 L-13.09 15.88 L-14.85 14.24 L-15.85 12.06 L-16.13 10.08 L-16.37 8.12 L-16.56 6.17 L-16.71 4.22 L-16.81 2.28 L-16.88 0.34 L-16.9 -1.6 L-16.88 -3.54 L-16.81 -5.48 L-16.71 -7.42 L-16.56 -9.37 L-16.37 -11.32 L-16.13 -13.28 L-15.85 -15.26 L-14.85 -17.44 L-13.09 -19.08 L-10.84 -19.92 L-8.44 -19.84 L-6.25 -18.84 L-4.61 -17.08 L-3.77 -14.83Z M15.06 -14.7 L15.34 -12.66 L15.57 -10.62 L15.76 -8.6 L15.91 -6.58 L16.02 -4.57 L16.08 -2.56 L16.1 -0.55 L16.08 1.46 L16.02 3.47 L15.91 5.48 L15.76 7.5 L15.57 9.52 L15.34 11.56 L15.06 13.6 L14.09 15.79 L12.34 17.45 L10.1 18.31 L7.7 18.25 L5.5 17.27 L3.85 15.53 L2.98 13.29 L3.05 10.88 L3.54 9.27 L3.95 7.65 L4.29 6.02 L4.56 4.38 L4.75 2.74 L4.86 1.1 L4.9 -0.55 L4.86 -2.2 L4.75 -3.84 L4.56 -5.48 L4.29 -7.12 L3.95 -8.75 L3.54 -10.37 L3.05 -11.98 L2.98 -14.39 L3.85 -16.63 L5.5 -18.37 L7.7 -19.35 L10.1 -19.41 L12.34 -18.55 L14.09 -16.89Z" fill="url(#rdots)" fill-rule="evenodd"/><path d="M26.9 -0.5 L26.83 2.18 L26.6 4.52 L26.23 6.72 L25.72 8.82 L25.06 10.82 L24.26 12.72 L23.32 14.52 L22.26 16.22 L21.06 17.8 L19.74 19.28 L18.3 20.63 L16.75 21.85 L15.09 22.94 L13.33 23.9 L11.47 24.72 L9.51 25.39 L7.46 25.92 L5.31 26.3 L3.02 26.52 L0.4 26.6 L-2.22 26.52 L-4.51 26.3 L-6.66 25.92 L-8.71 25.39 L-10.67 24.72 L-12.53 23.9 L-14.29 22.94 L-15.95 21.85 L-17.5 20.63 L-18.94 19.28 L-20.26 17.8 L-21.46 16.22 L-22.52 14.52 L-23.46 12.72 L-24.26 10.82 L-24.92 8.82 L-25.43 6.72 L-25.8 4.52 L-26.03 2.18 L-26.1 -0.5 L-26.03 -3.18 L-25.8 -5.52 L-25.43 -7.72 L-24.92 -9.82 L-24.26 -11.82 L-23.46 -13.72 L-22.52 -15.52 L-21.46 -17.22 L-20.26 -18.8 L-18.94 -20.28 L-17.5 -21.63 L-15.95 -22.85 L-14.29 -23.94 L-12.53 -24.9 L-10.67 -25.72 L-8.71 -26.39 L-6.66 -26.92 L-4.51 -27.3 L-2.22 -27.52 L0.4 -27.6 L3.02 -27.52 L5.31 -27.3 L7.46 -26.92 L9.51 -26.39 L11.47 -25.72 L13.33 -24.9 L15.09 -23.94 L16.75 -22.85 L18.3 -21.63 L19.74 -20.28 L21.06 -18.8 L22.26 -17.22 L23.32 -15.52 L24.26 -13.72 L25.06 -11.82 L25.72 -9.82 L26.23 -7.72 L26.6 -5.52 L26.83 -3.18Z M-3.86 -12.42 L-4.35 -10.9 L-4.76 -9.36 L-5.1 -7.82 L-5.36 -6.27 L-5.55 -4.72 L-5.66 -3.16 L-5.7 -1.6 L-5.66 -0.04 L-5.55 1.52 L-5.36 3.07 L-5.1 4.62 L-4.76 6.16 L-4.35 7.7 L-3.86 9.22 L-3.77 11.63 L-4.61 13.88 L-6.25 15.64 L-8.44 16.64 L-10.84 16.72 L-13.09 15.88 L-14.85 14.24 L-15.85 12.06 L-16.13 10.08 L-16.37 8.12 L-16.56 6.17 L-16.71 4.22 L-16.81 2.28 L-16.88 0.34 L-16.9 -1.6 L-16.88 -3.54 L-16.81 -5.48 L-16.71 -7.42 L-16.56 -9.37 L-16.37 -11.32 L-16.13 -13.28 L-15.85 -15.26 L-14.85 -17.44 L-13.09 -19.08 L-10.84 -19.92 L-8.44 -19.84 L-6.25 -18.84 L-4.61 -17.08 L-3.77 -14.83Z M15.06 -14.7 L15.34 -12.66 L15.57 -10.62 L15.76 -8.6 L15.91 -6.58 L16.02 -4.57 L16.08 -2.56 L16.1 -0.55 L16.08 1.46 L16.02 3.47 L15.91 5.48 L15.76 7.5 L15.57 9.52 L15.34 11.56 L15.06 13.6 L14.09 15.79 L12.34 17.45 L10.1 18.31 L7.7 18.25 L5.5 17.27 L3.85 15.53 L2.98 13.29 L3.05 10.88 L3.54 9.27 L3.95 7.65 L4.29 6.02 L4.56 4.38 L4.75 2.74 L4.86 1.1 L4.9 -0.55 L4.86 -2.2 L4.75 -3.84 L4.56 -5.48 L4.29 -7.12 L3.95 -8.75 L3.54 -10.37 L3.05 -11.98 L2.98 -14.39 L3.85 -16.63 L5.5 -18.37 L7.7 -19.35 L10.1 -19.41 L12.34 -18.55 L14.09 -16.89Z" fill="none" stroke="#000" stroke-opacity="0.85" stroke-dasharray="0.9 1.65" stroke-width="2.6"/></g></g>
<circle cx="552.4" cy="350.0" r="34.5" fill="#000"/>
<g filter="url(#glowm)" fill="none" stroke-linecap="round" stroke-width="2.3"><path stroke="#ff0000" d="M570.7 328.37L572.14 329.72M572.14 329.72L573.46 331.2M538.06 332.32L539.83 330.79M557.57 331.72L559.68 330.7"/><path stroke="#ff3200" d="M565.73 325.1L567.49 326.06M567.49 326.06L569.15 327.15M569.15 327.15L570.7 328.37"/><path stroke="#ff6600" d="M561.91 323.61L563.87 324.28M563.87 324.28L565.73 325.1M537.01 334.41L538.06 332.32M556.02 333.47L557.57 331.72"/><path stroke="#ff9900" d="M555.42 322.48L557.71 322.7M557.71 322.7L559.86 323.08M559.86 323.08L561.91 323.61"/><path stroke="#ffcc00" d="M547.89 322.7L550.18 322.48M550.18 322.48L552.8 322.4M552.8 322.4L555.42 322.48M535.82 346.42L535.9 344.44M535.9 344.44L536.02 342.45M536.02 342.45L536.19 340.46M536.19 340.46L536.42 338.46M536.42 338.46L536.69 336.44M536.69 336.44L537.01 334.41M555.4 360.88L555.98 359.27M555.98 359.27L556.47 357.66M556.47 357.66L556.88 356.03M555.26 335.69L556.02 333.47"/><path stroke="#ffff00" d="M541.73 324.28L543.69 323.61M543.69 323.61L545.74 323.08M545.74 323.08L547.89 322.7M537.01 362.39L536.69 360.36M536.69 360.36L536.42 358.34M536.42 358.34L536.19 356.34M536.19 356.34L536.02 354.35M536.02 354.35L535.9 352.36M535.9 352.36L535.82 350.38M535.82 350.38L535.8 348.4M535.8 348.4L535.82 346.42M555.26 363.21L555.4 360.88M556.88 356.03L557.19 354.39M557.19 354.39L557.42 352.75M557.42 352.75L557.55 351.1M557.55 351.1L557.6 349.45"/><path stroke="#cbff00" d="M538.11 326.06L539.87 325.1M539.87 325.1L541.73 324.28M557.6 349.45L557.55 347.8M557.55 347.8L557.42 346.15M557.42 346.15L557.19 344.51M557.19 344.51L556.88 342.87M555.4 338.02L555.26 335.69"/><path stroke="#99ff00" d="M533.46 329.72L534.9 328.37M534.9 328.37L536.45 327.15M536.45 327.15L538.11 326.06M538.06 364.48L537.01 362.39M556.02 365.43L555.26 363.21M556.88 342.87L556.47 341.24M556.47 341.24L555.98 339.63M555.98 339.63L555.4 338.02"/><path stroke="#65ff00" d="M530.94 332.78L532.14 331.2M532.14 331.2L533.46 329.72"/><path stroke="#33ff00" d="M528.14 338.18L528.94 336.28M528.94 336.28L529.88 334.48M529.88 334.48L530.94 332.78M539.83 366.01L538.06 364.48M557.57 367.18L556.02 365.43"/><path stroke="#00ff00" d="M526.6 344.48L526.97 342.28M526.97 342.28L527.48 340.18M527.48 340.18L528.14 338.18"/><path stroke="#00ff32" d="M526.37 352.18L526.3 349.5M526.3 349.5L526.37 346.82M526.37 346.82L526.6 344.48M542.05 366.75L539.83 366.01M559.68 368.2L557.57 367.18"/><path stroke="#00ff66" d="M527.48 358.82L526.97 356.72M526.97 356.72L526.6 354.52M526.6 354.52L526.37 352.18M544.39 366.59L542.05 366.75"/><path stroke="#00ff99" d="M528.94 362.72L528.14 360.82M528.14 360.82L527.48 358.82M562.01 368.34L559.68 368.2"/><path stroke="#00ffcb" d="M532.14 367.8L530.94 366.22M530.94 366.22L529.88 364.52M529.88 364.52L528.94 362.72M546.48 365.54L544.39 366.59"/><path stroke="#00ffff" d="M534.9 370.63L533.46 369.28M533.46 369.28L532.14 367.8M564.23 367.58L562.01 368.34"/><path stroke="#00cbff" d="M539.87 373.9L538.11 372.94M538.11 372.94L536.45 371.85M536.45 371.85L534.9 370.63M548.01 363.77L546.48 365.54M565.98 366.03L564.23 367.58"/><path stroke="#0099ff" d="M543.69 375.39L541.73 374.72M541.73 374.72L539.87 373.9"/><path stroke="#0066ff" d="M550.18 376.52L547.89 376.3M547.89 376.3L545.74 375.92M545.74 375.92L543.69 375.39M548.59 337.59L548.01 339.1M548.01 339.1L547.52 340.63M547.52 340.63L547.12 342.17M548.75 361.55L548.01 363.77M567 363.92L565.98 366.03"/><path stroke="#0033ff" d="M557.71 376.3L555.42 376.52M555.42 376.52L552.8 376.6M552.8 376.6L550.18 376.52M547.12 342.17L546.8 343.72M546.8 343.72L546.58 345.28M546.58 345.28L546.44 346.84M546.44 346.84L546.4 348.4M548.75 335.25L548.59 337.59"/><path stroke="#0000ff" d="M563.87 374.72L561.91 375.39M561.91 375.39L559.86 375.92M559.86 375.92L557.71 376.3M546.4 348.4L546.44 349.96M546.44 349.96L546.58 351.52M546.58 351.52L546.8 353.08M548.59 359.21L548.75 361.55M568.18 347.4L568.2 349.45M568.2 349.45L568.18 351.5M568.18 351.5L568.1 353.55M568.1 353.55L567.98 355.61M567.98 355.61L567.81 357.67M567.81 357.67L567.59 359.74M567.59 359.74L567.32 361.83M567.32 361.83L567 363.92"/><path stroke="#3200ff" d="M567.49 372.94L565.73 373.9M565.73 373.9L563.87 374.72M546.8 353.08L547.12 354.63M547.12 354.63L547.52 356.17M547.52 356.17L548.01 357.7M548.01 357.7L548.59 359.21M548.01 333.03L548.75 335.25M567 334.98L567.32 337.07M567.32 337.07L567.59 339.16M567.59 339.16L567.81 341.23M567.81 341.23L567.98 343.29M567.98 343.29L568.1 345.35M568.1 345.35L568.18 347.4"/><path stroke="#6500ff" d="M572.14 369.28L570.7 370.63M570.7 370.63L569.15 371.85M569.15 371.85L567.49 372.94"/><path stroke="#9900ff" d="M574.66 366.22L573.46 367.8M573.46 367.8L572.14 369.28M546.48 331.26L548.01 333.03M565.98 332.87L567 334.98"/><path stroke="#cc00ff" d="M577.46 360.82L576.66 362.72M576.66 362.72L575.72 364.52M575.72 364.52L574.66 366.22M564.23 331.32L565.98 332.87"/><path stroke="#ff00ff" d="M579 354.52L578.63 356.72M578.63 356.72L578.12 358.82M578.12 358.82L577.46 360.82M544.39 330.21L546.48 331.26"/><path stroke="#ff00cb" d="M579.3 349.5L579.23 352.18M579.23 352.18L579 354.52M579.23 346.82L579.3 349.5M562.01 330.56L564.23 331.32"/><path stroke="#ff0098" d="M578.12 340.18L578.63 342.28M578.63 342.28L579 344.48M579 344.48L579.23 346.82M542.05 330.05L544.39 330.21"/><path stroke="#ff0066" d="M576.66 336.28L577.46 338.18M577.46 338.18L578.12 340.18M559.68 330.7L562.01 330.56"/><path stroke="#ff0033" d="M573.46 331.2L574.66 332.78M574.66 332.78L575.72 334.48M575.72 334.48L576.66 336.28M539.83 330.79L542.05 330.05"/></g>
<path d="M562.49 319.56 557.78 321.75 557.21 320.53 554.82 324.4 559.32 325.06 558.75 323.84 563.46 321.64Z" fill="#333" fill-opacity="0.5" stroke="#fff" stroke-width="0.9" stroke-linejoin="round"/>
<path d="M521.03 344.89 524.37 348.88 523.33 349.74 527.69 351.05 527.17 346.53 526.13 347.4 522.79 343.41Z" fill="#333" fill-opacity="0.5" stroke="#fff" stroke-width="0.9" stroke-linejoin="round"/>
<path d="M581.34 359.19 579.15 354.48 580.37 353.91 576.5 351.52 575.84 356.02 577.06 355.45 579.26 360.16Z" fill="#333" fill-opacity="0.5" stroke="#fff" stroke-width="0.9" stroke-linejoin="round"/>
<path d="M546.89 380.97 550.88 377.63 551.74 378.67 553.05 374.31 548.53 374.83 549.4 375.87 545.41 379.21Z" fill="#333" fill-opacity="0.5" stroke="#fff" stroke-width="0.9" stroke-linejoin="round"/>
<text x="553.3" y="236.8" font-size="9.8" text-anchor="middle">Layer 15</text>
<text class="lbl" x="343.8" y="228.2">d</text>
<g stroke="#1414f0" fill="#1414f0" stroke-width="1.5"><path d="M607.4 246 V236 M607.4 246 H618" fill="none"/><path d="M607.4 231.4 l3.1 6 h-6.2 Z M623 246 l-6 3.1 v-6.2 Z" stroke="none"/><circle cx="607.4" cy="246" r="2.1" fill="#fff" stroke-width="0.9"/><circle cx="607.4" cy="246" r="0.7" stroke="none"/></g>
<g font-size="9" class="i" style="fill:#1414f0;stroke:#1414f0"><text x="605" y="229" style="fill:#1414f0;stroke:#1414f0">y</text><text x="624.2" y="248.6" style="fill:#1414f0;stroke:#1414f0">x</text><text x="599.3" y="248.6" style="fill:#1414f0;stroke:#1414f0">z</text></g>
<rect x="604.6" y="275.8" width="8.9" height="32" fill="url(#cbar)" stroke="#000" stroke-width="0.5"/>
<text x="603.6" y="271.4" font-size="8.5" class="i">m<tspan font-size="5.5" dy="1.5">z</tspan></text>
<text x="621.3" y="282.2" font-size="8.6" text-anchor="middle">+1</text>
<text x="622" y="295.2" font-size="8.6" text-anchor="middle">0</text>
<text x="621.3" y="308.4" font-size="8.6" text-anchor="middle">−1</text>
<g><path d="M609 367.4 L622.3 367.4 A13.3 13.3 0 0 0 622.05 364.83Z" fill="#0092ff"/><path d="M609 367.4 L622.1 365.09 A13.3 13.3 0 0 0 621.4 362.6Z" fill="#0067ff"/><path d="M609 367.4 L621.5 362.85 A13.3 13.3 0 0 0 620.38 360.52Z" fill="#003dff"/><path d="M609 367.4 L620.52 360.75 A13.3 13.3 0 0 0 619.02 358.65Z" fill="#0012ff"/><path d="M609 367.4 L619.19 358.85 A13.3 13.3 0 0 0 617.34 357.04Z" fill="#1700ff"/><path d="M609 367.4 L617.55 357.21 A13.3 13.3 0 0 0 615.42 355.75Z" fill="#4200ff"/><path d="M609 367.4 L615.65 355.88 A13.3 13.3 0 0 0 613.3 354.81Z" fill="#6c00ff"/><path d="M609 367.4 L613.55 354.9 A13.3 13.3 0 0 0 611.05 354.26Z" fill="#9700ff"/><path d="M609 367.4 L611.31 354.3 A13.3 13.3 0 0 0 608.73 354.1Z" fill="#c100ff"/><path d="M609 367.4 L609 354.1 A13.3 13.3 0 0 0 606.43 354.35Z" fill="#ec00ff"/><path d="M609 367.4 L606.69 354.3 A13.3 13.3 0 0 0 604.2 355Z" fill="#ff00e7"/><path d="M609 367.4 L604.45 354.9 A13.3 13.3 0 0 0 602.12 356.02Z" fill="#ff00bc"/><path d="M609 367.4 L602.35 355.88 A13.3 13.3 0 0 0 600.25 357.38Z" fill="#ff0092"/><path d="M609 367.4 L600.45 357.21 A13.3 13.3 0 0 0 598.64 359.06Z" fill="#ff0067"/><path d="M609 367.4 L598.81 358.85 A13.3 13.3 0 0 0 597.35 360.98Z" fill="#ff003d"/><path d="M609 367.4 L597.48 360.75 A13.3 13.3 0 0 0 596.41 363.1Z" fill="#ff0012"/><path d="M609 367.4 L596.5 362.85 A13.3 13.3 0 0 0 595.86 365.35Z" fill="#ff1700"/><path d="M609 367.4 L595.9 365.09 A13.3 13.3 0 0 0 595.7 367.67Z" fill="#ff4200"/><path d="M609 367.4 L595.7 367.4 A13.3 13.3 0 0 0 595.95 369.97Z" fill="#ff6c00"/><path d="M609 367.4 L595.9 369.71 A13.3 13.3 0 0 0 596.6 372.2Z" fill="#ff9700"/><path d="M609 367.4 L596.5 371.95 A13.3 13.3 0 0 0 597.62 374.28Z" fill="#ffc100"/><path d="M609 367.4 L597.48 374.05 A13.3 13.3 0 0 0 598.98 376.15Z" fill="#ffec00"/><path d="M609 367.4 L598.81 375.95 A13.3 13.3 0 0 0 600.66 377.76Z" fill="#e7ff00"/><path d="M609 367.4 L600.45 377.59 A13.3 13.3 0 0 0 602.58 379.05Z" fill="#bcff00"/><path d="M609 367.4 L602.35 378.92 A13.3 13.3 0 0 0 604.7 379.99Z" fill="#92ff00"/><path d="M609 367.4 L604.45 379.9 A13.3 13.3 0 0 0 606.95 380.54Z" fill="#67ff00"/><path d="M609 367.4 L606.69 380.5 A13.3 13.3 0 0 0 609.27 380.7Z" fill="#3dff00"/><path d="M609 367.4 L609 380.7 A13.3 13.3 0 0 0 611.57 380.45Z" fill="#12ff00"/><path d="M609 367.4 L611.31 380.5 A13.3 13.3 0 0 0 613.8 379.8Z" fill="#00ff17"/><path d="M609 367.4 L613.55 379.9 A13.3 13.3 0 0 0 615.88 378.78Z" fill="#00ff42"/><path d="M609 367.4 L615.65 378.92 A13.3 13.3 0 0 0 617.75 377.42Z" fill="#00ff6c"/><path d="M609 367.4 L617.55 377.59 A13.3 13.3 0 0 0 619.36 375.74Z" fill="#00ff97"/><path d="M609 367.4 L619.19 375.95 A13.3 13.3 0 0 0 620.65 373.82Z" fill="#00ffc1"/><path d="M609 367.4 L620.52 374.05 A13.3 13.3 0 0 0 621.59 371.7Z" fill="#00ffec"/><path d="M609 367.4 L621.5 371.95 A13.3 13.3 0 0 0 622.14 369.45Z" fill="#00e7ff"/><path d="M609 367.4 L622.1 369.71 A13.3 13.3 0 0 0 622.3 367.13Z" fill="#00bcff"/></g>
<circle cx="609.0" cy="367.4" r="13.600000000000001" fill="url(#wheel)"/>
<g stroke="#fff" stroke-width="1.1" fill="none" stroke-linecap="round" stroke-linejoin="round"><path d="M608.6 367.3 V355 M605.9 359.2 L608.6 354.8 L611.3 359.2 M608.6 367.3 H621.2 M617.2 364.6 L621.6 367.3 L617.2 370 M611.3 359.2 L617.2 364.6"/></g>
<text x="604.6" y="352.2" font-size="8.5" class="i">m<tspan font-size="5.5" dy="1.5">y</tspan></text>
<text x="623.6" y="369.6" font-size="8.5" class="i">m<tspan font-size="5.5" dy="1.5">x</tspan></text>
</svg></body></html>
